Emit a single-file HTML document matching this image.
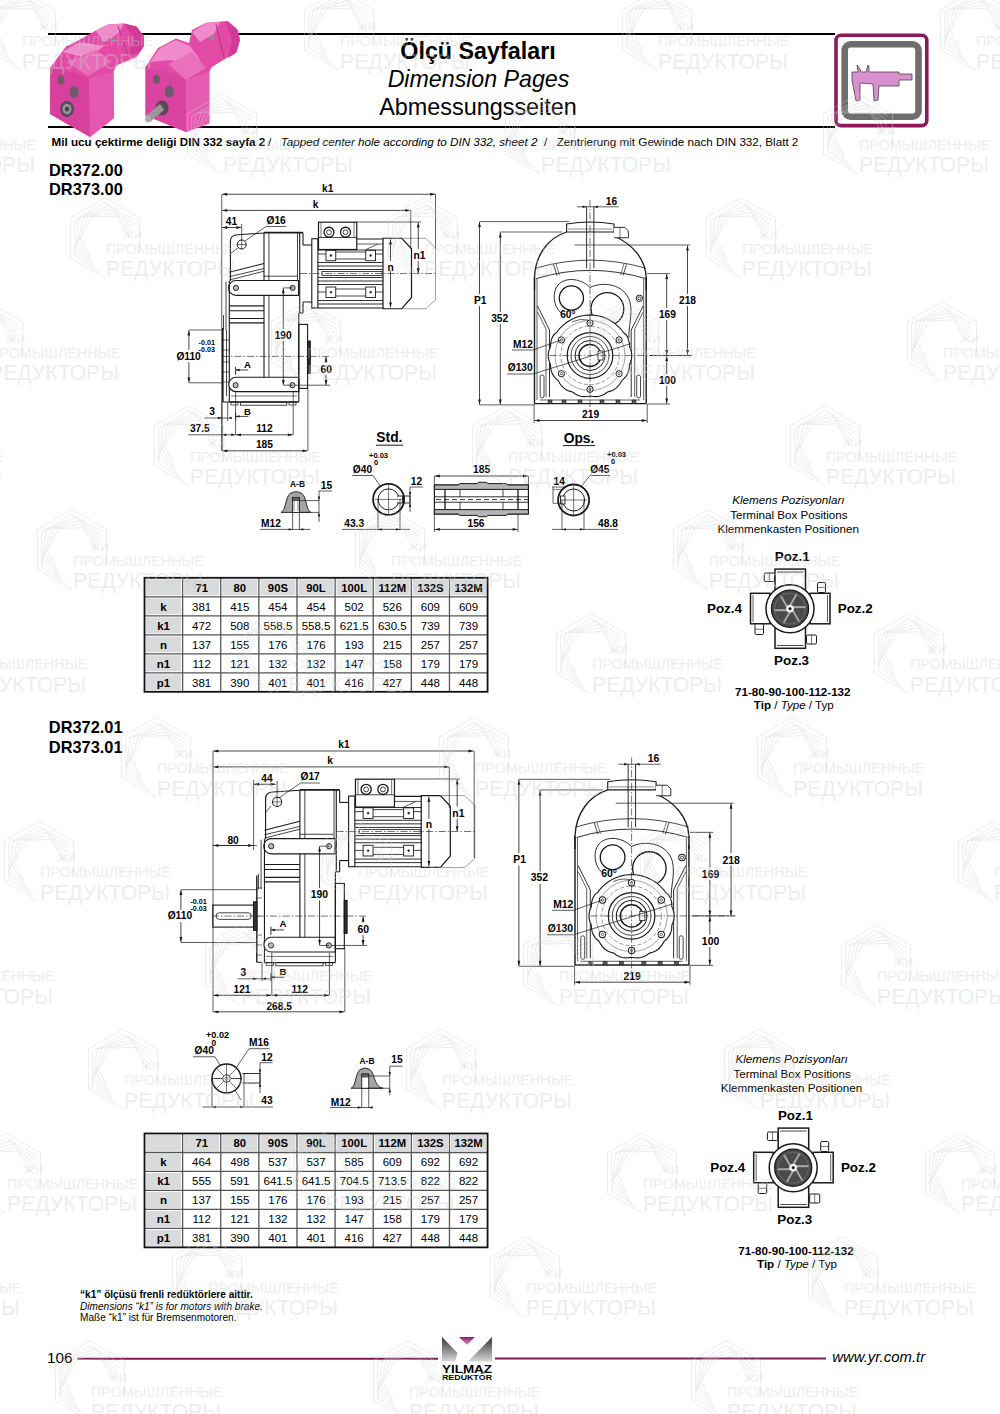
<!DOCTYPE html><html><head><meta charset="utf-8"><style>html,body{margin:0;padding:0;background:#fff;width:1000px;height:1414px;overflow:hidden}svg{display:block}</style></head><body>
<svg width="1000" height="1414" viewBox="0 0 1000 1414" font-family='"Liberation Sans", sans-serif'>
<line x1="48" y1="34" x2="835" y2="34" stroke="#000" stroke-width="2"/>
<line x1="48" y1="127" x2="835" y2="127" stroke="#000" stroke-width="2"/>
<text x="478" y="59" font-size="23.3" font-weight="bold" text-anchor="middle">Ölçü Sayfaları</text>
<text x="478.5" y="86.5" font-size="23.2" font-style="italic" text-anchor="middle">Dimension Pages</text>
<text x="478" y="115" font-size="23.4" text-anchor="middle">Abmessungsseiten</text>
<rect x="836" y="35.2" width="90.8" height="90.4" rx="5" fill="#fff" stroke="#8a1a5c" stroke-width="3.6"/>
<rect x="844.7" y="44.3" width="73.8" height="72.4" rx="6" fill="#fff" stroke="#6e6e6e" stroke-width="6.6"/>
<path d="M852,72 L858,72 L857,65 L860,69 L861,72 L866,72 L868,65 L869,67 L869,72 L899,72 L899,74 L912,74 L912,80 L899,80 L899,86 L879,86 L878,100 L874,101 L873,84 L860,83 L860,100 L856,101 L852,80 Z" fill="#d890cf" stroke="#444" stroke-width="0.8"/>
<text x="51.5" y="146.3" font-size="11.67"><tspan font-weight="bold">Mil ucu çektirme deliği DIN 332 sayfa 2</tspan><tspan x="268">/</tspan><tspan x="280.7" font-style="italic">Tapped center hole according to DIN 332, sheet 2</tspan><tspan x="544">/</tspan><tspan x="556.7">Zentrierung mit Gewinde nach DIN 332, Blatt 2</tspan></text>
<text x="49" y="175.7" font-size="16.4" font-weight="bold">DR372.00</text>
<text x="49" y="195.2" font-size="16.4" font-weight="bold">DR373.00</text>
<text x="48.8" y="732.8" font-size="16.4" font-weight="bold">DR372.01</text>
<text x="48.8" y="752.8" font-size="16.4" font-weight="bold">DR373.01</text>
<rect x="144.5" y="577.8" width="343.08" height="114.0" fill="#fff"/>
<rect x="146.00" y="579.30" width="35.12" height="16.00" fill="#d9dadc"/>
<rect x="184.12" y="579.30" width="35.12" height="16.00" fill="#d9dadc"/>
<rect x="222.24" y="579.30" width="35.12" height="16.00" fill="#d9dadc"/>
<rect x="260.36" y="579.30" width="35.12" height="16.00" fill="#d9dadc"/>
<rect x="298.48" y="579.30" width="35.12" height="16.00" fill="#d9dadc"/>
<rect x="336.60" y="579.30" width="35.12" height="16.00" fill="#d9dadc"/>
<rect x="374.72" y="579.30" width="35.12" height="16.00" fill="#d9dadc"/>
<rect x="412.84" y="579.30" width="35.12" height="16.00" fill="#d9dadc"/>
<rect x="450.96" y="579.30" width="35.12" height="16.00" fill="#d9dadc"/>
<rect x="146.00" y="598.30" width="35.12" height="16.00" fill="#d9dadc"/>
<rect x="146.00" y="617.30" width="35.12" height="16.00" fill="#d9dadc"/>
<rect x="146.00" y="636.30" width="35.12" height="16.00" fill="#d9dadc"/>
<rect x="146.00" y="655.30" width="35.12" height="16.00" fill="#d9dadc"/>
<rect x="146.00" y="674.30" width="35.12" height="16.00" fill="#d9dadc"/>
<line x1="182.62" y1="577.8" x2="182.62" y2="691.8" stroke="#555" stroke-width="1.3"/>
<line x1="220.74" y1="577.8" x2="220.74" y2="691.8" stroke="#555" stroke-width="1.3"/>
<line x1="258.86" y1="577.8" x2="258.86" y2="691.8" stroke="#555" stroke-width="1.3"/>
<line x1="296.98" y1="577.8" x2="296.98" y2="691.8" stroke="#555" stroke-width="1.3"/>
<line x1="335.10" y1="577.8" x2="335.10" y2="691.8" stroke="#555" stroke-width="1.3"/>
<line x1="373.22" y1="577.8" x2="373.22" y2="691.8" stroke="#555" stroke-width="1.3"/>
<line x1="411.34" y1="577.8" x2="411.34" y2="691.8" stroke="#555" stroke-width="1.3"/>
<line x1="449.46" y1="577.8" x2="449.46" y2="691.8" stroke="#555" stroke-width="1.3"/>
<line x1="144.5" y1="596.80" x2="487.58" y2="596.80" stroke="#555" stroke-width="1.3"/>
<line x1="144.5" y1="615.80" x2="487.58" y2="615.80" stroke="#555" stroke-width="1.3"/>
<line x1="144.5" y1="634.80" x2="487.58" y2="634.80" stroke="#555" stroke-width="1.3"/>
<line x1="144.5" y1="653.80" x2="487.58" y2="653.80" stroke="#555" stroke-width="1.3"/>
<line x1="144.5" y1="672.80" x2="487.58" y2="672.80" stroke="#555" stroke-width="1.3"/>
<rect x="144.5" y="577.8" width="343.08" height="114.0" fill="none" stroke="#111" stroke-width="1.8"/>
<text x="201.68" y="591.50" font-size="11.3" font-weight="bold" text-anchor="middle">71</text>
<text x="239.80" y="591.50" font-size="11.3" font-weight="bold" text-anchor="middle">80</text>
<text x="277.92" y="591.50" font-size="11.3" font-weight="bold" text-anchor="middle">90S</text>
<text x="316.04" y="591.50" font-size="11.3" font-weight="bold" text-anchor="middle">90L</text>
<text x="354.16" y="591.50" font-size="11.3" font-weight="bold" text-anchor="middle">100L</text>
<text x="392.28" y="591.50" font-size="11.3" font-weight="bold" text-anchor="middle">112M</text>
<text x="430.40" y="591.50" font-size="11.3" font-weight="bold" text-anchor="middle">132S</text>
<text x="468.52" y="591.50" font-size="11.3" font-weight="bold" text-anchor="middle">132M</text>
<text x="163.56" y="610.50" font-size="11.5" font-weight="bold" text-anchor="middle">k</text>
<text x="201.68" y="610.50" font-size="11.5" text-anchor="middle">381</text>
<text x="239.80" y="610.50" font-size="11.5" text-anchor="middle">415</text>
<text x="277.92" y="610.50" font-size="11.5" text-anchor="middle">454</text>
<text x="316.04" y="610.50" font-size="11.5" text-anchor="middle">454</text>
<text x="354.16" y="610.50" font-size="11.5" text-anchor="middle">502</text>
<text x="392.28" y="610.50" font-size="11.5" text-anchor="middle">526</text>
<text x="430.40" y="610.50" font-size="11.5" text-anchor="middle">609</text>
<text x="468.52" y="610.50" font-size="11.5" text-anchor="middle">609</text>
<text x="163.56" y="629.50" font-size="11.5" font-weight="bold" text-anchor="middle">k1</text>
<text x="201.68" y="629.50" font-size="11.5" text-anchor="middle">472</text>
<text x="239.80" y="629.50" font-size="11.5" text-anchor="middle">508</text>
<text x="277.92" y="629.50" font-size="11.5" text-anchor="middle">558.5</text>
<text x="316.04" y="629.50" font-size="11.5" text-anchor="middle">558.5</text>
<text x="354.16" y="629.50" font-size="11.5" text-anchor="middle">621.5</text>
<text x="392.28" y="629.50" font-size="11.5" text-anchor="middle">630.5</text>
<text x="430.40" y="629.50" font-size="11.5" text-anchor="middle">739</text>
<text x="468.52" y="629.50" font-size="11.5" text-anchor="middle">739</text>
<text x="163.56" y="648.50" font-size="11.5" font-weight="bold" text-anchor="middle">n</text>
<text x="201.68" y="648.50" font-size="11.5" text-anchor="middle">137</text>
<text x="239.80" y="648.50" font-size="11.5" text-anchor="middle">155</text>
<text x="277.92" y="648.50" font-size="11.5" text-anchor="middle">176</text>
<text x="316.04" y="648.50" font-size="11.5" text-anchor="middle">176</text>
<text x="354.16" y="648.50" font-size="11.5" text-anchor="middle">193</text>
<text x="392.28" y="648.50" font-size="11.5" text-anchor="middle">215</text>
<text x="430.40" y="648.50" font-size="11.5" text-anchor="middle">257</text>
<text x="468.52" y="648.50" font-size="11.5" text-anchor="middle">257</text>
<text x="163.56" y="667.50" font-size="11.5" font-weight="bold" text-anchor="middle">n1</text>
<text x="201.68" y="667.50" font-size="11.5" text-anchor="middle">112</text>
<text x="239.80" y="667.50" font-size="11.5" text-anchor="middle">121</text>
<text x="277.92" y="667.50" font-size="11.5" text-anchor="middle">132</text>
<text x="316.04" y="667.50" font-size="11.5" text-anchor="middle">132</text>
<text x="354.16" y="667.50" font-size="11.5" text-anchor="middle">147</text>
<text x="392.28" y="667.50" font-size="11.5" text-anchor="middle">158</text>
<text x="430.40" y="667.50" font-size="11.5" text-anchor="middle">179</text>
<text x="468.52" y="667.50" font-size="11.5" text-anchor="middle">179</text>
<text x="163.56" y="686.50" font-size="11.5" font-weight="bold" text-anchor="middle">p1</text>
<text x="201.68" y="686.50" font-size="11.5" text-anchor="middle">381</text>
<text x="239.80" y="686.50" font-size="11.5" text-anchor="middle">390</text>
<text x="277.92" y="686.50" font-size="11.5" text-anchor="middle">401</text>
<text x="316.04" y="686.50" font-size="11.5" text-anchor="middle">401</text>
<text x="354.16" y="686.50" font-size="11.5" text-anchor="middle">416</text>
<text x="392.28" y="686.50" font-size="11.5" text-anchor="middle">427</text>
<text x="430.40" y="686.50" font-size="11.5" text-anchor="middle">448</text>
<text x="468.52" y="686.50" font-size="11.5" text-anchor="middle">448</text>
<rect x="144.5" y="1133.5" width="343.08" height="113.88" fill="#fff"/>
<rect x="146.00" y="1135.00" width="35.12" height="15.98" fill="#d9dadc"/>
<rect x="184.12" y="1135.00" width="35.12" height="15.98" fill="#d9dadc"/>
<rect x="222.24" y="1135.00" width="35.12" height="15.98" fill="#d9dadc"/>
<rect x="260.36" y="1135.00" width="35.12" height="15.98" fill="#d9dadc"/>
<rect x="298.48" y="1135.00" width="35.12" height="15.98" fill="#d9dadc"/>
<rect x="336.60" y="1135.00" width="35.12" height="15.98" fill="#d9dadc"/>
<rect x="374.72" y="1135.00" width="35.12" height="15.98" fill="#d9dadc"/>
<rect x="412.84" y="1135.00" width="35.12" height="15.98" fill="#d9dadc"/>
<rect x="450.96" y="1135.00" width="35.12" height="15.98" fill="#d9dadc"/>
<rect x="146.00" y="1153.98" width="35.12" height="15.98" fill="#d9dadc"/>
<rect x="146.00" y="1172.96" width="35.12" height="15.98" fill="#d9dadc"/>
<rect x="146.00" y="1191.94" width="35.12" height="15.98" fill="#d9dadc"/>
<rect x="146.00" y="1210.92" width="35.12" height="15.98" fill="#d9dadc"/>
<rect x="146.00" y="1229.90" width="35.12" height="15.98" fill="#d9dadc"/>
<line x1="182.62" y1="1133.5" x2="182.62" y2="1247.38" stroke="#555" stroke-width="1.3"/>
<line x1="220.74" y1="1133.5" x2="220.74" y2="1247.38" stroke="#555" stroke-width="1.3"/>
<line x1="258.86" y1="1133.5" x2="258.86" y2="1247.38" stroke="#555" stroke-width="1.3"/>
<line x1="296.98" y1="1133.5" x2="296.98" y2="1247.38" stroke="#555" stroke-width="1.3"/>
<line x1="335.10" y1="1133.5" x2="335.10" y2="1247.38" stroke="#555" stroke-width="1.3"/>
<line x1="373.22" y1="1133.5" x2="373.22" y2="1247.38" stroke="#555" stroke-width="1.3"/>
<line x1="411.34" y1="1133.5" x2="411.34" y2="1247.38" stroke="#555" stroke-width="1.3"/>
<line x1="449.46" y1="1133.5" x2="449.46" y2="1247.38" stroke="#555" stroke-width="1.3"/>
<line x1="144.5" y1="1152.48" x2="487.58" y2="1152.48" stroke="#555" stroke-width="1.3"/>
<line x1="144.5" y1="1171.46" x2="487.58" y2="1171.46" stroke="#555" stroke-width="1.3"/>
<line x1="144.5" y1="1190.44" x2="487.58" y2="1190.44" stroke="#555" stroke-width="1.3"/>
<line x1="144.5" y1="1209.42" x2="487.58" y2="1209.42" stroke="#555" stroke-width="1.3"/>
<line x1="144.5" y1="1228.40" x2="487.58" y2="1228.40" stroke="#555" stroke-width="1.3"/>
<rect x="144.5" y="1133.5" width="343.08" height="113.88" fill="none" stroke="#111" stroke-width="1.8"/>
<text x="201.68" y="1147.19" font-size="11.3" font-weight="bold" text-anchor="middle">71</text>
<text x="239.80" y="1147.19" font-size="11.3" font-weight="bold" text-anchor="middle">80</text>
<text x="277.92" y="1147.19" font-size="11.3" font-weight="bold" text-anchor="middle">90S</text>
<text x="316.04" y="1147.19" font-size="11.3" font-weight="bold" text-anchor="middle">90L</text>
<text x="354.16" y="1147.19" font-size="11.3" font-weight="bold" text-anchor="middle">100L</text>
<text x="392.28" y="1147.19" font-size="11.3" font-weight="bold" text-anchor="middle">112M</text>
<text x="430.40" y="1147.19" font-size="11.3" font-weight="bold" text-anchor="middle">132S</text>
<text x="468.52" y="1147.19" font-size="11.3" font-weight="bold" text-anchor="middle">132M</text>
<text x="163.56" y="1166.17" font-size="11.5" font-weight="bold" text-anchor="middle">k</text>
<text x="201.68" y="1166.17" font-size="11.5" text-anchor="middle">464</text>
<text x="239.80" y="1166.17" font-size="11.5" text-anchor="middle">498</text>
<text x="277.92" y="1166.17" font-size="11.5" text-anchor="middle">537</text>
<text x="316.04" y="1166.17" font-size="11.5" text-anchor="middle">537</text>
<text x="354.16" y="1166.17" font-size="11.5" text-anchor="middle">585</text>
<text x="392.28" y="1166.17" font-size="11.5" text-anchor="middle">609</text>
<text x="430.40" y="1166.17" font-size="11.5" text-anchor="middle">692</text>
<text x="468.52" y="1166.17" font-size="11.5" text-anchor="middle">692</text>
<text x="163.56" y="1185.15" font-size="11.5" font-weight="bold" text-anchor="middle">k1</text>
<text x="201.68" y="1185.15" font-size="11.5" text-anchor="middle">555</text>
<text x="239.80" y="1185.15" font-size="11.5" text-anchor="middle">591</text>
<text x="277.92" y="1185.15" font-size="11.5" text-anchor="middle">641.5</text>
<text x="316.04" y="1185.15" font-size="11.5" text-anchor="middle">641.5</text>
<text x="354.16" y="1185.15" font-size="11.5" text-anchor="middle">704.5</text>
<text x="392.28" y="1185.15" font-size="11.5" text-anchor="middle">713.5</text>
<text x="430.40" y="1185.15" font-size="11.5" text-anchor="middle">822</text>
<text x="468.52" y="1185.15" font-size="11.5" text-anchor="middle">822</text>
<text x="163.56" y="1204.13" font-size="11.5" font-weight="bold" text-anchor="middle">n</text>
<text x="201.68" y="1204.13" font-size="11.5" text-anchor="middle">137</text>
<text x="239.80" y="1204.13" font-size="11.5" text-anchor="middle">155</text>
<text x="277.92" y="1204.13" font-size="11.5" text-anchor="middle">176</text>
<text x="316.04" y="1204.13" font-size="11.5" text-anchor="middle">176</text>
<text x="354.16" y="1204.13" font-size="11.5" text-anchor="middle">193</text>
<text x="392.28" y="1204.13" font-size="11.5" text-anchor="middle">215</text>
<text x="430.40" y="1204.13" font-size="11.5" text-anchor="middle">257</text>
<text x="468.52" y="1204.13" font-size="11.5" text-anchor="middle">257</text>
<text x="163.56" y="1223.11" font-size="11.5" font-weight="bold" text-anchor="middle">n1</text>
<text x="201.68" y="1223.11" font-size="11.5" text-anchor="middle">112</text>
<text x="239.80" y="1223.11" font-size="11.5" text-anchor="middle">121</text>
<text x="277.92" y="1223.11" font-size="11.5" text-anchor="middle">132</text>
<text x="316.04" y="1223.11" font-size="11.5" text-anchor="middle">132</text>
<text x="354.16" y="1223.11" font-size="11.5" text-anchor="middle">147</text>
<text x="392.28" y="1223.11" font-size="11.5" text-anchor="middle">158</text>
<text x="430.40" y="1223.11" font-size="11.5" text-anchor="middle">179</text>
<text x="468.52" y="1223.11" font-size="11.5" text-anchor="middle">179</text>
<text x="163.56" y="1242.09" font-size="11.5" font-weight="bold" text-anchor="middle">p1</text>
<text x="201.68" y="1242.09" font-size="11.5" text-anchor="middle">381</text>
<text x="239.80" y="1242.09" font-size="11.5" text-anchor="middle">390</text>
<text x="277.92" y="1242.09" font-size="11.5" text-anchor="middle">401</text>
<text x="316.04" y="1242.09" font-size="11.5" text-anchor="middle">401</text>
<text x="354.16" y="1242.09" font-size="11.5" text-anchor="middle">416</text>
<text x="392.28" y="1242.09" font-size="11.5" text-anchor="middle">427</text>
<text x="430.40" y="1242.09" font-size="11.5" text-anchor="middle">448</text>
<text x="468.52" y="1242.09" font-size="11.5" text-anchor="middle">448</text>
<text x="80" y="1297.5" font-size="10.1" font-weight="bold">“k1” ölçüsü frenli redüktörlere aittir.</text>
<text x="80" y="1309.5" font-size="10.1" font-style="italic">Dimensions “k1” is for motors with brake.</text>
<text x="80" y="1321" font-size="10.1">Maße “k1” ist für Bremsenmotoren.</text>
<text x="47" y="1363" font-size="15.3">106</text>
<line x1="77.5" y1="1358.7" x2="438" y2="1358.7" stroke="#7d1a5c" stroke-width="2"/>
<line x1="495" y1="1358.5" x2="826" y2="1358.5" stroke="#7d1a5c" stroke-width="2"/>
<text x="832.2" y="1362" font-size="14.9" font-style="italic">www.yr.com.tr</text>
<defs><linearGradient id="lg" x1="0" y1="0" x2="0" y2="1"><stop offset="0" stop-color="#333"/><stop offset="1" stop-color="#d8d8d8"/></linearGradient><linearGradient id="lp" x1="0" y1="0" x2="0" y2="1"><stop offset="0" stop-color="#8a1a6a"/><stop offset="1" stop-color="#c9a0c0"/></linearGradient></defs>
<path d="M442,1337 L457.5,1353 L455,1361.5 L442,1361.5 Z" fill="url(#lg)"/>
<path d="M492,1337 L492,1361.5 L468,1361.5 Z" fill="url(#lg)"/>
<path d="M459,1337 L475,1337 L467,1345 Z" fill="url(#lp)"/>
<text x="467" y="1372.8" font-size="11.2" font-weight="bold" text-anchor="middle" textLength="50" lengthAdjust="spacingAndGlyphs">YILMAZ</text>
<text x="467" y="1380.2" font-size="6.8" font-weight="bold" text-anchor="middle" textLength="50" lengthAdjust="spacingAndGlyphs">REDÜKTÖR</text>
<path d="M230.4,281 L230.4,241 Q230.6,235.2 237.5,234.8 L264,233" fill="none" stroke="#1a1a1a" stroke-width="1.1"/>
<line x1="264.00" y1="232.70" x2="303.00" y2="232.70" stroke="#1a1a1a" stroke-width="1.8"/>
<line x1="264.00" y1="232.70" x2="264.00" y2="378.00" stroke="#1a1a1a" stroke-width="1.1"/>
<line x1="268.90" y1="232.70" x2="268.90" y2="378.00" stroke="#1a1a1a" stroke-width="0.8"/>
<line x1="297.50" y1="232.70" x2="297.50" y2="281.00" stroke="#1a1a1a" stroke-width="0.8"/>
<line x1="299.70" y1="232.70" x2="299.70" y2="313.00" stroke="#1a1a1a" stroke-width="1.1"/>
<line x1="303.00" y1="232.70" x2="303.00" y2="245.00" stroke="#1a1a1a" stroke-width="1.1"/>
<line x1="303.00" y1="245.00" x2="311.80" y2="245.00" stroke="#1a1a1a" stroke-width="1.1"/>
<line x1="303.00" y1="302.00" x2="311.80" y2="302.00" stroke="#1a1a1a" stroke-width="1.1"/>
<line x1="303.00" y1="302.00" x2="303.00" y2="313.00" stroke="#1a1a1a" stroke-width="1.1"/>
<line x1="299.70" y1="313.00" x2="303.00" y2="313.00" stroke="#1a1a1a" stroke-width="1.1"/>
<line x1="229.30" y1="272.30" x2="264.00" y2="263.50" stroke="#1a1a1a" stroke-width="1.1"/>
<line x1="229.30" y1="276.70" x2="264.00" y2="268.50" stroke="#1a1a1a" stroke-width="0.8"/>
<line x1="229.30" y1="280.00" x2="264.00" y2="271.20" stroke="#1a1a1a" stroke-width="0.8"/>
<line x1="264.00" y1="276.20" x2="297.50" y2="276.20" stroke="#1a1a1a" stroke-width="0.8"/>
<path d="M236,280.5 L298.5,280.5 L298.5,295.4 L236,295.4 A7.45,7.45 0 0 1 236,280.5 Z" fill="#fff" stroke="#1a1a1a" stroke-width="1.1"/>
<circle cx="235.90" cy="287.90" r="2.60" fill="#bbb" stroke="#1a1a1a" stroke-width="0.9"/>
<circle cx="292.60" cy="287.90" r="2.60" fill="#bbb" stroke="#1a1a1a" stroke-width="0.9"/>
<line x1="229.30" y1="281.00" x2="229.30" y2="402.00" stroke="#1a1a1a" stroke-width="1.1"/>
<line x1="226.00" y1="281.60" x2="226.00" y2="330.00" stroke="#1a1a1a" stroke-width="0.8"/>
<line x1="223.50" y1="315.00" x2="223.50" y2="330.00" stroke="#1a1a1a" stroke-width="0.8"/>
<line x1="229.30" y1="305.90" x2="264.00" y2="305.90" stroke="#1a1a1a" stroke-width="1.1"/>
<line x1="229.30" y1="310.80" x2="264.00" y2="310.80" stroke="#1a1a1a" stroke-width="1.1"/>
<line x1="229.30" y1="318.50" x2="264.00" y2="318.50" stroke="#1a1a1a" stroke-width="1.1"/>
<line x1="229.30" y1="322.90" x2="264.00" y2="322.90" stroke="#1a1a1a" stroke-width="1.1"/>
<path d="M236,377.2 L298.8,377.2 L298.8,391.6 L236,391.6 A7.2,7.2 0 0 1 236,377.2 Z" fill="#fff" stroke="#1a1a1a" stroke-width="1.1"/>
<circle cx="235.60" cy="385.20" r="2.60" fill="#bbb" stroke="#1a1a1a" stroke-width="0.9"/>
<circle cx="292.40" cy="385.20" r="2.60" fill="#bbb" stroke="#1a1a1a" stroke-width="0.9"/>
<line x1="298.80" y1="313.00" x2="298.80" y2="402.00" stroke="#1a1a1a" stroke-width="1.1"/>
<line x1="229.30" y1="402.00" x2="298.80" y2="402.00" stroke="#1a1a1a" stroke-width="1.3"/>
<line x1="231.00" y1="396.00" x2="297.00" y2="396.00" stroke="#1a1a1a" stroke-width="0.6"/>
<rect x="240.40" y="402.00" width="46.40" height="3.20" fill="none" stroke="#1a1a1a" stroke-width="0.8"/>
<rect x="231.00" y="402.00" width="7.00" height="3.00" fill="none" stroke="#1a1a1a" stroke-width="0.7"/>
<rect x="289.00" y="402.00" width="7.00" height="3.00" fill="none" stroke="#1a1a1a" stroke-width="0.7"/>
<rect x="298.80" y="324.40" width="8.80" height="64.00" fill="none" stroke="#1a1a1a" stroke-width="1.1"/>
<rect x="307.60" y="341.20" width="2.60" height="32.00" fill="#333" stroke="#1a1a1a" stroke-width="1.3"/>
<rect x="311.80" y="238.75" width="6.10" height="69.25" fill="none" stroke="#1a1a1a" stroke-width="1.1"/>
<line x1="317.90" y1="239.00" x2="383.00" y2="239.00" stroke="#1a1a1a" stroke-width="1.1"/>
<line x1="317.90" y1="308.00" x2="383.00" y2="308.00" stroke="#1a1a1a" stroke-width="1.1"/>
<rect x="318.50" y="222.20" width="38.25" height="27.30" fill="#fff" stroke="#1a1a1a" stroke-width="1.2"/>
<line x1="318.50" y1="237.50" x2="356.75" y2="237.50" stroke="#1a1a1a" stroke-width="0.8"/>
<line x1="321.00" y1="222.20" x2="321.00" y2="237.50" stroke="#1a1a1a" stroke-width="0.6"/>
<line x1="354.00" y1="222.20" x2="354.00" y2="237.50" stroke="#1a1a1a" stroke-width="0.6"/>
<circle cx="329.00" cy="232.25" r="5.00" fill="#fff" stroke="#1a1a1a" stroke-width="1.3"/>
<circle cx="329.00" cy="232.25" r="2.40" fill="none" stroke="#1a1a1a" stroke-width="0.8"/>
<circle cx="345.50" cy="232.25" r="5.00" fill="#fff" stroke="#1a1a1a" stroke-width="1.3"/>
<circle cx="345.50" cy="232.25" r="2.40" fill="none" stroke="#1a1a1a" stroke-width="0.8"/>
<rect x="326.00" y="250.25" width="9.75" height="10.50" fill="#fff" stroke="#1a1a1a" stroke-width="0.9"/>
<circle cx="330.90" cy="255.50" r="0.90" fill="#1a1a1a" stroke="#1a1a1a" stroke-width="0.6"/>
<rect x="326.00" y="287.00" width="9.75" height="10.50" fill="#fff" stroke="#1a1a1a" stroke-width="0.9"/>
<circle cx="330.90" cy="292.20" r="0.90" fill="#1a1a1a" stroke="#1a1a1a" stroke-width="0.6"/>
<rect x="365.75" y="250.25" width="9.75" height="10.50" fill="#fff" stroke="#1a1a1a" stroke-width="0.9"/>
<circle cx="370.65" cy="255.50" r="0.90" fill="#1a1a1a" stroke="#1a1a1a" stroke-width="0.6"/>
<rect x="365.75" y="287.00" width="9.75" height="10.50" fill="#fff" stroke="#1a1a1a" stroke-width="0.9"/>
<circle cx="370.65" cy="292.20" r="0.90" fill="#1a1a1a" stroke="#1a1a1a" stroke-width="0.6"/>
<line x1="335.75" y1="252.00" x2="365.75" y2="252.00" stroke="#1a1a1a" stroke-width="0.8"/>
<line x1="335.75" y1="259.00" x2="365.75" y2="259.00" stroke="#1a1a1a" stroke-width="0.8"/>
<line x1="335.75" y1="289.00" x2="365.75" y2="289.00" stroke="#1a1a1a" stroke-width="0.8"/>
<line x1="335.75" y1="296.00" x2="365.75" y2="296.00" stroke="#1a1a1a" stroke-width="0.8"/>
<line x1="318.00" y1="250.00" x2="383.00" y2="250.00" stroke="#1a1a1a" stroke-width="0.9"/>
<line x1="318.00" y1="262.50" x2="383.00" y2="262.50" stroke="#1a1a1a" stroke-width="0.9"/>
<line x1="318.00" y1="266.00" x2="383.00" y2="266.00" stroke="#1a1a1a" stroke-width="0.9"/>
<line x1="318.00" y1="269.50" x2="383.00" y2="269.50" stroke="#1a1a1a" stroke-width="0.9"/>
<line x1="318.00" y1="277.50" x2="383.00" y2="277.50" stroke="#1a1a1a" stroke-width="0.9"/>
<line x1="318.00" y1="281.00" x2="383.00" y2="281.00" stroke="#1a1a1a" stroke-width="0.9"/>
<line x1="318.00" y1="284.50" x2="383.00" y2="284.50" stroke="#1a1a1a" stroke-width="0.9"/>
<line x1="318.00" y1="300.50" x2="383.00" y2="300.50" stroke="#1a1a1a" stroke-width="0.9"/>
<line x1="318.00" y1="304.00" x2="383.00" y2="304.00" stroke="#1a1a1a" stroke-width="0.9"/>
<line x1="318.00" y1="254.00" x2="326.00" y2="254.00" stroke="#1a1a1a" stroke-width="0.8"/>
<line x1="375.50" y1="254.00" x2="383.00" y2="254.00" stroke="#1a1a1a" stroke-width="0.8"/>
<line x1="318.00" y1="292.00" x2="326.00" y2="292.00" stroke="#1a1a1a" stroke-width="0.8"/>
<line x1="375.50" y1="292.00" x2="383.00" y2="292.00" stroke="#1a1a1a" stroke-width="0.8"/>
<rect x="322.00" y="271.50" width="60.00" height="4.00" fill="#fff" stroke="#1a1a1a" stroke-width="0.8"/>
<line x1="357.00" y1="244.00" x2="383.00" y2="244.00" stroke="#1a1a1a" stroke-width="0.7"/>
<line x1="366.00" y1="249.50" x2="378.00" y2="244.00" stroke="#1a1a1a" stroke-width="0.7"/>
<path d="M383.00,238.25 L401.75,238.25 L411.50,248.75 L411.50,297.50 L401.75,308.75 L383.00,308.75 Z" fill="none" stroke="#1a1a1a" stroke-width="1.2"/>
<path d="M401.75,238.25 L425.75,238.25 L435.50,248.00 L435.50,299.75 L425.75,308.75 L401.75,308.75" fill="none" stroke="#777" stroke-width="0.7"/>
<line x1="390.50" y1="239.50" x2="390.50" y2="307.50" stroke="#1a1a1a" stroke-width="0.8"/>
<path d="M390.50,239.50 L391.90,244.50 L389.10,244.50 Z" fill="#1a1a1a"/>
<path d="M390.50,307.50 L389.10,302.50 L391.90,302.50 Z" fill="#1a1a1a"/>
<rect x="386.00" y="261.00" width="9.00" height="10.00" fill="#fff"/>
<text x="390.50" y="270.50" font-size="10.2" font-weight="bold" text-anchor="middle">n</text>
<line x1="356.75" y1="222.00" x2="421.00" y2="222.00" stroke="#1a1a1a" stroke-width="0.7"/>
<line x1="418.25" y1="222.50" x2="418.25" y2="273.30" stroke="#1a1a1a" stroke-width="0.8"/>
<path d="M418.25,222.50 L419.65,227.50 L416.85,227.50 Z" fill="#1a1a1a"/>
<path d="M418.25,273.30 L416.85,268.30 L419.65,268.30 Z" fill="#1a1a1a"/>
<rect x="413.00" y="249.00" width="13.00" height="12.00" fill="#fff"/>
<text x="419.40" y="258.80" font-size="10.2" font-weight="bold" text-anchor="middle">n1</text>
<line x1="300.00" y1="273.50" x2="437.00" y2="273.50" stroke="#1a1a1a" stroke-width="0.6" stroke-dasharray="7 2 1.5 2"/>
<line x1="283.30" y1="287.90" x2="292.60" y2="287.90" stroke="#1a1a1a" stroke-width="0.7"/>
<line x1="283.30" y1="385.20" x2="292.60" y2="385.20" stroke="#1a1a1a" stroke-width="0.7"/>
<line x1="283.30" y1="288.20" x2="283.30" y2="384.90" stroke="#1a1a1a" stroke-width="0.8"/>
<path d="M283.30,288.20 L284.70,293.20 L281.90,293.20 Z" fill="#1a1a1a"/>
<path d="M283.30,384.90 L281.90,379.90 L284.70,379.90 Z" fill="#1a1a1a"/>
<rect x="274.00" y="329.00" width="19.00" height="12.00" fill="#fff"/>
<text x="283.20" y="338.80" font-size="10.2" font-weight="bold" text-anchor="middle">190</text>
<line x1="222.00" y1="356.40" x2="330.00" y2="356.40" stroke="#1a1a1a" stroke-width="0.6" stroke-dasharray="7 2 1.5 2"/>
<line x1="295.00" y1="385.20" x2="330.00" y2="385.20" stroke="#1a1a1a" stroke-width="0.7"/>
<line x1="326.00" y1="356.70" x2="326.00" y2="384.90" stroke="#1a1a1a" stroke-width="0.8"/>
<path d="M326.00,356.70 L327.40,361.70 L324.60,361.70 Z" fill="#1a1a1a"/>
<path d="M326.00,384.90 L324.60,379.90 L327.40,379.90 Z" fill="#1a1a1a"/>
<rect x="319.00" y="363.00" width="14.00" height="12.00" fill="#fff"/>
<text x="326.20" y="373.20" font-size="10.2" font-weight="bold" text-anchor="middle">60</text>
<line x1="235.60" y1="366.80" x2="235.60" y2="374.80" stroke="#1a1a1a" stroke-width="0.9"/>
<line x1="235.60" y1="370.00" x2="248.40" y2="370.00" stroke="#1a1a1a" stroke-width="0.8"/>
<path d="M235.60,370.00 L239.60,368.80 L239.60,371.20 Z" fill="#1a1a1a"/>
<text x="247.40" y="367.60" font-size="9.5" font-weight="bold" text-anchor="middle">A</text>
<line x1="235.60" y1="412.50" x2="235.60" y2="420.00" stroke="#1a1a1a" stroke-width="0.9"/>
<line x1="235.60" y1="416.40" x2="248.40" y2="416.40" stroke="#1a1a1a" stroke-width="0.8"/>
<path d="M235.60,416.40 L239.60,415.20 L239.60,417.60 Z" fill="#1a1a1a"/>
<text x="247.40" y="414.50" font-size="9.5" font-weight="bold" text-anchor="middle">B</text>
<line x1="222.80" y1="328.00" x2="222.80" y2="402.00" stroke="#1a1a1a" stroke-width="1.6"/>
<line x1="226.50" y1="330.00" x2="226.50" y2="396.00" stroke="#1a1a1a" stroke-width="0.8"/>
<line x1="222.80" y1="340.00" x2="229.30" y2="340.00" stroke="#1a1a1a" stroke-width="0.6"/>
<line x1="222.80" y1="350.00" x2="229.30" y2="350.00" stroke="#1a1a1a" stroke-width="0.6"/>
<line x1="222.80" y1="362.00" x2="229.30" y2="362.00" stroke="#1a1a1a" stroke-width="0.6"/>
<line x1="222.80" y1="372.00" x2="229.30" y2="372.00" stroke="#1a1a1a" stroke-width="0.6"/>
<line x1="222.80" y1="382.00" x2="229.30" y2="382.00" stroke="#1a1a1a" stroke-width="0.6"/>
<line x1="222.80" y1="402.00" x2="229.30" y2="402.00" stroke="#1a1a1a" stroke-width="1"/>
<line x1="221.75" y1="194.25" x2="221.75" y2="450.80" stroke="#1a1a1a" stroke-width="0.7"/>
<line x1="222.20" y1="194.25" x2="435.10" y2="194.25" stroke="#1a1a1a" stroke-width="0.8"/>
<path d="M222.20,194.25 L227.20,192.85 L227.20,195.65 Z" fill="#1a1a1a"/>
<path d="M435.10,194.25 L430.10,195.65 L430.10,192.85 Z" fill="#1a1a1a"/>
<text x="327.70" y="191.60" font-size="10.2" font-weight="bold" text-anchor="middle">k1</text>
<line x1="435.50" y1="194.00" x2="435.50" y2="249.00" stroke="#1a1a1a" stroke-width="0.7"/>
<line x1="222.20" y1="210.40" x2="410.30" y2="210.40" stroke="#1a1a1a" stroke-width="0.8"/>
<path d="M222.20,210.40 L227.20,209.00 L227.20,211.80 Z" fill="#1a1a1a"/>
<path d="M410.30,210.40 L405.30,211.80 L405.30,209.00 Z" fill="#1a1a1a"/>
<text x="315.70" y="207.50" font-size="10.2" font-weight="bold" text-anchor="middle">k</text>
<line x1="410.75" y1="210.00" x2="410.75" y2="249.00" stroke="#1a1a1a" stroke-width="0.7"/>
<line x1="241.70" y1="224.00" x2="241.70" y2="244.50" stroke="#1a1a1a" stroke-width="0.7"/>
<line x1="222.20" y1="227.50" x2="241.30" y2="227.50" stroke="#1a1a1a" stroke-width="0.8"/>
<path d="M222.20,227.50 L227.20,226.10 L227.20,228.90 Z" fill="#1a1a1a"/>
<path d="M241.30,227.50 L236.30,228.90 L236.30,226.10 Z" fill="#1a1a1a"/>
<text x="231.50" y="225.00" font-size="10.2" font-weight="bold" text-anchor="middle">41</text>
<circle cx="241.70" cy="244.50" r="4.50" fill="#fff" stroke="#1a1a1a" stroke-width="1.0"/>
<line x1="237.00" y1="244.50" x2="246.40" y2="244.50" stroke="#1a1a1a" stroke-width="0.6"/>
<line x1="241.70" y1="239.80" x2="241.70" y2="249.20" stroke="#1a1a1a" stroke-width="0.6"/>
<text x="276.10" y="223.50" font-size="10.2" font-weight="bold" text-anchor="middle">Ø16</text>
<line x1="266.00" y1="226.50" x2="286.20" y2="226.50" stroke="#1a1a1a" stroke-width="0.7"/>
<line x1="266.00" y1="226.50" x2="245.00" y2="241.00" stroke="#1a1a1a" stroke-width="0.7"/>
<line x1="238.00" y1="248.00" x2="230.00" y2="254.00" stroke="#1a1a1a" stroke-width="0.7"/>
<line x1="188.90" y1="330.00" x2="222.80" y2="330.00" stroke="#1a1a1a" stroke-width="0.7"/>
<line x1="188.90" y1="382.80" x2="222.80" y2="382.80" stroke="#1a1a1a" stroke-width="0.7"/>
<line x1="188.90" y1="330.40" x2="188.90" y2="382.40" stroke="#1a1a1a" stroke-width="0.8"/>
<path d="M188.90,330.40 L190.30,335.40 L187.50,335.40 Z" fill="#1a1a1a"/>
<path d="M188.90,382.40 L187.50,377.40 L190.30,377.40 Z" fill="#1a1a1a"/>
<rect x="175.00" y="350.00" width="27.00" height="12.00" fill="#fff"/>
<text x="176.40" y="359.60" font-size="10.2" font-weight="bold">Ø110</text>
<text x="198.50" y="345.20" font-size="7.2" font-weight="bold">-0.01</text>
<text x="198.50" y="351.60" font-size="7.2" font-weight="bold">-0.03</text>
<line x1="222.00" y1="402.00" x2="222.00" y2="450.80" stroke="#1a1a1a" stroke-width="0.7"/>
<line x1="235.60" y1="391.00" x2="235.60" y2="434.80" stroke="#1a1a1a" stroke-width="0.7"/>
<line x1="293.20" y1="391.00" x2="293.20" y2="434.80" stroke="#1a1a1a" stroke-width="0.7"/>
<line x1="307.90" y1="388.40" x2="307.90" y2="450.80" stroke="#1a1a1a" stroke-width="0.7"/>
<line x1="227.70" y1="402.00" x2="227.70" y2="421.00" stroke="#1a1a1a" stroke-width="0.7"/>
<line x1="204.40" y1="418.00" x2="227.70" y2="418.00" stroke="#1a1a1a" stroke-width="0.7"/>
<path d="M222.00,418.00 L218.00,419.20 L218.00,416.80 Z" fill="#1a1a1a"/>
<path d="M227.70,418.00 L231.70,416.80 L231.70,419.20 Z" fill="#1a1a1a"/>
<text x="212.00" y="414.80" font-size="10.2" font-weight="bold" text-anchor="middle">3</text>
<line x1="188.40" y1="434.80" x2="235.60" y2="434.80" stroke="#1a1a1a" stroke-width="0.7"/>
<path d="M222.20,434.80 L226.20,433.60 L226.20,436.00 Z" fill="#1a1a1a"/>
<path d="M235.20,434.80 L231.20,436.00 L231.20,433.60 Z" fill="#1a1a1a"/>
<text x="199.80" y="432.00" font-size="10.2" font-weight="bold" text-anchor="middle">37.5</text>
<line x1="236.00" y1="434.80" x2="292.80" y2="434.80" stroke="#1a1a1a" stroke-width="0.8"/>
<path d="M236.00,434.80 L241.00,433.40 L241.00,436.20 Z" fill="#1a1a1a"/>
<path d="M292.80,434.80 L287.80,436.20 L287.80,433.40 Z" fill="#1a1a1a"/>
<text x="264.40" y="432.00" font-size="10.2" font-weight="bold" text-anchor="middle">112</text>
<line x1="222.40" y1="450.80" x2="307.50" y2="450.80" stroke="#1a1a1a" stroke-width="0.8"/>
<path d="M222.40,450.80 L227.40,449.40 L227.40,452.20 Z" fill="#1a1a1a"/>
<path d="M307.50,450.80 L302.50,452.20 L302.50,449.40 Z" fill="#1a1a1a"/>
<text x="264.40" y="448.40" font-size="10.2" font-weight="bold" text-anchor="middle">185</text>
<path d="M534.5,290 L534.5,277 C535.5,255 548,238 566.6,232 M614,236 C632,244 645,258 646.2,277 L646.2,290" fill="none" stroke="#1a1a1a" stroke-width="1.3"/>
<path d="M566.6,232 L566.6,224 Q590,220 614,224 L614,232" fill="#fff" stroke="#1a1a1a" stroke-width="1.1"/>
<line x1="566.60" y1="232.00" x2="614.00" y2="232.00" stroke="#1a1a1a" stroke-width="1.1"/>
<line x1="568.00" y1="229.00" x2="612.00" y2="229.00" stroke="#1a1a1a" stroke-width="0.5"/>
<path d="M614,227.4 L625,227.4 L628.4,231 L628.4,237.75 L614,237.75" fill="#fff" stroke="#1a1a1a" stroke-width="0.9"/>
<line x1="620.00" y1="227.40" x2="620.00" y2="237.75" stroke="#1a1a1a" stroke-width="0.6"/>
<path d="M535.5,268.3 Q590,252 646,268.3" fill="none" stroke="#1a1a1a" stroke-width="0.8"/>
<path d="M536,278.7 Q590,262 646,278.7" fill="none" stroke="#1a1a1a" stroke-width="0.9"/>
<line x1="553.50" y1="264.50" x2="557.00" y2="275.50" stroke="#1a1a1a" stroke-width="0.8"/>
<line x1="556.00" y1="264.00" x2="559.50" y2="275.00" stroke="#1a1a1a" stroke-width="0.6"/>
<line x1="626.50" y1="264.50" x2="623.00" y2="275.50" stroke="#1a1a1a" stroke-width="0.8"/>
<line x1="624.00" y1="264.00" x2="620.50" y2="275.00" stroke="#1a1a1a" stroke-width="0.6"/>
<line x1="534.50" y1="277.50" x2="534.50" y2="403.60" stroke="#1a1a1a" stroke-width="1.4"/>
<line x1="646.20" y1="277.50" x2="646.20" y2="403.60" stroke="#1a1a1a" stroke-width="1.4"/>
<line x1="537.00" y1="279.00" x2="537.00" y2="400.00" stroke="#1a1a1a" stroke-width="0.7"/>
<line x1="643.70" y1="279.00" x2="643.70" y2="400.00" stroke="#1a1a1a" stroke-width="0.7"/>
<line x1="534.50" y1="403.60" x2="646.20" y2="403.60" stroke="#1a1a1a" stroke-width="1.3"/>
<line x1="540.00" y1="400.00" x2="640.00" y2="400.00" stroke="#1a1a1a" stroke-width="0.7"/>
<rect x="548.00" y="400.00" width="4.00" height="3.60" fill="#555" stroke="#1a1a1a" stroke-width="0.5"/>
<rect x="562.00" y="400.00" width="4.00" height="3.60" fill="#555" stroke="#1a1a1a" stroke-width="0.5"/>
<rect x="578.00" y="400.00" width="4.00" height="3.60" fill="#555" stroke="#1a1a1a" stroke-width="0.5"/>
<rect x="600.00" y="400.00" width="4.00" height="3.60" fill="#555" stroke="#1a1a1a" stroke-width="0.5"/>
<rect x="616.00" y="400.00" width="4.00" height="3.60" fill="#555" stroke="#1a1a1a" stroke-width="0.5"/>
<rect x="632.00" y="400.00" width="4.00" height="3.60" fill="#555" stroke="#1a1a1a" stroke-width="0.5"/>
<path d="M537.50,306.00 L549.50,330.00 L549.50,397.00" fill="none" stroke="#1a1a1a" stroke-width="0.9"/>
<path d="M537.50,312.00 L546.00,329.00 L546.00,397.00" fill="none" stroke="#1a1a1a" stroke-width="0.7"/>
<path d="M643.20,306.00 L631.20,330.00 L631.20,397.00" fill="none" stroke="#1a1a1a" stroke-width="0.9"/>
<path d="M643.20,312.00 L634.70,329.00 L634.70,397.00" fill="none" stroke="#1a1a1a" stroke-width="0.7"/>
<rect x="540.20" y="375.00" width="3.80" height="23.00" fill="none" stroke="#1a1a1a" stroke-width="0.8" rx="1.9"/>
<rect x="636.70" y="375.00" width="3.80" height="23.00" fill="none" stroke="#1a1a1a" stroke-width="0.8" rx="1.9"/>
<path d="M561,313 C553,306 552,292 558,285 C566,276 582,279 590,287.5 C600,282 624,282 630,302 C633,315 628,328 629,338" fill="none" stroke="#1a1a1a" stroke-width="0.9"/>
<circle cx="571.40" cy="298.00" r="12.10" fill="#fff" stroke="#1a1a1a" stroke-width="1.3"/>
<circle cx="607.40" cy="309.00" r="16.40" fill="#fff" stroke="#1a1a1a" stroke-width="1.3"/>
<circle cx="639.40" cy="298.30" r="3.20" fill="none" stroke="#1a1a1a" stroke-width="1.0"/>
<circle cx="639.40" cy="298.30" r="1.50" fill="none" stroke="#1a1a1a" stroke-width="0.8"/>
<path d="M631.80,355.50 L631.51,358.61 L630.69,361.63 L629.48,364.51 L629.32,367.63 L628.75,370.71 L627.66,373.64 L626.05,376.31 L624.00,378.68 L621.66,380.75 L620.17,383.49 L618.31,386.01 L616.06,388.18 L613.45,389.89 L610.58,391.14 L607.57,391.99 L605.03,393.81 L602.27,395.28 L599.30,396.25 L596.20,396.66 L593.08,396.53 L590.00,396.00 L586.92,396.53 L583.80,396.66 L580.70,396.25 L577.73,395.28 L574.97,393.81 L572.43,391.99 L569.42,391.14 L566.55,389.89 L563.94,388.18 L561.69,386.01 L559.83,383.49 L558.34,380.75 L556.00,378.68 L553.95,376.31 L552.34,373.64 L551.25,370.71 L550.68,367.63 L550.52,364.51 L549.31,361.63 L548.49,358.61 L548.20,355.50 L548.49,352.39 L549.31,349.37 L550.52,346.49 L550.68,343.37 L551.25,340.29 L552.34,337.36 L553.95,334.69 L556.54,332.69 L558.34,330.25 L560.31,327.95 L562.45,325.81 L564.75,323.84 L567.19,322.04 L569.75,320.43 L572.43,319.01 L575.20,317.80 L578.06,316.80 L580.99,316.02 L583.96,315.45 L586.97,315.11 L590.00,315.00 L593.03,315.11 L596.04,315.45 L599.01,316.02 L601.94,316.80 L604.80,317.80 L607.57,319.01 L610.25,320.43 L612.81,322.04 L615.25,323.84 L617.55,325.81 L619.69,327.95 L621.66,330.25 L623.46,332.69 L626.05,334.69 L627.66,337.36 L628.75,340.29 L629.32,343.37 L629.48,346.49 L630.69,349.37 L631.51,352.39 L631.80,355.50 Z" fill="#fff" stroke="#1a1a1a" stroke-width="1.1"/>
<circle cx="590.00" cy="355.50" r="35.00" fill="none" stroke="#666" stroke-width="0.6"/>
<circle cx="590.00" cy="355.50" r="29.20" fill="none" stroke="#555" stroke-width="0.6" stroke-dasharray="4 2"/>
<circle cx="590.00" cy="355.50" r="22.80" fill="none" stroke="#1a1a1a" stroke-width="1.2"/>
<circle cx="590.00" cy="355.50" r="19.00" fill="none" stroke="#1a1a1a" stroke-width="0.8"/>
<circle cx="590.00" cy="355.50" r="15.00" fill="none" stroke="#1a1a1a" stroke-width="1.0"/>
<circle cx="590.00" cy="355.50" r="11.00" fill="none" stroke="#1a1a1a" stroke-width="1.4"/>
<rect x="598.00" y="351.00" width="5.00" height="9.00" fill="#fff" stroke="#1a1a1a" stroke-width="0.8"/>
<circle cx="590.00" cy="323.00" r="3.10" fill="#fff" stroke="#1a1a1a" stroke-width="1.0"/>
<circle cx="590.00" cy="323.00" r="1.20" fill="none" stroke="#1a1a1a" stroke-width="0.6"/>
<circle cx="590.00" cy="389.30" r="3.10" fill="#fff" stroke="#1a1a1a" stroke-width="1.0"/>
<circle cx="590.00" cy="389.30" r="1.20" fill="none" stroke="#1a1a1a" stroke-width="0.6"/>
<circle cx="561.40" cy="339.90" r="3.10" fill="#fff" stroke="#1a1a1a" stroke-width="1.0"/>
<circle cx="561.40" cy="339.90" r="1.20" fill="none" stroke="#1a1a1a" stroke-width="0.6"/>
<circle cx="619.10" cy="339.90" r="3.10" fill="#fff" stroke="#1a1a1a" stroke-width="1.0"/>
<circle cx="619.10" cy="339.90" r="1.20" fill="none" stroke="#1a1a1a" stroke-width="0.6"/>
<circle cx="561.40" cy="373.70" r="3.10" fill="#fff" stroke="#1a1a1a" stroke-width="1.0"/>
<circle cx="561.40" cy="373.70" r="1.20" fill="none" stroke="#1a1a1a" stroke-width="0.6"/>
<circle cx="619.10" cy="373.70" r="3.10" fill="#fff" stroke="#1a1a1a" stroke-width="1.0"/>
<circle cx="619.10" cy="373.70" r="1.20" fill="none" stroke="#1a1a1a" stroke-width="0.6"/>
<line x1="590.00" y1="200.00" x2="590.00" y2="412.00" stroke="#1a1a1a" stroke-width="0.6" stroke-dasharray="7 2 1.5 2"/>
<line x1="549.70" y1="355.50" x2="690.00" y2="355.50" stroke="#1a1a1a" stroke-width="0.6" stroke-dasharray="7 2 1.5 2"/>
<line x1="586.60" y1="206.80" x2="586.60" y2="268.40" stroke="#1a1a1a" stroke-width="0.9"/>
<line x1="593.90" y1="206.80" x2="593.90" y2="268.40" stroke="#1a1a1a" stroke-width="0.9"/>
<line x1="577.00" y1="206.80" x2="618.60" y2="206.80" stroke="#1a1a1a" stroke-width="0.7"/>
<path d="M586.60,206.80 L582.60,208.00 L582.60,205.60 Z" fill="#1a1a1a"/>
<path d="M593.90,206.80 L597.90,205.60 L597.90,208.00 Z" fill="#1a1a1a"/>
<text x="611.40" y="204.70" font-size="10.2" font-weight="bold" text-anchor="middle">16</text>
<line x1="479.50" y1="221.60" x2="569.20" y2="221.60" stroke="#1a1a1a" stroke-width="0.7"/>
<line x1="479.50" y1="404.90" x2="534.00" y2="404.90" stroke="#1a1a1a" stroke-width="0.7"/>
<line x1="479.50" y1="222.00" x2="479.50" y2="404.50" stroke="#1a1a1a" stroke-width="0.8"/>
<path d="M479.50,222.00 L480.90,227.00 L478.10,227.00 Z" fill="#1a1a1a"/>
<path d="M479.50,404.50 L478.10,399.50 L480.90,399.50 Z" fill="#1a1a1a"/>
<rect x="472.00" y="294.00" width="16.00" height="12.00" fill="#fff"/>
<text x="480.20" y="303.50" font-size="10.2" font-weight="bold" text-anchor="middle">P1</text>
<line x1="500.30" y1="232.00" x2="562.00" y2="232.00" stroke="#1a1a1a" stroke-width="0.7"/>
<line x1="500.30" y1="232.40" x2="500.30" y2="404.50" stroke="#1a1a1a" stroke-width="0.8"/>
<path d="M500.30,232.40 L501.70,237.40 L498.90,237.40 Z" fill="#1a1a1a"/>
<path d="M500.30,404.50 L498.90,399.50 L501.70,399.50 Z" fill="#1a1a1a"/>
<rect x="490.00" y="312.00" width="20.00" height="12.00" fill="#fff"/>
<text x="499.70" y="321.70" font-size="10.2" font-weight="bold" text-anchor="middle">352</text>
<line x1="574.40" y1="245.00" x2="690.00" y2="245.00" stroke="#1a1a1a" stroke-width="0.7"/>
<line x1="647.20" y1="273.60" x2="670.00" y2="273.60" stroke="#1a1a1a" stroke-width="0.7"/>
<line x1="647.20" y1="404.00" x2="670.00" y2="404.00" stroke="#1a1a1a" stroke-width="0.7"/>
<line x1="649.00" y1="355.50" x2="692.00" y2="355.50" stroke="#1a1a1a" stroke-width="0.7"/>
<line x1="687.50" y1="245.40" x2="687.50" y2="355.10" stroke="#1a1a1a" stroke-width="0.8"/>
<path d="M687.50,245.40 L688.90,250.40 L686.10,250.40 Z" fill="#1a1a1a"/>
<path d="M687.50,355.10 L686.10,350.10 L688.90,350.10 Z" fill="#1a1a1a"/>
<rect x="677.00" y="294.00" width="21.00" height="12.00" fill="#fff"/>
<text x="687.50" y="304.30" font-size="10.2" font-weight="bold" text-anchor="middle">218</text>
<line x1="666.70" y1="274.00" x2="666.70" y2="355.10" stroke="#1a1a1a" stroke-width="0.8"/>
<path d="M666.70,274.00 L668.10,279.00 L665.30,279.00 Z" fill="#1a1a1a"/>
<path d="M666.70,355.10 L665.30,350.10 L668.10,350.10 Z" fill="#1a1a1a"/>
<line x1="666.70" y1="355.90" x2="666.70" y2="403.60" stroke="#1a1a1a" stroke-width="0.8"/>
<path d="M666.70,355.90 L668.10,360.90 L665.30,360.90 Z" fill="#1a1a1a"/>
<path d="M666.70,403.60 L665.30,398.60 L668.10,398.60 Z" fill="#1a1a1a"/>
<rect x="657.00" y="308.00" width="21.00" height="12.00" fill="#fff"/>
<text x="667.40" y="318.30" font-size="10.2" font-weight="bold" text-anchor="middle">169</text>
<rect x="657.00" y="374.00" width="21.00" height="12.00" fill="#fff"/>
<text x="667.40" y="384.10" font-size="10.2" font-weight="bold" text-anchor="middle">100</text>
<line x1="534.10" y1="404.00" x2="534.10" y2="423.00" stroke="#1a1a1a" stroke-width="0.7"/>
<line x1="647.20" y1="404.00" x2="647.20" y2="423.00" stroke="#1a1a1a" stroke-width="0.7"/>
<line x1="534.50" y1="420.50" x2="646.80" y2="420.50" stroke="#1a1a1a" stroke-width="0.8"/>
<path d="M534.50,420.50 L539.50,419.10 L539.50,421.90 Z" fill="#1a1a1a"/>
<path d="M646.80,420.50 L641.80,421.90 L641.80,419.10 Z" fill="#1a1a1a"/>
<text x="590.60" y="417.90" font-size="10.2" font-weight="bold" text-anchor="middle">219</text>
<text x="567.90" y="317.80" font-size="10.2" font-weight="bold" text-anchor="middle">60°</text>
<path d="M572,322 Q580,318 588,320" fill="none" stroke="#1a1a1a" stroke-width="0.7"/>
<text x="523.00" y="347.70" font-size="10.2" font-weight="bold" text-anchor="middle">M12</text>
<line x1="512.00" y1="350.00" x2="533.00" y2="350.00" stroke="#1a1a1a" stroke-width="0.7"/>
<line x1="533.00" y1="350.00" x2="561.40" y2="339.90" stroke="#1a1a1a" stroke-width="0.7"/>
<text x="520.20" y="371.10" font-size="10.2" font-weight="bold" text-anchor="middle">Ø130</text>
<line x1="507.00" y1="374.00" x2="533.00" y2="374.00" stroke="#1a1a1a" stroke-width="0.7"/>
<line x1="533.00" y1="374.00" x2="630.30" y2="343.80" stroke="#1a1a1a" stroke-width="0.7"/>
<text x="389.40" y="442.00" font-size="13.8" font-weight="bold" text-anchor="middle">Std.</text>
<line x1="376.00" y1="445.20" x2="403.00" y2="445.20" stroke="#1a1a1a" stroke-width="1.0"/>
<text x="369.00" y="458.00" font-size="7.5" font-weight="bold">+0.03</text>
<text x="374.00" y="465.00" font-size="7.5" font-weight="bold">0</text>
<text x="362.50" y="473.00" font-size="10.2" font-weight="bold" text-anchor="middle">Ø40</text>
<line x1="352.00" y1="475.50" x2="373.00" y2="475.50" stroke="#1a1a1a" stroke-width="0.7"/>
<line x1="373.00" y1="475.50" x2="381.00" y2="487.00" stroke="#1a1a1a" stroke-width="0.7"/>
<circle cx="388.60" cy="499.40" r="15.50" fill="#fff" stroke="#1a1a1a" stroke-width="1.8"/>
<circle cx="388.60" cy="499.40" r="10.50" fill="none" stroke="#1a1a1a" stroke-width="1.0"/>
<rect x="397.50" y="496.00" width="5.00" height="7.00" fill="#fff" stroke="#1a1a1a" stroke-width="0.9"/>
<rect x="396.00" y="496.60" width="1.90" height="5.80" fill="#fff" stroke="none" stroke-width="0"/>
<line x1="388.60" y1="485.00" x2="388.60" y2="514.00" stroke="#1a1a1a" stroke-width="0.6"/>
<line x1="375.00" y1="499.40" x2="402.00" y2="499.40" stroke="#1a1a1a" stroke-width="0.6"/>
<rect x="404.00" y="496.00" width="6.00" height="7.00" fill="none" stroke="#1a1a1a" stroke-width="0.9"/>
<line x1="410.00" y1="487.00" x2="423.00" y2="487.00" stroke="#1a1a1a" stroke-width="0.7"/>
<line x1="410.00" y1="487.00" x2="410.00" y2="512.00" stroke="#1a1a1a" stroke-width="0.7"/>
<path d="M410.00,496.00 L408.80,492.00 L411.20,492.00 Z" fill="#1a1a1a"/>
<path d="M410.00,503.00 L411.20,507.00 L408.80,507.00 Z" fill="#1a1a1a"/>
<text x="416.50" y="484.60" font-size="10.2" font-weight="bold" text-anchor="middle">12</text>
<line x1="378.00" y1="499.40" x2="378.00" y2="529.40" stroke="#1a1a1a" stroke-width="0.7"/>
<line x1="400.00" y1="499.40" x2="400.00" y2="529.40" stroke="#1a1a1a" stroke-width="0.7"/>
<line x1="342.00" y1="529.40" x2="410.00" y2="529.40" stroke="#1a1a1a" stroke-width="0.7"/>
<path d="M378.00,529.40 L382.00,528.20 L382.00,530.60 Z" fill="#1a1a1a"/>
<path d="M400.00,529.40 L396.00,530.60 L396.00,528.20 Z" fill="#1a1a1a"/>
<text x="354.20" y="527.00" font-size="10.2" font-weight="bold" text-anchor="middle">43.3</text>
<text x="297.50" y="487.40" font-size="8.4" font-weight="bold" text-anchor="middle">A-B</text>
<path d="M281,512.4 C286,511 285,498 290,493.5 Q296,490 302,493.5 C307,498 306,511 311,512.4 Z" fill="#a6a6a6" stroke="#1a1a1a" stroke-width="0.9"/>
<rect x="292.60" y="497.40" width="6.80" height="15.00" fill="#fff" stroke="#1a1a1a" stroke-width="0.9"/>
<rect x="292.60" y="497.40" width="6.80" height="3.00" fill="#666" stroke="#1a1a1a" stroke-width="0.6"/>
<line x1="294.00" y1="499.00" x2="294.00" y2="511.00" stroke="#1a1a1a" stroke-width="0.5"/>
<line x1="298.00" y1="499.00" x2="298.00" y2="511.00" stroke="#1a1a1a" stroke-width="0.5"/>
<line x1="299.40" y1="500.60" x2="319.00" y2="500.60" stroke="#1a1a1a" stroke-width="0.7"/>
<line x1="299.40" y1="512.40" x2="319.00" y2="512.40" stroke="#1a1a1a" stroke-width="0.7"/>
<line x1="319.00" y1="491.00" x2="332.00" y2="491.00" stroke="#1a1a1a" stroke-width="0.7"/>
<line x1="319.00" y1="491.00" x2="319.00" y2="522.00" stroke="#1a1a1a" stroke-width="0.7"/>
<path d="M319.00,500.60 L317.80,496.60 L320.20,496.60 Z" fill="#1a1a1a"/>
<path d="M319.00,512.40 L320.20,516.40 L317.80,516.40 Z" fill="#1a1a1a"/>
<text x="326.50" y="488.60" font-size="10.2" font-weight="bold" text-anchor="middle">15</text>
<line x1="292.60" y1="512.40" x2="292.60" y2="529.40" stroke="#1a1a1a" stroke-width="0.7"/>
<line x1="299.40" y1="512.40" x2="299.40" y2="529.40" stroke="#1a1a1a" stroke-width="0.7"/>
<line x1="260.00" y1="529.40" x2="310.00" y2="529.40" stroke="#1a1a1a" stroke-width="0.7"/>
<path d="M292.60,529.40 L288.60,530.60 L288.60,528.20 Z" fill="#1a1a1a"/>
<path d="M299.40,529.40 L303.40,528.20 L303.40,530.60 Z" fill="#1a1a1a"/>
<text x="271.00" y="527.00" font-size="10.2" font-weight="bold" text-anchor="middle">M12</text>
<rect x="434.40" y="485.00" width="94.00" height="29.00" fill="#fff" stroke="#1a1a1a" stroke-width="1.2"/>
<path d="M434.4,485 L458,485 L460,483.6 L477,483.6 L478.5,482.3 L486.5,482.3 L488,483.6 L506,483.6 L508,485 L528.4,485 L528.4,489.4 L434.4,489.4 Z" fill="#b4b4b4" stroke="#1a1a1a" stroke-width="1.0"/>
<path d="M434.4,514 L458,514 L460,515.4 L477,515.4 L478.5,516.7 L486.5,516.7 L488,515.4 L506,515.4 L508,514 L528.4,514 L528.4,509.6 L434.4,509.6 Z" fill="#b4b4b4" stroke="#1a1a1a" stroke-width="1.0"/>
<line x1="434.40" y1="496.80" x2="528.40" y2="496.80" stroke="#1a1a1a" stroke-width="0.9"/>
<line x1="434.40" y1="502.20" x2="528.40" y2="502.20" stroke="#1a1a1a" stroke-width="0.9"/>
<line x1="436.00" y1="499.50" x2="528.40" y2="499.50" stroke="#1a1a1a" stroke-width="0.8" stroke-dasharray="5 3"/>
<line x1="445.00" y1="489.40" x2="445.00" y2="509.60" stroke="#1a1a1a" stroke-width="1.3"/>
<line x1="518.00" y1="489.40" x2="518.00" y2="509.60" stroke="#1a1a1a" stroke-width="1.3"/>
<line x1="460.00" y1="489.40" x2="460.00" y2="497.00" stroke="#1a1a1a" stroke-width="0.8"/>
<line x1="460.00" y1="502.00" x2="460.00" y2="509.60" stroke="#1a1a1a" stroke-width="0.8"/>
<line x1="503.00" y1="489.40" x2="503.00" y2="497.00" stroke="#1a1a1a" stroke-width="0.8"/>
<line x1="503.00" y1="502.00" x2="503.00" y2="509.60" stroke="#1a1a1a" stroke-width="0.8"/>
<line x1="434.40" y1="476.00" x2="434.40" y2="485.00" stroke="#1a1a1a" stroke-width="0.7"/>
<line x1="528.40" y1="476.00" x2="528.40" y2="485.00" stroke="#1a1a1a" stroke-width="0.7"/>
<line x1="434.80" y1="476.00" x2="528.00" y2="476.00" stroke="#1a1a1a" stroke-width="0.8"/>
<path d="M434.80,476.00 L439.80,474.60 L439.80,477.40 Z" fill="#1a1a1a"/>
<path d="M528.00,476.00 L523.00,477.40 L523.00,474.60 Z" fill="#1a1a1a"/>
<text x="481.60" y="473.00" font-size="10.2" font-weight="bold" text-anchor="middle">185</text>
<line x1="434.40" y1="514.00" x2="434.40" y2="532.00" stroke="#1a1a1a" stroke-width="0.7"/>
<line x1="518.00" y1="514.00" x2="518.00" y2="532.00" stroke="#1a1a1a" stroke-width="0.7"/>
<line x1="434.80" y1="529.40" x2="517.60" y2="529.40" stroke="#1a1a1a" stroke-width="0.8"/>
<path d="M434.80,529.40 L439.80,528.00 L439.80,530.80 Z" fill="#1a1a1a"/>
<path d="M517.60,529.40 L512.60,530.80 L512.60,528.00 Z" fill="#1a1a1a"/>
<text x="476.00" y="527.00" font-size="10.2" font-weight="bold" text-anchor="middle">156</text>
<text x="579.00" y="443.00" font-size="13.8" font-weight="bold" text-anchor="middle">Ops.</text>
<line x1="563.00" y1="445.60" x2="595.00" y2="445.60" stroke="#1a1a1a" stroke-width="1.0"/>
<text x="607.00" y="457.40" font-size="7.5" font-weight="bold">+0.03</text>
<text x="611.00" y="464.00" font-size="7.5" font-weight="bold">0</text>
<text x="599.80" y="473.00" font-size="10.2" font-weight="bold" text-anchor="middle">Ø45</text>
<line x1="590.00" y1="475.50" x2="610.00" y2="475.50" stroke="#1a1a1a" stroke-width="0.7"/>
<line x1="590.00" y1="475.50" x2="580.00" y2="488.00" stroke="#1a1a1a" stroke-width="0.7"/>
<circle cx="573.60" cy="500.00" r="15.50" fill="#fff" stroke="#1a1a1a" stroke-width="1.8"/>
<circle cx="573.60" cy="500.00" r="11.00" fill="none" stroke="#1a1a1a" stroke-width="1.0"/>
<rect x="560.50" y="496.00" width="4.50" height="8.00" fill="#fff" stroke="#1a1a1a" stroke-width="0.9"/>
<line x1="573.60" y1="486.00" x2="573.60" y2="514.00" stroke="#1a1a1a" stroke-width="0.6"/>
<line x1="560.00" y1="500.00" x2="587.00" y2="500.00" stroke="#1a1a1a" stroke-width="0.6"/>
<line x1="552.00" y1="487.00" x2="564.40" y2="487.00" stroke="#1a1a1a" stroke-width="0.7"/>
<line x1="553.00" y1="487.00" x2="553.00" y2="503.40" stroke="#1a1a1a" stroke-width="0.7"/>
<line x1="553.00" y1="489.40" x2="562.00" y2="489.40" stroke="#1a1a1a" stroke-width="0.6"/>
<line x1="553.00" y1="503.40" x2="562.00" y2="503.40" stroke="#1a1a1a" stroke-width="0.6"/>
<text x="559.20" y="484.60" font-size="10.2" font-weight="bold" text-anchor="middle">14</text>
<line x1="562.00" y1="500.00" x2="562.00" y2="529.40" stroke="#1a1a1a" stroke-width="0.7"/>
<line x1="584.00" y1="500.00" x2="584.00" y2="529.40" stroke="#1a1a1a" stroke-width="0.7"/>
<line x1="552.00" y1="529.40" x2="618.00" y2="529.40" stroke="#1a1a1a" stroke-width="0.7"/>
<path d="M562.00,529.40 L566.00,528.20 L566.00,530.60 Z" fill="#1a1a1a"/>
<path d="M584.00,529.40 L580.00,530.60 L580.00,528.20 Z" fill="#1a1a1a"/>
<text x="608.00" y="527.00" font-size="10.2" font-weight="bold" text-anchor="middle">48.8</text>
<text x="788.40" y="504.20" font-size="11.7" font-style="italic" text-anchor="middle">Klemens Pozisyonları</text>
<text x="788.90" y="518.50" font-size="11.6" text-anchor="middle">Terminal Box Positions</text>
<text x="788.30" y="532.80" font-size="11.7" text-anchor="middle">Klemmenkasten Positionen</text>
<text x="792.20" y="561.40" font-size="13.4" font-weight="bold" text-anchor="middle">Poz.1</text>
<text x="724.50" y="613.10" font-size="13.4" font-weight="bold" text-anchor="middle">Poz.4</text>
<text x="855.20" y="613.10" font-size="13.4" font-weight="bold" text-anchor="middle">Poz.2</text>
<text x="791.60" y="664.80" font-size="13.4" font-weight="bold" text-anchor="middle">Poz.3</text>
<rect x="775.00" y="569.10" width="30.50" height="22.90" fill="#fff" stroke="#1a1a1a" stroke-width="1.5"/>
<line x1="777.00" y1="572.00" x2="803.50" y2="572.00" stroke="#1a1a1a" stroke-width="0.8"/>
<rect x="775.00" y="626.00" width="30.50" height="22.30" fill="#fff" stroke="#1a1a1a" stroke-width="1.5"/>
<line x1="777.00" y1="645.50" x2="803.50" y2="645.50" stroke="#1a1a1a" stroke-width="0.8"/>
<rect x="750.50" y="593.30" width="19.50" height="30.50" fill="#fff" stroke="#1a1a1a" stroke-width="1.5"/>
<line x1="753.00" y1="595.00" x2="753.00" y2="622.00" stroke="#1a1a1a" stroke-width="0.7"/>
<rect x="810.00" y="593.30" width="20.00" height="30.50" fill="#fff" stroke="#1a1a1a" stroke-width="1.5"/>
<line x1="827.50" y1="595.00" x2="827.50" y2="622.00" stroke="#1a1a1a" stroke-width="0.7"/>
<rect x="764.20" y="573.00" width="10.30" height="8.50" fill="#fff" stroke="#1a1a1a" stroke-width="1.0" rx="1.2"/>
<line x1="769.35" y1="573.00" x2="769.35" y2="581.50" stroke="#1a1a1a" stroke-width="0.6"/>
<rect x="817.50" y="582.50" width="8.00" height="10.00" fill="#fff" stroke="#1a1a1a" stroke-width="1.0" rx="1.2"/>
<line x1="817.50" y1="587.50" x2="825.50" y2="587.50" stroke="#1a1a1a" stroke-width="0.6"/>
<rect x="755.00" y="624.00" width="8.50" height="10.50" fill="#fff" stroke="#1a1a1a" stroke-width="1.0" rx="1.2"/>
<line x1="755.00" y1="629.25" x2="763.50" y2="629.25" stroke="#1a1a1a" stroke-width="0.6"/>
<rect x="806.50" y="635.00" width="10.00" height="9.00" fill="#fff" stroke="#1a1a1a" stroke-width="1.0" rx="1.2"/>
<line x1="811.50" y1="635.00" x2="811.50" y2="644.00" stroke="#1a1a1a" stroke-width="0.6"/>
<circle cx="790.00" cy="608.70" r="24.00" fill="#fff" stroke="#1a1a1a" stroke-width="1.5"/>
<circle cx="790.00" cy="608.70" r="18.60" fill="#4a4a4a" stroke="#1a1a1a" stroke-width="1.2"/>
<line x1="792.89" y1="610.68" x2="799.31" y2="621.71" stroke="#8a8a8a" stroke-width="2.2"/>
<line x1="792.89" y1="610.68" x2="799.31" y2="621.71" stroke="#d0d0d0" stroke-width="0.7"/>
<line x1="789.73" y1="612.19" x2="783.38" y2="623.27" stroke="#8a8a8a" stroke-width="2.2"/>
<line x1="789.73" y1="612.19" x2="783.38" y2="623.27" stroke="#d0d0d0" stroke-width="0.7"/>
<line x1="786.84" y1="610.21" x2="774.08" y2="610.25" stroke="#8a8a8a" stroke-width="2.2"/>
<line x1="786.84" y1="610.21" x2="774.08" y2="610.25" stroke="#d0d0d0" stroke-width="0.7"/>
<line x1="787.11" y1="606.72" x2="780.69" y2="595.69" stroke="#8a8a8a" stroke-width="2.2"/>
<line x1="787.11" y1="606.72" x2="780.69" y2="595.69" stroke="#d0d0d0" stroke-width="0.7"/>
<line x1="790.27" y1="605.21" x2="796.62" y2="594.13" stroke="#8a8a8a" stroke-width="2.2"/>
<line x1="790.27" y1="605.21" x2="796.62" y2="594.13" stroke="#d0d0d0" stroke-width="0.7"/>
<line x1="793.16" y1="607.19" x2="805.92" y2="607.15" stroke="#8a8a8a" stroke-width="2.2"/>
<line x1="793.16" y1="607.19" x2="805.92" y2="607.15" stroke="#d0d0d0" stroke-width="0.7"/>
<circle cx="790.00" cy="608.70" r="15.50" fill="none" stroke="#777" stroke-width="0.7"/>
<circle cx="790.00" cy="608.70" r="3.60" fill="#fff" stroke="#ddd" stroke-width="1.0"/>
<circle cx="790.00" cy="608.70" r="1.30" fill="#1a1a1a" stroke="#1a1a1a" stroke-width="0.6"/>
<text x="792.80" y="695.60" font-size="11.6" font-weight="bold" text-anchor="middle">71-80-90-100-112-132</text>
<text x="793.80" y="708.80" font-size="11.6" text-anchor="middle"><tspan font-weight="bold">Tip</tspan> / <tspan font-style="italic">Type</tspan> / Typ</text>
<text x="791.60" y="1063.20" font-size="11.7" font-style="italic" text-anchor="middle">Klemens Pozisyonları</text>
<text x="792.10" y="1077.50" font-size="11.6" text-anchor="middle">Terminal Box Positions</text>
<text x="791.50" y="1091.80" font-size="11.7" text-anchor="middle">Klemmenkasten Positionen</text>
<text x="795.40" y="1120.40" font-size="13.4" font-weight="bold" text-anchor="middle">Poz.1</text>
<text x="727.70" y="1172.10" font-size="13.4" font-weight="bold" text-anchor="middle">Poz.4</text>
<text x="858.40" y="1172.10" font-size="13.4" font-weight="bold" text-anchor="middle">Poz.2</text>
<text x="794.80" y="1223.80" font-size="13.4" font-weight="bold" text-anchor="middle">Poz.3</text>
<rect x="778.20" y="1128.10" width="30.50" height="22.90" fill="#fff" stroke="#1a1a1a" stroke-width="1.5"/>
<line x1="780.20" y1="1131.00" x2="806.70" y2="1131.00" stroke="#1a1a1a" stroke-width="0.8"/>
<rect x="778.20" y="1185.00" width="30.50" height="22.30" fill="#fff" stroke="#1a1a1a" stroke-width="1.5"/>
<line x1="780.20" y1="1204.50" x2="806.70" y2="1204.50" stroke="#1a1a1a" stroke-width="0.8"/>
<rect x="753.70" y="1152.30" width="19.50" height="30.50" fill="#fff" stroke="#1a1a1a" stroke-width="1.5"/>
<line x1="756.20" y1="1154.00" x2="756.20" y2="1181.00" stroke="#1a1a1a" stroke-width="0.7"/>
<rect x="813.20" y="1152.30" width="20.00" height="30.50" fill="#fff" stroke="#1a1a1a" stroke-width="1.5"/>
<line x1="830.70" y1="1154.00" x2="830.70" y2="1181.00" stroke="#1a1a1a" stroke-width="0.7"/>
<rect x="767.40" y="1132.00" width="10.30" height="8.50" fill="#fff" stroke="#1a1a1a" stroke-width="1.0" rx="1.2"/>
<line x1="772.55" y1="1132.00" x2="772.55" y2="1140.50" stroke="#1a1a1a" stroke-width="0.6"/>
<rect x="820.70" y="1141.50" width="8.00" height="10.00" fill="#fff" stroke="#1a1a1a" stroke-width="1.0" rx="1.2"/>
<line x1="820.70" y1="1146.50" x2="828.70" y2="1146.50" stroke="#1a1a1a" stroke-width="0.6"/>
<rect x="758.20" y="1183.00" width="8.50" height="10.50" fill="#fff" stroke="#1a1a1a" stroke-width="1.0" rx="1.2"/>
<line x1="758.20" y1="1188.25" x2="766.70" y2="1188.25" stroke="#1a1a1a" stroke-width="0.6"/>
<rect x="809.70" y="1194.00" width="10.00" height="9.00" fill="#fff" stroke="#1a1a1a" stroke-width="1.0" rx="1.2"/>
<line x1="814.70" y1="1194.00" x2="814.70" y2="1203.00" stroke="#1a1a1a" stroke-width="0.6"/>
<circle cx="793.20" cy="1167.70" r="24.00" fill="#fff" stroke="#1a1a1a" stroke-width="1.5"/>
<circle cx="793.20" cy="1167.70" r="18.60" fill="#4a4a4a" stroke="#1a1a1a" stroke-width="1.2"/>
<line x1="796.09" y1="1169.68" x2="802.51" y2="1180.71" stroke="#8a8a8a" stroke-width="2.2"/>
<line x1="796.09" y1="1169.68" x2="802.51" y2="1180.71" stroke="#d0d0d0" stroke-width="0.7"/>
<line x1="792.93" y1="1171.19" x2="786.58" y2="1182.27" stroke="#8a8a8a" stroke-width="2.2"/>
<line x1="792.93" y1="1171.19" x2="786.58" y2="1182.27" stroke="#d0d0d0" stroke-width="0.7"/>
<line x1="790.04" y1="1169.21" x2="777.28" y2="1169.25" stroke="#8a8a8a" stroke-width="2.2"/>
<line x1="790.04" y1="1169.21" x2="777.28" y2="1169.25" stroke="#d0d0d0" stroke-width="0.7"/>
<line x1="790.31" y1="1165.72" x2="783.89" y2="1154.69" stroke="#8a8a8a" stroke-width="2.2"/>
<line x1="790.31" y1="1165.72" x2="783.89" y2="1154.69" stroke="#d0d0d0" stroke-width="0.7"/>
<line x1="793.47" y1="1164.21" x2="799.82" y2="1153.13" stroke="#8a8a8a" stroke-width="2.2"/>
<line x1="793.47" y1="1164.21" x2="799.82" y2="1153.13" stroke="#d0d0d0" stroke-width="0.7"/>
<line x1="796.36" y1="1166.19" x2="809.12" y2="1166.15" stroke="#8a8a8a" stroke-width="2.2"/>
<line x1="796.36" y1="1166.19" x2="809.12" y2="1166.15" stroke="#d0d0d0" stroke-width="0.7"/>
<circle cx="793.20" cy="1167.70" r="15.50" fill="none" stroke="#777" stroke-width="0.7"/>
<circle cx="793.20" cy="1167.70" r="3.60" fill="#fff" stroke="#ddd" stroke-width="1.0"/>
<circle cx="793.20" cy="1167.70" r="1.30" fill="#1a1a1a" stroke="#1a1a1a" stroke-width="0.6"/>
<text x="796.00" y="1254.60" font-size="11.6" font-weight="bold" text-anchor="middle">71-80-90-100-112-132</text>
<text x="797.00" y="1267.80" font-size="11.6" text-anchor="middle"><tspan font-weight="bold">Tip</tspan> / <tspan font-style="italic">Type</tspan> / Typ</text>
<g transform="translate(271.2,846.2) scale(1.02) translate(-235.9,-287.9)">
<path d="M230.4,281 L230.4,241 Q230.6,235.2 237.5,234.8 L264,233" fill="none" stroke="#1a1a1a" stroke-width="1.1"/>
<line x1="264.00" y1="232.70" x2="303.00" y2="232.70" stroke="#1a1a1a" stroke-width="1.8"/>
<line x1="264.00" y1="232.70" x2="264.00" y2="378.00" stroke="#1a1a1a" stroke-width="1.1"/>
<line x1="268.90" y1="232.70" x2="268.90" y2="378.00" stroke="#1a1a1a" stroke-width="0.8"/>
<line x1="297.50" y1="232.70" x2="297.50" y2="281.00" stroke="#1a1a1a" stroke-width="0.8"/>
<line x1="299.70" y1="232.70" x2="299.70" y2="313.00" stroke="#1a1a1a" stroke-width="1.1"/>
<line x1="303.00" y1="232.70" x2="303.00" y2="245.00" stroke="#1a1a1a" stroke-width="1.1"/>
<line x1="303.00" y1="245.00" x2="311.80" y2="245.00" stroke="#1a1a1a" stroke-width="1.1"/>
<line x1="303.00" y1="302.00" x2="311.80" y2="302.00" stroke="#1a1a1a" stroke-width="1.1"/>
<line x1="303.00" y1="302.00" x2="303.00" y2="313.00" stroke="#1a1a1a" stroke-width="1.1"/>
<line x1="299.70" y1="313.00" x2="303.00" y2="313.00" stroke="#1a1a1a" stroke-width="1.1"/>
<line x1="229.30" y1="272.30" x2="264.00" y2="263.50" stroke="#1a1a1a" stroke-width="1.1"/>
<line x1="229.30" y1="276.70" x2="264.00" y2="268.50" stroke="#1a1a1a" stroke-width="0.8"/>
<line x1="229.30" y1="280.00" x2="264.00" y2="271.20" stroke="#1a1a1a" stroke-width="0.8"/>
<line x1="264.00" y1="276.20" x2="297.50" y2="276.20" stroke="#1a1a1a" stroke-width="0.8"/>
<path d="M236,280.5 L298.5,280.5 L298.5,295.4 L236,295.4 A7.45,7.45 0 0 1 236,280.5 Z" fill="#fff" stroke="#1a1a1a" stroke-width="1.1"/>
<circle cx="235.90" cy="287.90" r="2.60" fill="#bbb" stroke="#1a1a1a" stroke-width="0.9"/>
<circle cx="292.60" cy="287.90" r="2.60" fill="#bbb" stroke="#1a1a1a" stroke-width="0.9"/>
<line x1="229.30" y1="281.00" x2="229.30" y2="402.00" stroke="#1a1a1a" stroke-width="1.1"/>
<line x1="226.00" y1="281.60" x2="226.00" y2="330.00" stroke="#1a1a1a" stroke-width="0.8"/>
<line x1="223.50" y1="315.00" x2="223.50" y2="330.00" stroke="#1a1a1a" stroke-width="0.8"/>
<line x1="229.30" y1="305.90" x2="264.00" y2="305.90" stroke="#1a1a1a" stroke-width="1.1"/>
<line x1="229.30" y1="310.80" x2="264.00" y2="310.80" stroke="#1a1a1a" stroke-width="1.1"/>
<line x1="229.30" y1="318.50" x2="264.00" y2="318.50" stroke="#1a1a1a" stroke-width="1.1"/>
<line x1="229.30" y1="322.90" x2="264.00" y2="322.90" stroke="#1a1a1a" stroke-width="1.1"/>
<path d="M236,377.2 L298.8,377.2 L298.8,391.6 L236,391.6 A7.2,7.2 0 0 1 236,377.2 Z" fill="#fff" stroke="#1a1a1a" stroke-width="1.1"/>
<circle cx="235.60" cy="385.20" r="2.60" fill="#bbb" stroke="#1a1a1a" stroke-width="0.9"/>
<circle cx="292.40" cy="385.20" r="2.60" fill="#bbb" stroke="#1a1a1a" stroke-width="0.9"/>
<line x1="298.80" y1="313.00" x2="298.80" y2="402.00" stroke="#1a1a1a" stroke-width="1.1"/>
<line x1="229.30" y1="402.00" x2="298.80" y2="402.00" stroke="#1a1a1a" stroke-width="1.3"/>
<line x1="231.00" y1="396.00" x2="297.00" y2="396.00" stroke="#1a1a1a" stroke-width="0.6"/>
<rect x="240.40" y="402.00" width="46.40" height="3.20" fill="none" stroke="#1a1a1a" stroke-width="0.8"/>
<rect x="231.00" y="402.00" width="7.00" height="3.00" fill="none" stroke="#1a1a1a" stroke-width="0.7"/>
<rect x="289.00" y="402.00" width="7.00" height="3.00" fill="none" stroke="#1a1a1a" stroke-width="0.7"/>
<rect x="298.80" y="324.40" width="8.80" height="64.00" fill="none" stroke="#1a1a1a" stroke-width="1.1"/>
<rect x="307.60" y="341.20" width="2.60" height="32.00" fill="#333" stroke="#1a1a1a" stroke-width="1.3"/>
<rect x="311.80" y="238.75" width="6.10" height="69.25" fill="none" stroke="#1a1a1a" stroke-width="1.1"/>
<line x1="317.90" y1="239.00" x2="383.00" y2="239.00" stroke="#1a1a1a" stroke-width="1.1"/>
<line x1="317.90" y1="308.00" x2="383.00" y2="308.00" stroke="#1a1a1a" stroke-width="1.1"/>
<rect x="318.50" y="222.20" width="38.25" height="27.30" fill="#fff" stroke="#1a1a1a" stroke-width="1.2"/>
<line x1="318.50" y1="237.50" x2="356.75" y2="237.50" stroke="#1a1a1a" stroke-width="0.8"/>
<line x1="321.00" y1="222.20" x2="321.00" y2="237.50" stroke="#1a1a1a" stroke-width="0.6"/>
<line x1="354.00" y1="222.20" x2="354.00" y2="237.50" stroke="#1a1a1a" stroke-width="0.6"/>
<circle cx="329.00" cy="232.25" r="5.00" fill="#fff" stroke="#1a1a1a" stroke-width="1.3"/>
<circle cx="329.00" cy="232.25" r="2.40" fill="none" stroke="#1a1a1a" stroke-width="0.8"/>
<circle cx="345.50" cy="232.25" r="5.00" fill="#fff" stroke="#1a1a1a" stroke-width="1.3"/>
<circle cx="345.50" cy="232.25" r="2.40" fill="none" stroke="#1a1a1a" stroke-width="0.8"/>
<rect x="326.00" y="250.25" width="9.75" height="10.50" fill="#fff" stroke="#1a1a1a" stroke-width="0.9"/>
<circle cx="330.90" cy="255.50" r="0.90" fill="#1a1a1a" stroke="#1a1a1a" stroke-width="0.6"/>
<rect x="326.00" y="287.00" width="9.75" height="10.50" fill="#fff" stroke="#1a1a1a" stroke-width="0.9"/>
<circle cx="330.90" cy="292.20" r="0.90" fill="#1a1a1a" stroke="#1a1a1a" stroke-width="0.6"/>
<rect x="365.75" y="250.25" width="9.75" height="10.50" fill="#fff" stroke="#1a1a1a" stroke-width="0.9"/>
<circle cx="370.65" cy="255.50" r="0.90" fill="#1a1a1a" stroke="#1a1a1a" stroke-width="0.6"/>
<rect x="365.75" y="287.00" width="9.75" height="10.50" fill="#fff" stroke="#1a1a1a" stroke-width="0.9"/>
<circle cx="370.65" cy="292.20" r="0.90" fill="#1a1a1a" stroke="#1a1a1a" stroke-width="0.6"/>
<line x1="335.75" y1="252.00" x2="365.75" y2="252.00" stroke="#1a1a1a" stroke-width="0.8"/>
<line x1="335.75" y1="259.00" x2="365.75" y2="259.00" stroke="#1a1a1a" stroke-width="0.8"/>
<line x1="335.75" y1="289.00" x2="365.75" y2="289.00" stroke="#1a1a1a" stroke-width="0.8"/>
<line x1="335.75" y1="296.00" x2="365.75" y2="296.00" stroke="#1a1a1a" stroke-width="0.8"/>
<line x1="318.00" y1="250.00" x2="383.00" y2="250.00" stroke="#1a1a1a" stroke-width="0.9"/>
<line x1="318.00" y1="262.50" x2="383.00" y2="262.50" stroke="#1a1a1a" stroke-width="0.9"/>
<line x1="318.00" y1="266.00" x2="383.00" y2="266.00" stroke="#1a1a1a" stroke-width="0.9"/>
<line x1="318.00" y1="269.50" x2="383.00" y2="269.50" stroke="#1a1a1a" stroke-width="0.9"/>
<line x1="318.00" y1="277.50" x2="383.00" y2="277.50" stroke="#1a1a1a" stroke-width="0.9"/>
<line x1="318.00" y1="281.00" x2="383.00" y2="281.00" stroke="#1a1a1a" stroke-width="0.9"/>
<line x1="318.00" y1="284.50" x2="383.00" y2="284.50" stroke="#1a1a1a" stroke-width="0.9"/>
<line x1="318.00" y1="300.50" x2="383.00" y2="300.50" stroke="#1a1a1a" stroke-width="0.9"/>
<line x1="318.00" y1="304.00" x2="383.00" y2="304.00" stroke="#1a1a1a" stroke-width="0.9"/>
<line x1="318.00" y1="254.00" x2="326.00" y2="254.00" stroke="#1a1a1a" stroke-width="0.8"/>
<line x1="375.50" y1="254.00" x2="383.00" y2="254.00" stroke="#1a1a1a" stroke-width="0.8"/>
<line x1="318.00" y1="292.00" x2="326.00" y2="292.00" stroke="#1a1a1a" stroke-width="0.8"/>
<line x1="375.50" y1="292.00" x2="383.00" y2="292.00" stroke="#1a1a1a" stroke-width="0.8"/>
<rect x="322.00" y="271.50" width="60.00" height="4.00" fill="#fff" stroke="#1a1a1a" stroke-width="0.8"/>
<line x1="357.00" y1="244.00" x2="383.00" y2="244.00" stroke="#1a1a1a" stroke-width="0.7"/>
<line x1="366.00" y1="249.50" x2="378.00" y2="244.00" stroke="#1a1a1a" stroke-width="0.7"/>
<path d="M383.00,238.25 L401.75,238.25 L411.50,248.75 L411.50,297.50 L401.75,308.75 L383.00,308.75 Z" fill="none" stroke="#1a1a1a" stroke-width="1.2"/>
<path d="M401.75,238.25 L425.75,238.25 L435.50,248.00 L435.50,299.75 L425.75,308.75 L401.75,308.75" fill="none" stroke="#777" stroke-width="0.7"/>
<line x1="390.50" y1="239.50" x2="390.50" y2="307.50" stroke="#1a1a1a" stroke-width="0.8"/>
<path d="M390.50,239.50 L391.90,244.50 L389.10,244.50 Z" fill="#1a1a1a"/>
<path d="M390.50,307.50 L389.10,302.50 L391.90,302.50 Z" fill="#1a1a1a"/>
<rect x="386.00" y="261.00" width="9.00" height="10.00" fill="#fff"/>
<text x="390.50" y="270.50" font-size="10.2" font-weight="bold" text-anchor="middle">n</text>
<line x1="356.75" y1="222.00" x2="421.00" y2="222.00" stroke="#1a1a1a" stroke-width="0.7"/>
<line x1="418.25" y1="222.50" x2="418.25" y2="273.30" stroke="#1a1a1a" stroke-width="0.8"/>
<path d="M418.25,222.50 L419.65,227.50 L416.85,227.50 Z" fill="#1a1a1a"/>
<path d="M418.25,273.30 L416.85,268.30 L419.65,268.30 Z" fill="#1a1a1a"/>
<rect x="413.00" y="249.00" width="13.00" height="12.00" fill="#fff"/>
<text x="419.40" y="258.80" font-size="10.2" font-weight="bold" text-anchor="middle">n1</text>
<line x1="300.00" y1="273.50" x2="437.00" y2="273.50" stroke="#1a1a1a" stroke-width="0.6" stroke-dasharray="7 2 1.5 2"/>
<line x1="283.30" y1="287.90" x2="292.60" y2="287.90" stroke="#1a1a1a" stroke-width="0.7"/>
<line x1="283.30" y1="385.20" x2="292.60" y2="385.20" stroke="#1a1a1a" stroke-width="0.7"/>
<line x1="283.30" y1="288.20" x2="283.30" y2="384.90" stroke="#1a1a1a" stroke-width="0.8"/>
<path d="M283.30,288.20 L284.70,293.20 L281.90,293.20 Z" fill="#1a1a1a"/>
<path d="M283.30,384.90 L281.90,379.90 L284.70,379.90 Z" fill="#1a1a1a"/>
<rect x="274.00" y="329.00" width="19.00" height="12.00" fill="#fff"/>
<text x="283.20" y="338.80" font-size="10.2" font-weight="bold" text-anchor="middle">190</text>
<line x1="222.00" y1="356.40" x2="330.00" y2="356.40" stroke="#1a1a1a" stroke-width="0.6" stroke-dasharray="7 2 1.5 2"/>
<line x1="295.00" y1="385.20" x2="330.00" y2="385.20" stroke="#1a1a1a" stroke-width="0.7"/>
<line x1="326.00" y1="356.70" x2="326.00" y2="384.90" stroke="#1a1a1a" stroke-width="0.8"/>
<path d="M326.00,356.70 L327.40,361.70 L324.60,361.70 Z" fill="#1a1a1a"/>
<path d="M326.00,384.90 L324.60,379.90 L327.40,379.90 Z" fill="#1a1a1a"/>
<rect x="319.00" y="363.00" width="14.00" height="12.00" fill="#fff"/>
<text x="326.20" y="373.20" font-size="10.2" font-weight="bold" text-anchor="middle">60</text>
<line x1="235.60" y1="366.80" x2="235.60" y2="374.80" stroke="#1a1a1a" stroke-width="0.9"/>
<line x1="235.60" y1="370.00" x2="248.40" y2="370.00" stroke="#1a1a1a" stroke-width="0.8"/>
<path d="M235.60,370.00 L239.60,368.80 L239.60,371.20 Z" fill="#1a1a1a"/>
<text x="247.40" y="367.60" font-size="9.5" font-weight="bold" text-anchor="middle">A</text>
<line x1="235.60" y1="412.50" x2="235.60" y2="420.00" stroke="#1a1a1a" stroke-width="0.9"/>
<line x1="235.60" y1="416.40" x2="248.40" y2="416.40" stroke="#1a1a1a" stroke-width="0.8"/>
<path d="M235.60,416.40 L239.60,415.20 L239.60,417.60 Z" fill="#1a1a1a"/>
<text x="247.40" y="414.50" font-size="9.5" font-weight="bold" text-anchor="middle">B</text>
<line x1="241.70" y1="224.00" x2="241.70" y2="244.50" stroke="#1a1a1a" stroke-width="0.7"/>
<circle cx="241.70" cy="244.50" r="4.50" fill="#fff" stroke="#1a1a1a" stroke-width="1.0"/>
<line x1="237.00" y1="244.50" x2="246.40" y2="244.50" stroke="#1a1a1a" stroke-width="0.6"/>
<line x1="241.70" y1="239.80" x2="241.70" y2="249.20" stroke="#1a1a1a" stroke-width="0.6"/>
</g>
<line x1="256.80" y1="875.40" x2="256.80" y2="962.30" stroke="#1a1a1a" stroke-width="1.4"/>
<line x1="256.80" y1="888.00" x2="262.00" y2="888.00" stroke="#1a1a1a" stroke-width="0.6"/>
<line x1="256.80" y1="898.00" x2="262.00" y2="898.00" stroke="#1a1a1a" stroke-width="0.6"/>
<line x1="256.80" y1="935.00" x2="262.00" y2="935.00" stroke="#1a1a1a" stroke-width="0.6"/>
<line x1="256.80" y1="945.00" x2="262.00" y2="945.00" stroke="#1a1a1a" stroke-width="0.6"/>
<line x1="256.80" y1="955.00" x2="262.00" y2="955.00" stroke="#1a1a1a" stroke-width="0.6"/>
<line x1="256.80" y1="962.30" x2="262.00" y2="962.30" stroke="#1a1a1a" stroke-width="1.0"/>
<rect x="212.80" y="905.10" width="40.70" height="22.00" fill="#fff" stroke="#1a1a1a" stroke-width="1.1"/>
<rect x="216.00" y="912.80" width="35.30" height="6.60" fill="none" stroke="#1a1a1a" stroke-width="0.8" rx="3.3"/>
<line x1="212.00" y1="916.00" x2="262.00" y2="916.00" stroke="#1a1a1a" stroke-width="0.6" stroke-dasharray="7 2 1.5 2"/>
<rect x="253.50" y="901.80" width="3.50" height="28.60" fill="#333" stroke="#1a1a1a" stroke-width="1.0"/>
<line x1="213.00" y1="751.00" x2="213.00" y2="1011.80" stroke="#1a1a1a" stroke-width="0.7"/>
<line x1="213.40" y1="751.00" x2="473.40" y2="751.00" stroke="#1a1a1a" stroke-width="0.8"/>
<path d="M213.40,751.00 L218.40,749.60 L218.40,752.40 Z" fill="#1a1a1a"/>
<path d="M473.40,751.00 L468.40,752.40 L468.40,749.60 Z" fill="#1a1a1a"/>
<text x="344.00" y="747.50" font-size="10.2" font-weight="bold" text-anchor="middle">k1</text>
<line x1="474.20" y1="751.00" x2="474.20" y2="858.00" stroke="#1a1a1a" stroke-width="0.7"/>
<line x1="213.40" y1="766.90" x2="448.90" y2="766.90" stroke="#1a1a1a" stroke-width="0.8"/>
<path d="M213.40,766.90 L218.40,765.50 L218.40,768.30 Z" fill="#1a1a1a"/>
<path d="M448.90,766.90 L443.90,768.30 L443.90,765.50 Z" fill="#1a1a1a"/>
<text x="330.00" y="764.30" font-size="10.2" font-weight="bold" text-anchor="middle">k</text>
<line x1="449.30" y1="767.00" x2="449.30" y2="808.00" stroke="#1a1a1a" stroke-width="0.7"/>
<line x1="253.60" y1="780.00" x2="253.60" y2="850.00" stroke="#1a1a1a" stroke-width="0.7"/>
<line x1="254.00" y1="784.25" x2="275.50" y2="784.25" stroke="#1a1a1a" stroke-width="0.8"/>
<path d="M254.00,784.25 L259.00,782.85 L259.00,785.65 Z" fill="#1a1a1a"/>
<path d="M275.50,784.25 L270.50,785.65 L270.50,782.85 Z" fill="#1a1a1a"/>
<text x="266.90" y="782.20" font-size="10.2" font-weight="bold" text-anchor="middle">44</text>
<text x="310.10" y="780.40" font-size="10.2" font-weight="bold" text-anchor="middle">Ø17</text>
<line x1="300.50" y1="783.00" x2="320.00" y2="783.00" stroke="#1a1a1a" stroke-width="0.7"/>
<line x1="300.50" y1="783.00" x2="279.00" y2="798.00" stroke="#1a1a1a" stroke-width="0.7"/>
<line x1="271.00" y1="806.00" x2="266.00" y2="812.00" stroke="#1a1a1a" stroke-width="0.7"/>
<line x1="256.80" y1="845.50" x2="213.00" y2="845.50" stroke="#1a1a1a" stroke-width="0.7"/>
<line x1="213.40" y1="845.50" x2="253.20" y2="845.50" stroke="#1a1a1a" stroke-width="0.8"/>
<path d="M213.40,845.50 L218.40,844.10 L218.40,846.90 Z" fill="#1a1a1a"/>
<path d="M253.20,845.50 L248.20,846.90 L248.20,844.10 Z" fill="#1a1a1a"/>
<text x="233.10" y="843.75" font-size="10.2" font-weight="bold" text-anchor="middle">80</text>
<line x1="180.90" y1="889.70" x2="257.90" y2="889.70" stroke="#1a1a1a" stroke-width="0.7"/>
<line x1="180.90" y1="942.50" x2="257.90" y2="942.50" stroke="#1a1a1a" stroke-width="0.7"/>
<line x1="180.90" y1="890.10" x2="180.90" y2="942.10" stroke="#1a1a1a" stroke-width="0.8"/>
<path d="M180.90,890.10 L182.30,895.10 L179.50,895.10 Z" fill="#1a1a1a"/>
<path d="M180.90,942.10 L179.50,937.10 L182.30,937.10 Z" fill="#1a1a1a"/>
<rect x="166.00" y="910.00" width="28.00" height="12.00" fill="#fff"/>
<text x="167.70" y="919.00" font-size="10.2" font-weight="bold">Ø110</text>
<text x="190.40" y="903.60" font-size="7.2" font-weight="bold">-0.01</text>
<text x="190.40" y="911.30" font-size="7.2" font-weight="bold">-0.03</text>
<line x1="271.80" y1="953.00" x2="271.80" y2="995.30" stroke="#1a1a1a" stroke-width="0.7"/>
<line x1="329.40" y1="953.00" x2="329.40" y2="995.30" stroke="#1a1a1a" stroke-width="0.7"/>
<line x1="344.80" y1="948.00" x2="344.80" y2="1011.80" stroke="#1a1a1a" stroke-width="0.7"/>
<line x1="262.00" y1="962.00" x2="262.00" y2="981.00" stroke="#1a1a1a" stroke-width="0.7"/>
<line x1="238.10" y1="978.80" x2="270.00" y2="978.80" stroke="#1a1a1a" stroke-width="0.7"/>
<path d="M256.80,978.80 L252.80,980.00 L252.80,977.60 Z" fill="#1a1a1a"/>
<path d="M262.00,978.80 L266.00,977.60 L266.00,980.00 Z" fill="#1a1a1a"/>
<text x="243.30" y="975.50" font-size="10.2" font-weight="bold" text-anchor="middle">3</text>
<line x1="213.40" y1="995.30" x2="271.40" y2="995.30" stroke="#1a1a1a" stroke-width="0.8"/>
<path d="M213.40,995.30 L218.40,993.90 L218.40,996.70 Z" fill="#1a1a1a"/>
<path d="M271.40,995.30 L266.40,996.70 L266.40,993.90 Z" fill="#1a1a1a"/>
<text x="242.00" y="993.00" font-size="10.2" font-weight="bold" text-anchor="middle">121</text>
<line x1="272.20" y1="995.30" x2="329.00" y2="995.30" stroke="#1a1a1a" stroke-width="0.8"/>
<path d="M272.20,995.30 L277.20,993.90 L277.20,996.70 Z" fill="#1a1a1a"/>
<path d="M329.00,995.30 L324.00,996.70 L324.00,993.90 Z" fill="#1a1a1a"/>
<text x="299.70" y="993.00" font-size="10.2" font-weight="bold" text-anchor="middle">112</text>
<line x1="213.40" y1="1011.80" x2="344.40" y2="1011.80" stroke="#1a1a1a" stroke-width="0.8"/>
<path d="M213.40,1011.80 L218.40,1010.40 L218.40,1013.20 Z" fill="#1a1a1a"/>
<path d="M344.40,1011.80 L339.40,1013.20 L339.40,1010.40 Z" fill="#1a1a1a"/>
<text x="279.20" y="1009.60" font-size="10.2" font-weight="bold" text-anchor="middle">268.5</text>
<g transform="translate(631.6,915.9) scale(1.02) translate(-590,-355.5)">
<path d="M534.5,290 L534.5,277 C535.5,255 548,238 566.6,232 M614,236 C632,244 645,258 646.2,277 L646.2,290" fill="none" stroke="#1a1a1a" stroke-width="1.3"/>
<path d="M566.6,232 L566.6,224 Q590,220 614,224 L614,232" fill="#fff" stroke="#1a1a1a" stroke-width="1.1"/>
<line x1="566.60" y1="232.00" x2="614.00" y2="232.00" stroke="#1a1a1a" stroke-width="1.1"/>
<line x1="568.00" y1="229.00" x2="612.00" y2="229.00" stroke="#1a1a1a" stroke-width="0.5"/>
<path d="M614,227.4 L625,227.4 L628.4,231 L628.4,237.75 L614,237.75" fill="#fff" stroke="#1a1a1a" stroke-width="0.9"/>
<line x1="620.00" y1="227.40" x2="620.00" y2="237.75" stroke="#1a1a1a" stroke-width="0.6"/>
<path d="M535.5,268.3 Q590,252 646,268.3" fill="none" stroke="#1a1a1a" stroke-width="0.8"/>
<path d="M536,278.7 Q590,262 646,278.7" fill="none" stroke="#1a1a1a" stroke-width="0.9"/>
<line x1="553.50" y1="264.50" x2="557.00" y2="275.50" stroke="#1a1a1a" stroke-width="0.8"/>
<line x1="556.00" y1="264.00" x2="559.50" y2="275.00" stroke="#1a1a1a" stroke-width="0.6"/>
<line x1="626.50" y1="264.50" x2="623.00" y2="275.50" stroke="#1a1a1a" stroke-width="0.8"/>
<line x1="624.00" y1="264.00" x2="620.50" y2="275.00" stroke="#1a1a1a" stroke-width="0.6"/>
<line x1="534.50" y1="277.50" x2="534.50" y2="403.60" stroke="#1a1a1a" stroke-width="1.4"/>
<line x1="646.20" y1="277.50" x2="646.20" y2="403.60" stroke="#1a1a1a" stroke-width="1.4"/>
<line x1="537.00" y1="279.00" x2="537.00" y2="400.00" stroke="#1a1a1a" stroke-width="0.7"/>
<line x1="643.70" y1="279.00" x2="643.70" y2="400.00" stroke="#1a1a1a" stroke-width="0.7"/>
<line x1="534.50" y1="403.60" x2="646.20" y2="403.60" stroke="#1a1a1a" stroke-width="1.3"/>
<line x1="540.00" y1="400.00" x2="640.00" y2="400.00" stroke="#1a1a1a" stroke-width="0.7"/>
<rect x="548.00" y="400.00" width="4.00" height="3.60" fill="#555" stroke="#1a1a1a" stroke-width="0.5"/>
<rect x="562.00" y="400.00" width="4.00" height="3.60" fill="#555" stroke="#1a1a1a" stroke-width="0.5"/>
<rect x="578.00" y="400.00" width="4.00" height="3.60" fill="#555" stroke="#1a1a1a" stroke-width="0.5"/>
<rect x="600.00" y="400.00" width="4.00" height="3.60" fill="#555" stroke="#1a1a1a" stroke-width="0.5"/>
<rect x="616.00" y="400.00" width="4.00" height="3.60" fill="#555" stroke="#1a1a1a" stroke-width="0.5"/>
<rect x="632.00" y="400.00" width="4.00" height="3.60" fill="#555" stroke="#1a1a1a" stroke-width="0.5"/>
<path d="M537.50,306.00 L549.50,330.00 L549.50,397.00" fill="none" stroke="#1a1a1a" stroke-width="0.9"/>
<path d="M537.50,312.00 L546.00,329.00 L546.00,397.00" fill="none" stroke="#1a1a1a" stroke-width="0.7"/>
<path d="M643.20,306.00 L631.20,330.00 L631.20,397.00" fill="none" stroke="#1a1a1a" stroke-width="0.9"/>
<path d="M643.20,312.00 L634.70,329.00 L634.70,397.00" fill="none" stroke="#1a1a1a" stroke-width="0.7"/>
<rect x="540.20" y="375.00" width="3.80" height="23.00" fill="none" stroke="#1a1a1a" stroke-width="0.8" rx="1.9"/>
<rect x="636.70" y="375.00" width="3.80" height="23.00" fill="none" stroke="#1a1a1a" stroke-width="0.8" rx="1.9"/>
<path d="M561,313 C553,306 552,292 558,285 C566,276 582,279 590,287.5 C600,282 624,282 630,302 C633,315 628,328 629,338" fill="none" stroke="#1a1a1a" stroke-width="0.9"/>
<circle cx="571.40" cy="298.00" r="12.10" fill="#fff" stroke="#1a1a1a" stroke-width="1.3"/>
<circle cx="607.40" cy="309.00" r="16.40" fill="#fff" stroke="#1a1a1a" stroke-width="1.3"/>
<circle cx="639.40" cy="298.30" r="3.20" fill="none" stroke="#1a1a1a" stroke-width="1.0"/>
<circle cx="639.40" cy="298.30" r="1.50" fill="none" stroke="#1a1a1a" stroke-width="0.8"/>
<path d="M631.80,355.50 L631.51,358.61 L630.69,361.63 L629.48,364.51 L629.32,367.63 L628.75,370.71 L627.66,373.64 L626.05,376.31 L624.00,378.68 L621.66,380.75 L620.17,383.49 L618.31,386.01 L616.06,388.18 L613.45,389.89 L610.58,391.14 L607.57,391.99 L605.03,393.81 L602.27,395.28 L599.30,396.25 L596.20,396.66 L593.08,396.53 L590.00,396.00 L586.92,396.53 L583.80,396.66 L580.70,396.25 L577.73,395.28 L574.97,393.81 L572.43,391.99 L569.42,391.14 L566.55,389.89 L563.94,388.18 L561.69,386.01 L559.83,383.49 L558.34,380.75 L556.00,378.68 L553.95,376.31 L552.34,373.64 L551.25,370.71 L550.68,367.63 L550.52,364.51 L549.31,361.63 L548.49,358.61 L548.20,355.50 L548.49,352.39 L549.31,349.37 L550.52,346.49 L550.68,343.37 L551.25,340.29 L552.34,337.36 L553.95,334.69 L556.54,332.69 L558.34,330.25 L560.31,327.95 L562.45,325.81 L564.75,323.84 L567.19,322.04 L569.75,320.43 L572.43,319.01 L575.20,317.80 L578.06,316.80 L580.99,316.02 L583.96,315.45 L586.97,315.11 L590.00,315.00 L593.03,315.11 L596.04,315.45 L599.01,316.02 L601.94,316.80 L604.80,317.80 L607.57,319.01 L610.25,320.43 L612.81,322.04 L615.25,323.84 L617.55,325.81 L619.69,327.95 L621.66,330.25 L623.46,332.69 L626.05,334.69 L627.66,337.36 L628.75,340.29 L629.32,343.37 L629.48,346.49 L630.69,349.37 L631.51,352.39 L631.80,355.50 Z" fill="#fff" stroke="#1a1a1a" stroke-width="1.1"/>
<circle cx="590.00" cy="355.50" r="35.00" fill="none" stroke="#666" stroke-width="0.6"/>
<circle cx="590.00" cy="355.50" r="29.20" fill="none" stroke="#555" stroke-width="0.6" stroke-dasharray="4 2"/>
<circle cx="590.00" cy="355.50" r="22.80" fill="none" stroke="#1a1a1a" stroke-width="1.2"/>
<circle cx="590.00" cy="355.50" r="19.00" fill="none" stroke="#1a1a1a" stroke-width="0.8"/>
<circle cx="590.00" cy="355.50" r="15.00" fill="none" stroke="#1a1a1a" stroke-width="1.0"/>
<circle cx="590.00" cy="355.50" r="11.00" fill="none" stroke="#1a1a1a" stroke-width="1.4"/>
<rect x="598.00" y="351.00" width="5.00" height="9.00" fill="#fff" stroke="#1a1a1a" stroke-width="0.8"/>
<circle cx="590.00" cy="323.00" r="3.10" fill="#fff" stroke="#1a1a1a" stroke-width="1.0"/>
<circle cx="590.00" cy="323.00" r="1.20" fill="none" stroke="#1a1a1a" stroke-width="0.6"/>
<circle cx="590.00" cy="389.30" r="3.10" fill="#fff" stroke="#1a1a1a" stroke-width="1.0"/>
<circle cx="590.00" cy="389.30" r="1.20" fill="none" stroke="#1a1a1a" stroke-width="0.6"/>
<circle cx="561.40" cy="339.90" r="3.10" fill="#fff" stroke="#1a1a1a" stroke-width="1.0"/>
<circle cx="561.40" cy="339.90" r="1.20" fill="none" stroke="#1a1a1a" stroke-width="0.6"/>
<circle cx="619.10" cy="339.90" r="3.10" fill="#fff" stroke="#1a1a1a" stroke-width="1.0"/>
<circle cx="619.10" cy="339.90" r="1.20" fill="none" stroke="#1a1a1a" stroke-width="0.6"/>
<circle cx="561.40" cy="373.70" r="3.10" fill="#fff" stroke="#1a1a1a" stroke-width="1.0"/>
<circle cx="561.40" cy="373.70" r="1.20" fill="none" stroke="#1a1a1a" stroke-width="0.6"/>
<circle cx="619.10" cy="373.70" r="3.10" fill="#fff" stroke="#1a1a1a" stroke-width="1.0"/>
<circle cx="619.10" cy="373.70" r="1.20" fill="none" stroke="#1a1a1a" stroke-width="0.6"/>
<line x1="590.00" y1="200.00" x2="590.00" y2="412.00" stroke="#1a1a1a" stroke-width="0.6" stroke-dasharray="7 2 1.5 2"/>
<line x1="549.70" y1="355.50" x2="690.00" y2="355.50" stroke="#1a1a1a" stroke-width="0.6" stroke-dasharray="7 2 1.5 2"/>
<line x1="586.60" y1="206.80" x2="586.60" y2="268.40" stroke="#1a1a1a" stroke-width="0.9"/>
<line x1="593.90" y1="206.80" x2="593.90" y2="268.40" stroke="#1a1a1a" stroke-width="0.9"/>
<line x1="577.00" y1="206.80" x2="618.60" y2="206.80" stroke="#1a1a1a" stroke-width="0.7"/>
<path d="M586.60,206.80 L582.60,208.00 L582.60,205.60 Z" fill="#1a1a1a"/>
<path d="M593.90,206.80 L597.90,205.60 L597.90,208.00 Z" fill="#1a1a1a"/>
<text x="611.40" y="204.70" font-size="10.2" font-weight="bold" text-anchor="middle">16</text>
<line x1="479.50" y1="221.60" x2="569.20" y2="221.60" stroke="#1a1a1a" stroke-width="0.7"/>
<line x1="479.50" y1="404.90" x2="534.00" y2="404.90" stroke="#1a1a1a" stroke-width="0.7"/>
<line x1="479.50" y1="222.00" x2="479.50" y2="404.50" stroke="#1a1a1a" stroke-width="0.8"/>
<path d="M479.50,222.00 L480.90,227.00 L478.10,227.00 Z" fill="#1a1a1a"/>
<path d="M479.50,404.50 L478.10,399.50 L480.90,399.50 Z" fill="#1a1a1a"/>
<rect x="472.00" y="294.00" width="16.00" height="12.00" fill="#fff"/>
<text x="480.20" y="303.50" font-size="10.2" font-weight="bold" text-anchor="middle">P1</text>
<line x1="500.30" y1="232.00" x2="562.00" y2="232.00" stroke="#1a1a1a" stroke-width="0.7"/>
<line x1="500.30" y1="232.40" x2="500.30" y2="404.50" stroke="#1a1a1a" stroke-width="0.8"/>
<path d="M500.30,232.40 L501.70,237.40 L498.90,237.40 Z" fill="#1a1a1a"/>
<path d="M500.30,404.50 L498.90,399.50 L501.70,399.50 Z" fill="#1a1a1a"/>
<rect x="490.00" y="312.00" width="20.00" height="12.00" fill="#fff"/>
<text x="499.70" y="321.70" font-size="10.2" font-weight="bold" text-anchor="middle">352</text>
<line x1="574.40" y1="245.00" x2="690.00" y2="245.00" stroke="#1a1a1a" stroke-width="0.7"/>
<line x1="647.20" y1="273.60" x2="670.00" y2="273.60" stroke="#1a1a1a" stroke-width="0.7"/>
<line x1="647.20" y1="404.00" x2="670.00" y2="404.00" stroke="#1a1a1a" stroke-width="0.7"/>
<line x1="649.00" y1="355.50" x2="692.00" y2="355.50" stroke="#1a1a1a" stroke-width="0.7"/>
<line x1="687.50" y1="245.40" x2="687.50" y2="355.10" stroke="#1a1a1a" stroke-width="0.8"/>
<path d="M687.50,245.40 L688.90,250.40 L686.10,250.40 Z" fill="#1a1a1a"/>
<path d="M687.50,355.10 L686.10,350.10 L688.90,350.10 Z" fill="#1a1a1a"/>
<rect x="677.00" y="294.00" width="21.00" height="12.00" fill="#fff"/>
<text x="687.50" y="304.30" font-size="10.2" font-weight="bold" text-anchor="middle">218</text>
<line x1="666.70" y1="274.00" x2="666.70" y2="355.10" stroke="#1a1a1a" stroke-width="0.8"/>
<path d="M666.70,274.00 L668.10,279.00 L665.30,279.00 Z" fill="#1a1a1a"/>
<path d="M666.70,355.10 L665.30,350.10 L668.10,350.10 Z" fill="#1a1a1a"/>
<line x1="666.70" y1="355.90" x2="666.70" y2="403.60" stroke="#1a1a1a" stroke-width="0.8"/>
<path d="M666.70,355.90 L668.10,360.90 L665.30,360.90 Z" fill="#1a1a1a"/>
<path d="M666.70,403.60 L665.30,398.60 L668.10,398.60 Z" fill="#1a1a1a"/>
<rect x="657.00" y="308.00" width="21.00" height="12.00" fill="#fff"/>
<text x="667.40" y="318.30" font-size="10.2" font-weight="bold" text-anchor="middle">169</text>
<rect x="657.00" y="374.00" width="21.00" height="12.00" fill="#fff"/>
<text x="667.40" y="384.10" font-size="10.2" font-weight="bold" text-anchor="middle">100</text>
<line x1="534.10" y1="404.00" x2="534.10" y2="423.00" stroke="#1a1a1a" stroke-width="0.7"/>
<line x1="647.20" y1="404.00" x2="647.20" y2="423.00" stroke="#1a1a1a" stroke-width="0.7"/>
<line x1="534.50" y1="420.50" x2="646.80" y2="420.50" stroke="#1a1a1a" stroke-width="0.8"/>
<path d="M534.50,420.50 L539.50,419.10 L539.50,421.90 Z" fill="#1a1a1a"/>
<path d="M646.80,420.50 L641.80,421.90 L641.80,419.10 Z" fill="#1a1a1a"/>
<text x="590.60" y="417.90" font-size="10.2" font-weight="bold" text-anchor="middle">219</text>
<text x="567.90" y="317.80" font-size="10.2" font-weight="bold" text-anchor="middle">60°</text>
<path d="M572,322 Q580,318 588,320" fill="none" stroke="#1a1a1a" stroke-width="0.7"/>
<text x="523.00" y="347.70" font-size="10.2" font-weight="bold" text-anchor="middle">M12</text>
<line x1="512.00" y1="350.00" x2="533.00" y2="350.00" stroke="#1a1a1a" stroke-width="0.7"/>
<line x1="533.00" y1="350.00" x2="561.40" y2="339.90" stroke="#1a1a1a" stroke-width="0.7"/>
<text x="520.20" y="371.10" font-size="10.2" font-weight="bold" text-anchor="middle">Ø130</text>
<line x1="507.00" y1="374.00" x2="533.00" y2="374.00" stroke="#1a1a1a" stroke-width="0.7"/>
<line x1="533.00" y1="374.00" x2="630.30" y2="343.80" stroke="#1a1a1a" stroke-width="0.7"/>
</g>
<text x="206" y="1037.5" font-size="8.4" font-weight="bold" textLength="23" lengthAdjust="spacingAndGlyphs">+0.02</text>
<text x="211.50" y="1045.60" font-size="8.4" font-weight="bold">0</text>
<text x="204.20" y="1054.30" font-size="10.2" font-weight="bold" text-anchor="middle">Ø40</text>
<line x1="193.00" y1="1056.75" x2="215.00" y2="1056.75" stroke="#1a1a1a" stroke-width="0.7"/>
<line x1="215.00" y1="1056.75" x2="241.00" y2="1100.00" stroke="#1a1a1a" stroke-width="0.7"/>
<text x="259.00" y="1046.25" font-size="10.2" font-weight="bold" text-anchor="middle">M16</text>
<line x1="249.00" y1="1048.70" x2="269.50" y2="1048.70" stroke="#1a1a1a" stroke-width="0.7"/>
<line x1="249.00" y1="1048.70" x2="228.00" y2="1080.00" stroke="#1a1a1a" stroke-width="0.7"/>
<circle cx="226.50" cy="1078.50" r="14.50" fill="#fff" stroke="#1a1a1a" stroke-width="1.5"/>
<line x1="230.50" y1="1078.50" x2="240.50" y2="1078.50" stroke="#1a1a1a" stroke-width="0.6"/>
<line x1="229.33" y1="1081.33" x2="236.40" y2="1088.40" stroke="#1a1a1a" stroke-width="0.6"/>
<line x1="226.50" y1="1082.50" x2="226.50" y2="1092.50" stroke="#1a1a1a" stroke-width="0.6"/>
<line x1="223.67" y1="1081.33" x2="216.60" y2="1088.40" stroke="#1a1a1a" stroke-width="0.6"/>
<line x1="222.50" y1="1078.50" x2="212.50" y2="1078.50" stroke="#1a1a1a" stroke-width="0.6"/>
<line x1="223.67" y1="1075.67" x2="216.60" y2="1068.60" stroke="#1a1a1a" stroke-width="0.6"/>
<line x1="226.50" y1="1074.50" x2="226.50" y2="1064.50" stroke="#1a1a1a" stroke-width="0.6"/>
<line x1="229.33" y1="1075.67" x2="236.40" y2="1068.60" stroke="#1a1a1a" stroke-width="0.6"/>
<line x1="211.00" y1="1078.50" x2="242.00" y2="1078.50" stroke="#1a1a1a" stroke-width="0.6"/>
<circle cx="226.50" cy="1078.50" r="3.80" fill="#fff" stroke="#1a1a1a" stroke-width="0.9"/>
<circle cx="226.50" cy="1078.50" r="1.60" fill="none" stroke="#1a1a1a" stroke-width="0.6"/>
<line x1="226.50" y1="1074.00" x2="226.50" y2="1083.00" stroke="#1a1a1a" stroke-width="0.5"/>
<rect x="244.00" y="1073.50" width="16.00" height="9.50" fill="#fff" stroke="#1a1a1a" stroke-width="0.9"/>
<line x1="242.00" y1="1073.50" x2="244.00" y2="1073.50" stroke="#1a1a1a" stroke-width="0.6"/>
<line x1="242.00" y1="1083.00" x2="244.00" y2="1083.00" stroke="#1a1a1a" stroke-width="0.6"/>
<line x1="260.00" y1="1062.70" x2="272.50" y2="1062.70" stroke="#1a1a1a" stroke-width="0.7"/>
<line x1="260.00" y1="1062.70" x2="260.00" y2="1093.00" stroke="#1a1a1a" stroke-width="0.7"/>
<path d="M260.00,1073.50 L258.80,1069.50 L261.20,1069.50 Z" fill="#1a1a1a"/>
<path d="M260.00,1083.00 L261.20,1087.00 L258.80,1087.00 Z" fill="#1a1a1a"/>
<text x="266.90" y="1061.30" font-size="10.2" font-weight="bold" text-anchor="middle">12</text>
<line x1="212.00" y1="1078.50" x2="212.00" y2="1107.00" stroke="#1a1a1a" stroke-width="0.7"/>
<line x1="244.00" y1="1083.00" x2="244.00" y2="1107.00" stroke="#1a1a1a" stroke-width="0.7"/>
<line x1="202.50" y1="1107.00" x2="273.00" y2="1107.00" stroke="#1a1a1a" stroke-width="0.7"/>
<path d="M212.00,1107.00 L216.00,1105.80 L216.00,1108.20 Z" fill="#1a1a1a"/>
<path d="M244.00,1107.00 L240.00,1108.20 L240.00,1105.80 Z" fill="#1a1a1a"/>
<text x="266.90" y="1104.00" font-size="10.2" font-weight="bold" text-anchor="middle">43</text>
<text x="367.00" y="1063.75" font-size="8.4" font-weight="bold" text-anchor="middle">A-B</text>
<path d="M351,1088.25 C356,1087 355,1074 360,1069.5 Q365,1066.5 370,1069.5 C375,1074 374,1087 383,1088.25 Z" fill="#a6a6a6" stroke="#1a1a1a" stroke-width="0.9"/>
<rect x="361.75" y="1074.00" width="7.00" height="14.25" fill="#fff" stroke="#1a1a1a" stroke-width="0.9"/>
<rect x="361.75" y="1074.00" width="7.00" height="3.00" fill="#666" stroke="#1a1a1a" stroke-width="0.6"/>
<line x1="368.75" y1="1076.00" x2="389.75" y2="1076.00" stroke="#1a1a1a" stroke-width="0.7"/>
<line x1="368.75" y1="1088.25" x2="389.75" y2="1088.25" stroke="#1a1a1a" stroke-width="0.7"/>
<line x1="389.75" y1="1066.20" x2="402.75" y2="1066.20" stroke="#1a1a1a" stroke-width="0.7"/>
<line x1="389.75" y1="1066.20" x2="389.75" y2="1095.25" stroke="#1a1a1a" stroke-width="0.7"/>
<path d="M389.75,1076.00 L388.55,1072.00 L390.95,1072.00 Z" fill="#1a1a1a"/>
<path d="M389.75,1088.25 L390.95,1092.25 L388.55,1092.25 Z" fill="#1a1a1a"/>
<text x="397.00" y="1062.70" font-size="10.2" font-weight="bold" text-anchor="middle">15</text>
<line x1="361.75" y1="1088.25" x2="361.75" y2="1107.50" stroke="#1a1a1a" stroke-width="0.7"/>
<line x1="368.75" y1="1088.25" x2="368.75" y2="1107.50" stroke="#1a1a1a" stroke-width="0.7"/>
<line x1="330.00" y1="1107.50" x2="370.50" y2="1107.50" stroke="#1a1a1a" stroke-width="0.7"/>
<path d="M361.75,1107.50 L357.75,1108.70 L357.75,1106.30 Z" fill="#1a1a1a"/>
<path d="M368.75,1107.50 L372.75,1106.30 L372.75,1108.70 Z" fill="#1a1a1a"/>
<text x="340.70" y="1105.75" font-size="10.2" font-weight="bold" text-anchor="middle">M12</text>
<g>
<path d="M50.3,67.5 L66,46.5 L78.6,40.2 L95.4,30.8 L108,24.5 L123.8,23.4 L136.4,26.6 L143.7,36 L143.7,46.5 L136.4,57 L116.4,65.4 L113.5,72 L114,118 L90,137 L50,114 Z" fill="#e24aa6" stroke="none" stroke-width="0"/>
<path d="M95.4,30.8 L108,24.5 L123.8,23.4 L118,34 L104,42 Z" fill="#ee8ccb" stroke="none" stroke-width="0"/>
<path d="M123.8,23.4 L136.4,26.6 L143.7,36 L143.7,46.5 L136.4,57 L130,52 L134,38 Z" fill="#d23a98" stroke="none" stroke-width="0"/>
<line x1="118.00" y1="26.00" x2="128.00" y2="56.00" stroke="#c23a8a" stroke-width="1.2"/>
<circle cx="113.00" cy="40.00" r="2.20" fill="#8a8090" stroke="none" stroke-width="0"/>
<path d="M62,52 L80,42 L104,46 L88,58 Z" fill="#ef90cc" stroke="none" stroke-width="0"/>
<path d="M66,62 L96,50 L112,62 L88,76 Z" fill="#e86ab8" stroke="none" stroke-width="0"/>
<path d="M50.3,67.5 L70,72 L89,78 L90,137 L50,114 Z" fill="#d8409e" stroke="none" stroke-width="0"/>
<path d="M89,78 L113.5,72 L114,118 L90,137 Z" fill="#e658b0" stroke="none" stroke-width="0"/>
<ellipse cx="61" cy="80" rx="3.6" ry="4.6" fill="#6e5a6a"/>
<ellipse cx="74" cy="92" rx="4.6" ry="6" fill="#6e5a6a"/>
<ellipse cx="67" cy="109" rx="7" ry="8" fill="#5a4a58"/>
<ellipse cx="67" cy="109" rx="4.5" ry="5.3" fill="#9a9098"/>
<ellipse cx="67" cy="109" rx="2.2" ry="2.6" fill="#4a4048"/>
</g>
<g>
<path d="M145.5,67 L158,48 L176,38.5 L189,43 L192,30 L206,22.7 L228,21 L238,30 L240,40 L236.8,51.8 L211.5,67.2 L209.3,72 L209.3,123.3 L186,132 L145.5,115.6 Z" fill="#e24aa6" stroke="none" stroke-width="0"/>
<path d="M192,32 L206,23 L220,22 L214,34 L200,42 Z" fill="#ee8ccb" stroke="none" stroke-width="0"/>
<path d="M226,22 L236,28 L240,40 L236,53 L228,58 L232,40 Z" fill="#d23a98" stroke="none" stroke-width="0"/>
<line x1="216.00" y1="24.00" x2="224.00" y2="58.00" stroke="#c23a8a" stroke-width="1.2"/>
<circle cx="212.00" cy="38.00" r="2.40" fill="#8a8a90" stroke="none" stroke-width="0"/>
<path d="M150,62 L160,48 L176,40 L190,46 L200,60 L186,70 L172,60 Z" fill="#f08acb" stroke="none" stroke-width="0"/>
<path d="M168,64 L192,52 L206,68 L186,80 Z" fill="#ea70bb" stroke="none" stroke-width="0"/>
<path d="M145.5,67 L168,72 L186,80 L186,132 L145.5,115.6 Z" fill="#d8449f" stroke="none" stroke-width="0"/>
<path d="M186,80 L209.3,71.6 L209.3,123.3 L186,132 Z" fill="#e65cb2" stroke="none" stroke-width="0"/>
<ellipse cx="156.5" cy="79.3" rx="3.5" ry="4.5" fill="#6e5a6a"/>
<ellipse cx="169.2" cy="91.4" rx="4.5" ry="6" fill="#6e5a6a"/>
<ellipse cx="162" cy="107.9" rx="6.5" ry="7.5" fill="#5a4a58"/>
<path d="M146,116 L160,104 L164,110 L150,122 Z" fill="#9a9698" stroke="none" stroke-width="0"/>
<ellipse cx="148" cy="119" rx="3" ry="3.6" fill="#b0acae"/>
</g>
<g font-family='"Liberation Sans", sans-serif'>
<path d="M172.4,-57.8 L172.6,-93.9 L138.0,-113.9 L103.4,-93.9 L103.4,-53.9 L138.0,-33.9 M168.3,-91.4 L138.0,-108.9 L107.7,-91.4 L107.7,-56.4 L131.9,-39.4 M167.8,-86.6 L141.9,-106.1 L112.1,-93.4 L108.2,-61.2 L128.5,-42.9 M166.6,-82.1 L145.2,-102.8 L116.6,-94.6 L109.4,-65.7 L125.9,-46.7 M164.9,-78.2 L147.7,-99.3 L120.9,-95.0 L111.1,-69.6 L124.0,-50.6 M162.6,-74.8 L149.5,-95.6 L125.0,-94.8 L113.4,-73.0 L122.9,-54.5 " fill="none" stroke="#cfcfcf" stroke-width="1.0" opacity="0.4" stroke-linejoin="round"/>
<text x="156.0" y="-72.9" font-size="11" textLength="19" lengthAdjust="spacingAndGlyphs" fill="#d0d0d0" opacity="0.36">ЖИ</text>
<text x="139.0" y="-57.9" font-size="15.2" textLength="131" lengthAdjust="spacingAndGlyphs" fill="#d0d0d0" opacity="0.36">ПРОМЫШЛЕННЫЕ</text>
<text x="139.0" y="-35.4" font-size="21.8" textLength="130" lengthAdjust="spacingAndGlyphs" fill="#d0d0d0" opacity="0.36">РЕДУКТОРЫ</text>
<path d="M490.4,-57.8 L490.6,-93.9 L456.0,-113.9 L421.4,-93.9 L421.4,-53.9 L456.0,-33.9 M486.3,-91.4 L456.0,-108.9 L425.7,-91.4 L425.7,-56.4 L449.9,-39.4 M485.8,-86.6 L459.9,-106.1 L430.1,-93.4 L426.2,-61.2 L446.5,-42.9 M484.6,-82.1 L463.2,-102.8 L434.6,-94.6 L427.4,-65.7 L443.9,-46.7 M482.9,-78.2 L465.7,-99.3 L438.9,-95.0 L429.1,-69.6 L442.0,-50.6 M480.6,-74.8 L467.5,-95.6 L443.0,-94.8 L431.4,-73.0 L440.9,-54.5 " fill="none" stroke="#cfcfcf" stroke-width="1.0" opacity="0.4" stroke-linejoin="round"/>
<text x="474.0" y="-72.9" font-size="11" textLength="19" lengthAdjust="spacingAndGlyphs" fill="#d0d0d0" opacity="0.36">ЖИ</text>
<text x="457.0" y="-57.9" font-size="15.2" textLength="131" lengthAdjust="spacingAndGlyphs" fill="#d0d0d0" opacity="0.36">ПРОМЫШЛЕННЫЕ</text>
<text x="457.0" y="-35.4" font-size="21.8" textLength="130" lengthAdjust="spacingAndGlyphs" fill="#d0d0d0" opacity="0.36">РЕДУКТОРЫ</text>
<path d="M808.4,-57.8 L808.6,-93.9 L774.0,-113.9 L739.4,-93.9 L739.4,-53.9 L774.0,-33.9 M804.3,-91.4 L774.0,-108.9 L743.7,-91.4 L743.7,-56.4 L767.9,-39.4 M803.8,-86.6 L777.9,-106.1 L748.1,-93.4 L744.2,-61.2 L764.5,-42.9 M802.6,-82.1 L781.2,-102.8 L752.6,-94.6 L745.4,-65.7 L761.9,-46.7 M800.9,-78.2 L783.7,-99.3 L756.9,-95.0 L747.1,-69.6 L760.0,-50.6 M798.6,-74.8 L785.5,-95.6 L761.0,-94.8 L749.4,-73.0 L758.9,-54.5 " fill="none" stroke="#cfcfcf" stroke-width="1.0" opacity="0.4" stroke-linejoin="round"/>
<text x="792.0" y="-72.9" font-size="11" textLength="19" lengthAdjust="spacingAndGlyphs" fill="#d0d0d0" opacity="0.36">ЖИ</text>
<text x="775.0" y="-57.9" font-size="15.2" textLength="131" lengthAdjust="spacingAndGlyphs" fill="#d0d0d0" opacity="0.36">ПРОМЫШЛЕННЫЕ</text>
<text x="775.0" y="-35.4" font-size="21.8" textLength="130" lengthAdjust="spacingAndGlyphs" fill="#d0d0d0" opacity="0.36">РЕДУКТОРЫ</text>
<path d="M55.4,46.1 L55.6,10.0 L21.0,-10.0 L-13.6,10.0 L-13.6,50.0 L21.0,70.0 M51.3,12.5 L21.0,-5.0 L-9.3,12.5 L-9.3,47.5 L14.9,64.5 M50.8,17.3 L24.9,-2.2 L-4.9,10.5 L-8.8,42.7 L11.5,61.0 M49.6,21.8 L28.2,1.1 L-0.4,9.3 L-7.6,38.2 L8.9,57.2 M47.9,25.7 L30.7,4.6 L3.9,8.9 L-5.9,34.3 L7.0,53.3 M45.6,29.1 L32.5,8.3 L8.0,9.1 L-3.6,30.9 L5.9,49.4 " fill="none" stroke="#cfcfcf" stroke-width="1.0" opacity="0.4" stroke-linejoin="round"/>
<text x="39.0" y="31.0" font-size="11" textLength="19" lengthAdjust="spacingAndGlyphs" fill="#d0d0d0" opacity="0.36">ЖИ</text>
<text x="22.0" y="46.0" font-size="15.2" textLength="131" lengthAdjust="spacingAndGlyphs" fill="#d0d0d0" opacity="0.36">ПРОМЫШЛЕННЫЕ</text>
<text x="22.0" y="68.5" font-size="21.8" textLength="130" lengthAdjust="spacingAndGlyphs" fill="#d0d0d0" opacity="0.36">РЕДУКТОРЫ</text>
<path d="M373.4,46.1 L373.6,10.0 L339.0,-10.0 L304.4,10.0 L304.4,50.0 L339.0,70.0 M369.3,12.5 L339.0,-5.0 L308.7,12.5 L308.7,47.5 L332.9,64.5 M368.8,17.3 L342.9,-2.2 L313.1,10.5 L309.2,42.7 L329.5,61.0 M367.6,21.8 L346.2,1.1 L317.6,9.3 L310.4,38.2 L326.9,57.2 M365.9,25.7 L348.7,4.6 L321.9,8.9 L312.1,34.3 L325.0,53.3 M363.6,29.1 L350.5,8.3 L326.0,9.1 L314.4,30.9 L323.9,49.4 " fill="none" stroke="#cfcfcf" stroke-width="1.0" opacity="0.4" stroke-linejoin="round"/>
<text x="357.0" y="31.0" font-size="11" textLength="19" lengthAdjust="spacingAndGlyphs" fill="#d0d0d0" opacity="0.36">ЖИ</text>
<text x="340.0" y="46.0" font-size="15.2" textLength="131" lengthAdjust="spacingAndGlyphs" fill="#d0d0d0" opacity="0.36">ПРОМЫШЛЕННЫЕ</text>
<text x="340.0" y="68.5" font-size="21.8" textLength="130" lengthAdjust="spacingAndGlyphs" fill="#d0d0d0" opacity="0.36">РЕДУКТОРЫ</text>
<path d="M691.4,46.1 L691.6,10.0 L657.0,-10.0 L622.4,10.0 L622.4,50.0 L657.0,70.0 M687.3,12.5 L657.0,-5.0 L626.7,12.5 L626.7,47.5 L650.9,64.5 M686.8,17.3 L660.9,-2.2 L631.1,10.5 L627.2,42.7 L647.5,61.0 M685.6,21.8 L664.2,1.1 L635.6,9.3 L628.4,38.2 L644.9,57.2 M683.9,25.7 L666.7,4.6 L639.9,8.9 L630.1,34.3 L643.0,53.3 M681.6,29.1 L668.5,8.3 L644.0,9.1 L632.4,30.9 L641.9,49.4 " fill="none" stroke="#cfcfcf" stroke-width="1.0" opacity="0.4" stroke-linejoin="round"/>
<text x="675.0" y="31.0" font-size="11" textLength="19" lengthAdjust="spacingAndGlyphs" fill="#d0d0d0" opacity="0.36">ЖИ</text>
<text x="658.0" y="46.0" font-size="15.2" textLength="131" lengthAdjust="spacingAndGlyphs" fill="#d0d0d0" opacity="0.36">ПРОМЫШЛЕННЫЕ</text>
<text x="658.0" y="68.5" font-size="21.8" textLength="130" lengthAdjust="spacingAndGlyphs" fill="#d0d0d0" opacity="0.36">РЕДУКТОРЫ</text>
<path d="M1009.4,46.1 L1009.6,10.0 L975.0,-10.0 L940.4,10.0 L940.4,50.0 L975.0,70.0 M1005.3,12.5 L975.0,-5.0 L944.7,12.5 L944.7,47.5 L968.9,64.5 M1004.8,17.3 L978.9,-2.2 L949.1,10.5 L945.2,42.7 L965.5,61.0 M1003.6,21.8 L982.2,1.1 L953.6,9.3 L946.4,38.2 L962.9,57.2 M1001.9,25.7 L984.7,4.6 L957.9,8.9 L948.1,34.3 L961.0,53.3 M999.6,29.1 L986.5,8.3 L962.0,9.1 L950.4,30.9 L959.9,49.4 " fill="none" stroke="#cfcfcf" stroke-width="1.0" opacity="0.4" stroke-linejoin="round"/>
<text x="993.0" y="31.0" font-size="11" textLength="19" lengthAdjust="spacingAndGlyphs" fill="#d0d0d0" opacity="0.36">ЖИ</text>
<text x="976.0" y="46.0" font-size="15.2" textLength="131" lengthAdjust="spacingAndGlyphs" fill="#d0d0d0" opacity="0.36">ПРОМЫШЛЕННЫЕ</text>
<text x="976.0" y="68.5" font-size="21.8" textLength="130" lengthAdjust="spacingAndGlyphs" fill="#d0d0d0" opacity="0.36">РЕДУКТОРЫ</text>
<path d="M-61.6,150.0 L-61.4,113.9 L-96.0,93.9 L-130.6,113.9 L-130.6,153.9 L-96.0,173.9 M-65.7,116.4 L-96.0,98.9 L-126.3,116.4 L-126.3,151.4 L-102.1,168.4 M-66.2,121.2 L-92.1,101.7 L-121.9,114.4 L-125.8,146.6 L-105.5,164.9 M-67.4,125.7 L-88.8,105.0 L-117.4,113.2 L-124.6,142.1 L-108.1,161.1 M-69.1,129.6 L-86.3,108.5 L-113.1,112.8 L-122.9,138.2 L-110.0,157.2 M-71.4,133.0 L-84.5,112.2 L-109.0,113.0 L-120.6,134.8 L-111.1,153.3 " fill="none" stroke="#cfcfcf" stroke-width="1.0" opacity="0.4" stroke-linejoin="round"/>
<text x="-78.0" y="134.9" font-size="11" textLength="19" lengthAdjust="spacingAndGlyphs" fill="#d0d0d0" opacity="0.36">ЖИ</text>
<text x="-95.0" y="149.9" font-size="15.2" textLength="131" lengthAdjust="spacingAndGlyphs" fill="#d0d0d0" opacity="0.36">ПРОМЫШЛЕННЫЕ</text>
<text x="-95.0" y="172.4" font-size="21.8" textLength="130" lengthAdjust="spacingAndGlyphs" fill="#d0d0d0" opacity="0.36">РЕДУКТОРЫ</text>
<path d="M256.4,150.0 L256.6,113.9 L222.0,93.9 L187.4,113.9 L187.4,153.9 L222.0,173.9 M252.3,116.4 L222.0,98.9 L191.7,116.4 L191.7,151.4 L215.9,168.4 M251.8,121.2 L225.9,101.7 L196.1,114.4 L192.2,146.6 L212.5,164.9 M250.6,125.7 L229.2,105.0 L200.6,113.2 L193.4,142.1 L209.9,161.1 M248.9,129.6 L231.7,108.5 L204.9,112.8 L195.1,138.2 L208.0,157.2 M246.6,133.0 L233.5,112.2 L209.0,113.0 L197.4,134.8 L206.9,153.3 " fill="none" stroke="#cfcfcf" stroke-width="1.0" opacity="0.4" stroke-linejoin="round"/>
<text x="240.0" y="134.9" font-size="11" textLength="19" lengthAdjust="spacingAndGlyphs" fill="#d0d0d0" opacity="0.36">ЖИ</text>
<text x="223.0" y="149.9" font-size="15.2" textLength="131" lengthAdjust="spacingAndGlyphs" fill="#d0d0d0" opacity="0.36">ПРОМЫШЛЕННЫЕ</text>
<text x="223.0" y="172.4" font-size="21.8" textLength="130" lengthAdjust="spacingAndGlyphs" fill="#d0d0d0" opacity="0.36">РЕДУКТОРЫ</text>
<path d="M574.4,150.0 L574.6,113.9 L540.0,93.9 L505.4,113.9 L505.4,153.9 L540.0,173.9 M570.3,116.4 L540.0,98.9 L509.7,116.4 L509.7,151.4 L533.9,168.4 M569.8,121.2 L543.9,101.7 L514.1,114.4 L510.2,146.6 L530.5,164.9 M568.6,125.7 L547.2,105.0 L518.6,113.2 L511.4,142.1 L527.9,161.1 M566.9,129.6 L549.7,108.5 L522.9,112.8 L513.1,138.2 L526.0,157.2 M564.6,133.0 L551.5,112.2 L527.0,113.0 L515.4,134.8 L524.9,153.3 " fill="none" stroke="#cfcfcf" stroke-width="1.0" opacity="0.4" stroke-linejoin="round"/>
<text x="558.0" y="134.9" font-size="11" textLength="19" lengthAdjust="spacingAndGlyphs" fill="#d0d0d0" opacity="0.36">ЖИ</text>
<text x="541.0" y="149.9" font-size="15.2" textLength="131" lengthAdjust="spacingAndGlyphs" fill="#d0d0d0" opacity="0.36">ПРОМЫШЛЕННЫЕ</text>
<text x="541.0" y="172.4" font-size="21.8" textLength="130" lengthAdjust="spacingAndGlyphs" fill="#d0d0d0" opacity="0.36">РЕДУКТОРЫ</text>
<path d="M892.4,150.0 L892.6,113.9 L858.0,93.9 L823.4,113.9 L823.4,153.9 L858.0,173.9 M888.3,116.4 L858.0,98.9 L827.7,116.4 L827.7,151.4 L851.9,168.4 M887.8,121.2 L861.9,101.7 L832.1,114.4 L828.2,146.6 L848.5,164.9 M886.6,125.7 L865.2,105.0 L836.6,113.2 L829.4,142.1 L845.9,161.1 M884.9,129.6 L867.7,108.5 L840.9,112.8 L831.1,138.2 L844.0,157.2 M882.6,133.0 L869.5,112.2 L845.0,113.0 L833.4,134.8 L842.9,153.3 " fill="none" stroke="#cfcfcf" stroke-width="1.0" opacity="0.4" stroke-linejoin="round"/>
<text x="876.0" y="134.9" font-size="11" textLength="19" lengthAdjust="spacingAndGlyphs" fill="#d0d0d0" opacity="0.36">ЖИ</text>
<text x="859.0" y="149.9" font-size="15.2" textLength="131" lengthAdjust="spacingAndGlyphs" fill="#d0d0d0" opacity="0.36">ПРОМЫШЛЕННЫЕ</text>
<text x="859.0" y="172.4" font-size="21.8" textLength="130" lengthAdjust="spacingAndGlyphs" fill="#d0d0d0" opacity="0.36">РЕДУКТОРЫ</text>
<path d="M139.4,253.9 L139.6,217.8 L105.0,197.8 L70.4,217.8 L70.4,257.8 L105.0,277.8 M135.3,220.3 L105.0,202.8 L74.7,220.3 L74.7,255.3 L98.9,272.3 M134.8,225.1 L108.9,205.6 L79.1,218.3 L75.2,250.5 L95.5,268.8 M133.6,229.6 L112.2,208.9 L83.6,217.1 L76.4,246.0 L92.9,265.0 M131.9,233.5 L114.7,212.4 L87.9,216.7 L78.1,242.1 L91.0,261.1 M129.6,236.9 L116.5,216.1 L92.0,216.9 L80.4,238.7 L89.9,257.2 " fill="none" stroke="#cfcfcf" stroke-width="1.0" opacity="0.4" stroke-linejoin="round"/>
<text x="123.0" y="238.8" font-size="11" textLength="19" lengthAdjust="spacingAndGlyphs" fill="#d0d0d0" opacity="0.36">ЖИ</text>
<text x="106.0" y="253.8" font-size="15.2" textLength="131" lengthAdjust="spacingAndGlyphs" fill="#d0d0d0" opacity="0.36">ПРОМЫШЛЕННЫЕ</text>
<text x="106.0" y="276.3" font-size="21.8" textLength="130" lengthAdjust="spacingAndGlyphs" fill="#d0d0d0" opacity="0.36">РЕДУКТОРЫ</text>
<path d="M457.4,253.9 L457.6,217.8 L423.0,197.8 L388.4,217.8 L388.4,257.8 L423.0,277.8 M453.3,220.3 L423.0,202.8 L392.7,220.3 L392.7,255.3 L416.9,272.3 M452.8,225.1 L426.9,205.6 L397.1,218.3 L393.2,250.5 L413.5,268.8 M451.6,229.6 L430.2,208.9 L401.6,217.1 L394.4,246.0 L410.9,265.0 M449.9,233.5 L432.7,212.4 L405.9,216.7 L396.1,242.1 L409.0,261.1 M447.6,236.9 L434.5,216.1 L410.0,216.9 L398.4,238.7 L407.9,257.2 " fill="none" stroke="#cfcfcf" stroke-width="1.0" opacity="0.4" stroke-linejoin="round"/>
<text x="441.0" y="238.8" font-size="11" textLength="19" lengthAdjust="spacingAndGlyphs" fill="#d0d0d0" opacity="0.36">ЖИ</text>
<text x="424.0" y="253.8" font-size="15.2" textLength="131" lengthAdjust="spacingAndGlyphs" fill="#d0d0d0" opacity="0.36">ПРОМЫШЛЕННЫЕ</text>
<text x="424.0" y="276.3" font-size="21.8" textLength="130" lengthAdjust="spacingAndGlyphs" fill="#d0d0d0" opacity="0.36">РЕДУКТОРЫ</text>
<path d="M775.4,253.9 L775.6,217.8 L741.0,197.8 L706.4,217.8 L706.4,257.8 L741.0,277.8 M771.3,220.3 L741.0,202.8 L710.7,220.3 L710.7,255.3 L734.9,272.3 M770.8,225.1 L744.9,205.6 L715.1,218.3 L711.2,250.5 L731.5,268.8 M769.6,229.6 L748.2,208.9 L719.6,217.1 L712.4,246.0 L728.9,265.0 M767.9,233.5 L750.7,212.4 L723.9,216.7 L714.1,242.1 L727.0,261.1 M765.6,236.9 L752.5,216.1 L728.0,216.9 L716.4,238.7 L725.9,257.2 " fill="none" stroke="#cfcfcf" stroke-width="1.0" opacity="0.4" stroke-linejoin="round"/>
<text x="759.0" y="238.8" font-size="11" textLength="19" lengthAdjust="spacingAndGlyphs" fill="#d0d0d0" opacity="0.36">ЖИ</text>
<text x="742.0" y="253.8" font-size="15.2" textLength="131" lengthAdjust="spacingAndGlyphs" fill="#d0d0d0" opacity="0.36">ПРОМЫШЛЕННЫЕ</text>
<text x="742.0" y="276.3" font-size="21.8" textLength="130" lengthAdjust="spacingAndGlyphs" fill="#d0d0d0" opacity="0.36">РЕДУКТОРЫ</text>
<path d="M22.4,357.8 L22.6,321.7 L-12.0,301.7 L-46.6,321.7 L-46.6,361.7 L-12.0,381.7 M18.3,324.2 L-12.0,306.7 L-42.3,324.2 L-42.3,359.2 L-18.1,376.2 M17.8,329.0 L-8.1,309.5 L-37.9,322.2 L-41.8,354.4 L-21.5,372.7 M16.6,333.5 L-4.8,312.8 L-33.4,321.0 L-40.6,349.9 L-24.1,368.9 M14.9,337.4 L-2.3,316.3 L-29.1,320.6 L-38.9,346.0 L-26.0,365.0 M12.6,340.8 L-0.5,320.0 L-25.0,320.8 L-36.6,342.6 L-27.1,361.1 " fill="none" stroke="#cfcfcf" stroke-width="1.0" opacity="0.4" stroke-linejoin="round"/>
<text x="6.0" y="342.7" font-size="11" textLength="19" lengthAdjust="spacingAndGlyphs" fill="#d0d0d0" opacity="0.36">ЖИ</text>
<text x="-11.0" y="357.7" font-size="15.2" textLength="131" lengthAdjust="spacingAndGlyphs" fill="#d0d0d0" opacity="0.36">ПРОМЫШЛЕННЫЕ</text>
<text x="-11.0" y="380.2" font-size="21.8" textLength="130" lengthAdjust="spacingAndGlyphs" fill="#d0d0d0" opacity="0.36">РЕДУКТОРЫ</text>
<path d="M340.4,357.8 L340.6,321.7 L306.0,301.7 L271.4,321.7 L271.4,361.7 L306.0,381.7 M336.3,324.2 L306.0,306.7 L275.7,324.2 L275.7,359.2 L299.9,376.2 M335.8,329.0 L309.9,309.5 L280.1,322.2 L276.2,354.4 L296.5,372.7 M334.6,333.5 L313.2,312.8 L284.6,321.0 L277.4,349.9 L293.9,368.9 M332.9,337.4 L315.7,316.3 L288.9,320.6 L279.1,346.0 L292.0,365.0 M330.6,340.8 L317.5,320.0 L293.0,320.8 L281.4,342.6 L290.9,361.1 " fill="none" stroke="#cfcfcf" stroke-width="1.0" opacity="0.4" stroke-linejoin="round"/>
<text x="324.0" y="342.7" font-size="11" textLength="19" lengthAdjust="spacingAndGlyphs" fill="#d0d0d0" opacity="0.36">ЖИ</text>
<text x="307.0" y="357.7" font-size="15.2" textLength="131" lengthAdjust="spacingAndGlyphs" fill="#d0d0d0" opacity="0.36">ПРОМЫШЛЕННЫЕ</text>
<text x="307.0" y="380.2" font-size="21.8" textLength="130" lengthAdjust="spacingAndGlyphs" fill="#d0d0d0" opacity="0.36">РЕДУКТОРЫ</text>
<path d="M658.4,357.8 L658.6,321.7 L624.0,301.7 L589.4,321.7 L589.4,361.7 L624.0,381.7 M654.3,324.2 L624.0,306.7 L593.7,324.2 L593.7,359.2 L617.9,376.2 M653.8,329.0 L627.9,309.5 L598.1,322.2 L594.2,354.4 L614.5,372.7 M652.6,333.5 L631.2,312.8 L602.6,321.0 L595.4,349.9 L611.9,368.9 M650.9,337.4 L633.7,316.3 L606.9,320.6 L597.1,346.0 L610.0,365.0 M648.6,340.8 L635.5,320.0 L611.0,320.8 L599.4,342.6 L608.9,361.1 " fill="none" stroke="#cfcfcf" stroke-width="1.0" opacity="0.4" stroke-linejoin="round"/>
<text x="642.0" y="342.7" font-size="11" textLength="19" lengthAdjust="spacingAndGlyphs" fill="#d0d0d0" opacity="0.36">ЖИ</text>
<text x="625.0" y="357.7" font-size="15.2" textLength="131" lengthAdjust="spacingAndGlyphs" fill="#d0d0d0" opacity="0.36">ПРОМЫШЛЕННЫЕ</text>
<text x="625.0" y="380.2" font-size="21.8" textLength="130" lengthAdjust="spacingAndGlyphs" fill="#d0d0d0" opacity="0.36">РЕДУКТОРЫ</text>
<path d="M976.4,357.8 L976.6,321.7 L942.0,301.7 L907.4,321.7 L907.4,361.7 L942.0,381.7 M972.3,324.2 L942.0,306.7 L911.7,324.2 L911.7,359.2 L935.9,376.2 M971.8,329.0 L945.9,309.5 L916.1,322.2 L912.2,354.4 L932.5,372.7 M970.6,333.5 L949.2,312.8 L920.6,321.0 L913.4,349.9 L929.9,368.9 M968.9,337.4 L951.7,316.3 L924.9,320.6 L915.1,346.0 L928.0,365.0 M966.6,340.8 L953.5,320.0 L929.0,320.8 L917.4,342.6 L926.9,361.1 " fill="none" stroke="#cfcfcf" stroke-width="1.0" opacity="0.4" stroke-linejoin="round"/>
<text x="960.0" y="342.7" font-size="11" textLength="19" lengthAdjust="spacingAndGlyphs" fill="#d0d0d0" opacity="0.36">ЖИ</text>
<text x="943.0" y="357.7" font-size="15.2" textLength="131" lengthAdjust="spacingAndGlyphs" fill="#d0d0d0" opacity="0.36">ПРОМЫШЛЕННЫЕ</text>
<text x="943.0" y="380.2" font-size="21.8" textLength="130" lengthAdjust="spacingAndGlyphs" fill="#d0d0d0" opacity="0.36">РЕДУКТОРЫ</text>
<path d="M-94.6,461.7 L-94.4,425.6 L-129.0,405.6 L-163.6,425.6 L-163.6,465.6 L-129.0,485.6 M-98.7,428.1 L-129.0,410.6 L-159.3,428.1 L-159.3,463.1 L-135.1,480.1 M-99.2,432.9 L-125.1,413.4 L-154.9,426.1 L-158.8,458.3 L-138.5,476.6 M-100.4,437.4 L-121.8,416.7 L-150.4,424.9 L-157.6,453.8 L-141.1,472.8 M-102.1,441.3 L-119.3,420.2 L-146.1,424.5 L-155.9,449.9 L-143.0,468.9 M-104.4,444.7 L-117.5,423.9 L-142.0,424.7 L-153.6,446.5 L-144.1,465.0 " fill="none" stroke="#cfcfcf" stroke-width="1.0" opacity="0.4" stroke-linejoin="round"/>
<text x="-111.0" y="446.6" font-size="11" textLength="19" lengthAdjust="spacingAndGlyphs" fill="#d0d0d0" opacity="0.36">ЖИ</text>
<text x="-128.0" y="461.6" font-size="15.2" textLength="131" lengthAdjust="spacingAndGlyphs" fill="#d0d0d0" opacity="0.36">ПРОМЫШЛЕННЫЕ</text>
<text x="-128.0" y="484.1" font-size="21.8" textLength="130" lengthAdjust="spacingAndGlyphs" fill="#d0d0d0" opacity="0.36">РЕДУКТОРЫ</text>
<path d="M223.4,461.7 L223.6,425.6 L189.0,405.6 L154.4,425.6 L154.4,465.6 L189.0,485.6 M219.3,428.1 L189.0,410.6 L158.7,428.1 L158.7,463.1 L182.9,480.1 M218.8,432.9 L192.9,413.4 L163.1,426.1 L159.2,458.3 L179.5,476.6 M217.6,437.4 L196.2,416.7 L167.6,424.9 L160.4,453.8 L176.9,472.8 M215.9,441.3 L198.7,420.2 L171.9,424.5 L162.1,449.9 L175.0,468.9 M213.6,444.7 L200.5,423.9 L176.0,424.7 L164.4,446.5 L173.9,465.0 " fill="none" stroke="#cfcfcf" stroke-width="1.0" opacity="0.4" stroke-linejoin="round"/>
<text x="207.0" y="446.6" font-size="11" textLength="19" lengthAdjust="spacingAndGlyphs" fill="#d0d0d0" opacity="0.36">ЖИ</text>
<text x="190.0" y="461.6" font-size="15.2" textLength="131" lengthAdjust="spacingAndGlyphs" fill="#d0d0d0" opacity="0.36">ПРОМЫШЛЕННЫЕ</text>
<text x="190.0" y="484.1" font-size="21.8" textLength="130" lengthAdjust="spacingAndGlyphs" fill="#d0d0d0" opacity="0.36">РЕДУКТОРЫ</text>
<path d="M541.4,461.7 L541.6,425.6 L507.0,405.6 L472.4,425.6 L472.4,465.6 L507.0,485.6 M537.3,428.1 L507.0,410.6 L476.7,428.1 L476.7,463.1 L500.9,480.1 M536.8,432.9 L510.9,413.4 L481.1,426.1 L477.2,458.3 L497.5,476.6 M535.6,437.4 L514.2,416.7 L485.6,424.9 L478.4,453.8 L494.9,472.8 M533.9,441.3 L516.7,420.2 L489.9,424.5 L480.1,449.9 L493.0,468.9 M531.6,444.7 L518.5,423.9 L494.0,424.7 L482.4,446.5 L491.9,465.0 " fill="none" stroke="#cfcfcf" stroke-width="1.0" opacity="0.4" stroke-linejoin="round"/>
<text x="525.0" y="446.6" font-size="11" textLength="19" lengthAdjust="spacingAndGlyphs" fill="#d0d0d0" opacity="0.36">ЖИ</text>
<text x="508.0" y="461.6" font-size="15.2" textLength="131" lengthAdjust="spacingAndGlyphs" fill="#d0d0d0" opacity="0.36">ПРОМЫШЛЕННЫЕ</text>
<text x="508.0" y="484.1" font-size="21.8" textLength="130" lengthAdjust="spacingAndGlyphs" fill="#d0d0d0" opacity="0.36">РЕДУКТОРЫ</text>
<path d="M859.4,461.7 L859.6,425.6 L825.0,405.6 L790.4,425.6 L790.4,465.6 L825.0,485.6 M855.3,428.1 L825.0,410.6 L794.7,428.1 L794.7,463.1 L818.9,480.1 M854.8,432.9 L828.9,413.4 L799.1,426.1 L795.2,458.3 L815.5,476.6 M853.6,437.4 L832.2,416.7 L803.6,424.9 L796.4,453.8 L812.9,472.8 M851.9,441.3 L834.7,420.2 L807.9,424.5 L798.1,449.9 L811.0,468.9 M849.6,444.7 L836.5,423.9 L812.0,424.7 L800.4,446.5 L809.9,465.0 " fill="none" stroke="#cfcfcf" stroke-width="1.0" opacity="0.4" stroke-linejoin="round"/>
<text x="843.0" y="446.6" font-size="11" textLength="19" lengthAdjust="spacingAndGlyphs" fill="#d0d0d0" opacity="0.36">ЖИ</text>
<text x="826.0" y="461.6" font-size="15.2" textLength="131" lengthAdjust="spacingAndGlyphs" fill="#d0d0d0" opacity="0.36">ПРОМЫШЛЕННЫЕ</text>
<text x="826.0" y="484.1" font-size="21.8" textLength="130" lengthAdjust="spacingAndGlyphs" fill="#d0d0d0" opacity="0.36">РЕДУКТОРЫ</text>
<path d="M106.4,565.6 L106.6,529.5 L72.0,509.5 L37.4,529.5 L37.4,569.5 L72.0,589.5 M102.3,532.0 L72.0,514.5 L41.7,532.0 L41.7,567.0 L65.9,584.0 M101.8,536.8 L75.9,517.3 L46.1,530.0 L42.2,562.2 L62.5,580.5 M100.6,541.3 L79.2,520.6 L50.6,528.8 L43.4,557.7 L59.9,576.7 M98.9,545.2 L81.7,524.1 L54.9,528.4 L45.1,553.8 L58.0,572.8 M96.6,548.6 L83.5,527.8 L59.0,528.6 L47.4,550.4 L56.9,568.9 " fill="none" stroke="#cfcfcf" stroke-width="1.0" opacity="0.4" stroke-linejoin="round"/>
<text x="90.0" y="550.5" font-size="11" textLength="19" lengthAdjust="spacingAndGlyphs" fill="#d0d0d0" opacity="0.36">ЖИ</text>
<text x="73.0" y="565.5" font-size="15.2" textLength="131" lengthAdjust="spacingAndGlyphs" fill="#d0d0d0" opacity="0.36">ПРОМЫШЛЕННЫЕ</text>
<text x="73.0" y="588.0" font-size="21.8" textLength="130" lengthAdjust="spacingAndGlyphs" fill="#d0d0d0" opacity="0.36">РЕДУКТОРЫ</text>
<path d="M424.4,565.6 L424.6,529.5 L390.0,509.5 L355.4,529.5 L355.4,569.5 L390.0,589.5 M420.3,532.0 L390.0,514.5 L359.7,532.0 L359.7,567.0 L383.9,584.0 M419.8,536.8 L393.9,517.3 L364.1,530.0 L360.2,562.2 L380.5,580.5 M418.6,541.3 L397.2,520.6 L368.6,528.8 L361.4,557.7 L377.9,576.7 M416.9,545.2 L399.7,524.1 L372.9,528.4 L363.1,553.8 L376.0,572.8 M414.6,548.6 L401.5,527.8 L377.0,528.6 L365.4,550.4 L374.9,568.9 " fill="none" stroke="#cfcfcf" stroke-width="1.0" opacity="0.4" stroke-linejoin="round"/>
<text x="408.0" y="550.5" font-size="11" textLength="19" lengthAdjust="spacingAndGlyphs" fill="#d0d0d0" opacity="0.36">ЖИ</text>
<text x="391.0" y="565.5" font-size="15.2" textLength="131" lengthAdjust="spacingAndGlyphs" fill="#d0d0d0" opacity="0.36">ПРОМЫШЛЕННЫЕ</text>
<text x="391.0" y="588.0" font-size="21.8" textLength="130" lengthAdjust="spacingAndGlyphs" fill="#d0d0d0" opacity="0.36">РЕДУКТОРЫ</text>
<path d="M742.4,565.6 L742.6,529.5 L708.0,509.5 L673.4,529.5 L673.4,569.5 L708.0,589.5 M738.3,532.0 L708.0,514.5 L677.7,532.0 L677.7,567.0 L701.9,584.0 M737.8,536.8 L711.9,517.3 L682.1,530.0 L678.2,562.2 L698.5,580.5 M736.6,541.3 L715.2,520.6 L686.6,528.8 L679.4,557.7 L695.9,576.7 M734.9,545.2 L717.7,524.1 L690.9,528.4 L681.1,553.8 L694.0,572.8 M732.6,548.6 L719.5,527.8 L695.0,528.6 L683.4,550.4 L692.9,568.9 " fill="none" stroke="#cfcfcf" stroke-width="1.0" opacity="0.4" stroke-linejoin="round"/>
<text x="726.0" y="550.5" font-size="11" textLength="19" lengthAdjust="spacingAndGlyphs" fill="#d0d0d0" opacity="0.36">ЖИ</text>
<text x="709.0" y="565.5" font-size="15.2" textLength="131" lengthAdjust="spacingAndGlyphs" fill="#d0d0d0" opacity="0.36">ПРОМЫШЛЕННЫЕ</text>
<text x="709.0" y="588.0" font-size="21.8" textLength="130" lengthAdjust="spacingAndGlyphs" fill="#d0d0d0" opacity="0.36">РЕДУКТОРЫ</text>
<path d="M-10.6,669.5 L-10.4,633.4 L-45.0,613.4 L-79.6,633.4 L-79.6,673.4 L-45.0,693.4 M-14.7,635.9 L-45.0,618.4 L-75.3,635.9 L-75.3,670.9 L-51.1,687.9 M-15.2,640.7 L-41.1,621.2 L-70.9,633.9 L-74.8,666.1 L-54.5,684.4 M-16.4,645.2 L-37.8,624.5 L-66.4,632.7 L-73.6,661.6 L-57.1,680.6 M-18.1,649.1 L-35.3,628.0 L-62.1,632.3 L-71.9,657.7 L-59.0,676.7 M-20.4,652.5 L-33.5,631.7 L-58.0,632.5 L-69.6,654.3 L-60.1,672.8 " fill="none" stroke="#cfcfcf" stroke-width="1.0" opacity="0.4" stroke-linejoin="round"/>
<text x="-27.0" y="654.4" font-size="11" textLength="19" lengthAdjust="spacingAndGlyphs" fill="#d0d0d0" opacity="0.36">ЖИ</text>
<text x="-44.0" y="669.4" font-size="15.2" textLength="131" lengthAdjust="spacingAndGlyphs" fill="#d0d0d0" opacity="0.36">ПРОМЫШЛЕННЫЕ</text>
<text x="-44.0" y="691.9" font-size="21.8" textLength="130" lengthAdjust="spacingAndGlyphs" fill="#d0d0d0" opacity="0.36">РЕДУКТОРЫ</text>
<path d="M307.4,669.5 L307.6,633.4 L273.0,613.4 L238.4,633.4 L238.4,673.4 L273.0,693.4 M303.3,635.9 L273.0,618.4 L242.7,635.9 L242.7,670.9 L266.9,687.9 M302.8,640.7 L276.9,621.2 L247.1,633.9 L243.2,666.1 L263.5,684.4 M301.6,645.2 L280.2,624.5 L251.6,632.7 L244.4,661.6 L260.9,680.6 M299.9,649.1 L282.7,628.0 L255.9,632.3 L246.1,657.7 L259.0,676.7 M297.6,652.5 L284.5,631.7 L260.0,632.5 L248.4,654.3 L257.9,672.8 " fill="none" stroke="#cfcfcf" stroke-width="1.0" opacity="0.4" stroke-linejoin="round"/>
<text x="291.0" y="654.4" font-size="11" textLength="19" lengthAdjust="spacingAndGlyphs" fill="#d0d0d0" opacity="0.36">ЖИ</text>
<text x="274.0" y="669.4" font-size="15.2" textLength="131" lengthAdjust="spacingAndGlyphs" fill="#d0d0d0" opacity="0.36">ПРОМЫШЛЕННЫЕ</text>
<text x="274.0" y="691.9" font-size="21.8" textLength="130" lengthAdjust="spacingAndGlyphs" fill="#d0d0d0" opacity="0.36">РЕДУКТОРЫ</text>
<path d="M625.4,669.5 L625.6,633.4 L591.0,613.4 L556.4,633.4 L556.4,673.4 L591.0,693.4 M621.3,635.9 L591.0,618.4 L560.7,635.9 L560.7,670.9 L584.9,687.9 M620.8,640.7 L594.9,621.2 L565.1,633.9 L561.2,666.1 L581.5,684.4 M619.6,645.2 L598.2,624.5 L569.6,632.7 L562.4,661.6 L578.9,680.6 M617.9,649.1 L600.7,628.0 L573.9,632.3 L564.1,657.7 L577.0,676.7 M615.6,652.5 L602.5,631.7 L578.0,632.5 L566.4,654.3 L575.9,672.8 " fill="none" stroke="#cfcfcf" stroke-width="1.0" opacity="0.4" stroke-linejoin="round"/>
<text x="609.0" y="654.4" font-size="11" textLength="19" lengthAdjust="spacingAndGlyphs" fill="#d0d0d0" opacity="0.36">ЖИ</text>
<text x="592.0" y="669.4" font-size="15.2" textLength="131" lengthAdjust="spacingAndGlyphs" fill="#d0d0d0" opacity="0.36">ПРОМЫШЛЕННЫЕ</text>
<text x="592.0" y="691.9" font-size="21.8" textLength="130" lengthAdjust="spacingAndGlyphs" fill="#d0d0d0" opacity="0.36">РЕДУКТОРЫ</text>
<path d="M943.4,669.5 L943.6,633.4 L909.0,613.4 L874.4,633.4 L874.4,673.4 L909.0,693.4 M939.3,635.9 L909.0,618.4 L878.7,635.9 L878.7,670.9 L902.9,687.9 M938.8,640.7 L912.9,621.2 L883.1,633.9 L879.2,666.1 L899.5,684.4 M937.6,645.2 L916.2,624.5 L887.6,632.7 L880.4,661.6 L896.9,680.6 M935.9,649.1 L918.7,628.0 L891.9,632.3 L882.1,657.7 L895.0,676.7 M933.6,652.5 L920.5,631.7 L896.0,632.5 L884.4,654.3 L893.9,672.8 " fill="none" stroke="#cfcfcf" stroke-width="1.0" opacity="0.4" stroke-linejoin="round"/>
<text x="927.0" y="654.4" font-size="11" textLength="19" lengthAdjust="spacingAndGlyphs" fill="#d0d0d0" opacity="0.36">ЖИ</text>
<text x="910.0" y="669.4" font-size="15.2" textLength="131" lengthAdjust="spacingAndGlyphs" fill="#d0d0d0" opacity="0.36">ПРОМЫШЛЕННЫЕ</text>
<text x="910.0" y="691.9" font-size="21.8" textLength="130" lengthAdjust="spacingAndGlyphs" fill="#d0d0d0" opacity="0.36">РЕДУКТОРЫ</text>
<path d="M190.4,773.4 L190.6,737.3 L156.0,717.3 L121.4,737.3 L121.4,777.3 L156.0,797.3 M186.3,739.8 L156.0,722.3 L125.7,739.8 L125.7,774.8 L149.9,791.8 M185.8,744.6 L159.9,725.1 L130.1,737.8 L126.2,770.0 L146.5,788.3 M184.6,749.1 L163.2,728.4 L134.6,736.6 L127.4,765.5 L143.9,784.5 M182.9,753.0 L165.7,731.9 L138.9,736.2 L129.1,761.6 L142.0,780.6 M180.6,756.4 L167.5,735.6 L143.0,736.4 L131.4,758.2 L140.9,776.7 " fill="none" stroke="#cfcfcf" stroke-width="1.0" opacity="0.4" stroke-linejoin="round"/>
<text x="174.0" y="758.3" font-size="11" textLength="19" lengthAdjust="spacingAndGlyphs" fill="#d0d0d0" opacity="0.36">ЖИ</text>
<text x="157.0" y="773.3" font-size="15.2" textLength="131" lengthAdjust="spacingAndGlyphs" fill="#d0d0d0" opacity="0.36">ПРОМЫШЛЕННЫЕ</text>
<text x="157.0" y="795.8" font-size="21.8" textLength="130" lengthAdjust="spacingAndGlyphs" fill="#d0d0d0" opacity="0.36">РЕДУКТОРЫ</text>
<path d="M508.4,773.4 L508.6,737.3 L474.0,717.3 L439.4,737.3 L439.4,777.3 L474.0,797.3 M504.3,739.8 L474.0,722.3 L443.7,739.8 L443.7,774.8 L467.9,791.8 M503.8,744.6 L477.9,725.1 L448.1,737.8 L444.2,770.0 L464.5,788.3 M502.6,749.1 L481.2,728.4 L452.6,736.6 L445.4,765.5 L461.9,784.5 M500.9,753.0 L483.7,731.9 L456.9,736.2 L447.1,761.6 L460.0,780.6 M498.6,756.4 L485.5,735.6 L461.0,736.4 L449.4,758.2 L458.9,776.7 " fill="none" stroke="#cfcfcf" stroke-width="1.0" opacity="0.4" stroke-linejoin="round"/>
<text x="492.0" y="758.3" font-size="11" textLength="19" lengthAdjust="spacingAndGlyphs" fill="#d0d0d0" opacity="0.36">ЖИ</text>
<text x="475.0" y="773.3" font-size="15.2" textLength="131" lengthAdjust="spacingAndGlyphs" fill="#d0d0d0" opacity="0.36">ПРОМЫШЛЕННЫЕ</text>
<text x="475.0" y="795.8" font-size="21.8" textLength="130" lengthAdjust="spacingAndGlyphs" fill="#d0d0d0" opacity="0.36">РЕДУКТОРЫ</text>
<path d="M826.4,773.4 L826.6,737.3 L792.0,717.3 L757.4,737.3 L757.4,777.3 L792.0,797.3 M822.3,739.8 L792.0,722.3 L761.7,739.8 L761.7,774.8 L785.9,791.8 M821.8,744.6 L795.9,725.1 L766.1,737.8 L762.2,770.0 L782.5,788.3 M820.6,749.1 L799.2,728.4 L770.6,736.6 L763.4,765.5 L779.9,784.5 M818.9,753.0 L801.7,731.9 L774.9,736.2 L765.1,761.6 L778.0,780.6 M816.6,756.4 L803.5,735.6 L779.0,736.4 L767.4,758.2 L776.9,776.7 " fill="none" stroke="#cfcfcf" stroke-width="1.0" opacity="0.4" stroke-linejoin="round"/>
<text x="810.0" y="758.3" font-size="11" textLength="19" lengthAdjust="spacingAndGlyphs" fill="#d0d0d0" opacity="0.36">ЖИ</text>
<text x="793.0" y="773.3" font-size="15.2" textLength="131" lengthAdjust="spacingAndGlyphs" fill="#d0d0d0" opacity="0.36">ПРОМЫШЛЕННЫЕ</text>
<text x="793.0" y="795.8" font-size="21.8" textLength="130" lengthAdjust="spacingAndGlyphs" fill="#d0d0d0" opacity="0.36">РЕДУКТОРЫ</text>
<path d="M73.4,877.3 L73.6,841.2 L39.0,821.2 L4.4,841.2 L4.4,881.2 L39.0,901.2 M69.3,843.7 L39.0,826.2 L8.7,843.7 L8.7,878.7 L32.9,895.7 M68.8,848.5 L42.9,829.0 L13.1,841.7 L9.2,873.9 L29.5,892.2 M67.6,853.0 L46.2,832.3 L17.6,840.5 L10.4,869.4 L26.9,888.4 M65.9,856.9 L48.7,835.8 L21.9,840.1 L12.1,865.5 L25.0,884.5 M63.6,860.3 L50.5,839.5 L26.0,840.3 L14.4,862.1 L23.9,880.6 " fill="none" stroke="#cfcfcf" stroke-width="1.0" opacity="0.4" stroke-linejoin="round"/>
<text x="57.0" y="862.2" font-size="11" textLength="19" lengthAdjust="spacingAndGlyphs" fill="#d0d0d0" opacity="0.36">ЖИ</text>
<text x="40.0" y="877.2" font-size="15.2" textLength="131" lengthAdjust="spacingAndGlyphs" fill="#d0d0d0" opacity="0.36">ПРОМЫШЛЕННЫЕ</text>
<text x="40.0" y="899.7" font-size="21.8" textLength="130" lengthAdjust="spacingAndGlyphs" fill="#d0d0d0" opacity="0.36">РЕДУКТОРЫ</text>
<path d="M391.4,877.3 L391.6,841.2 L357.0,821.2 L322.4,841.2 L322.4,881.2 L357.0,901.2 M387.3,843.7 L357.0,826.2 L326.7,843.7 L326.7,878.7 L350.9,895.7 M386.8,848.5 L360.9,829.0 L331.1,841.7 L327.2,873.9 L347.5,892.2 M385.6,853.0 L364.2,832.3 L335.6,840.5 L328.4,869.4 L344.9,888.4 M383.9,856.9 L366.7,835.8 L339.9,840.1 L330.1,865.5 L343.0,884.5 M381.6,860.3 L368.5,839.5 L344.0,840.3 L332.4,862.1 L341.9,880.6 " fill="none" stroke="#cfcfcf" stroke-width="1.0" opacity="0.4" stroke-linejoin="round"/>
<text x="375.0" y="862.2" font-size="11" textLength="19" lengthAdjust="spacingAndGlyphs" fill="#d0d0d0" opacity="0.36">ЖИ</text>
<text x="358.0" y="877.2" font-size="15.2" textLength="131" lengthAdjust="spacingAndGlyphs" fill="#d0d0d0" opacity="0.36">ПРОМЫШЛЕННЫЕ</text>
<text x="358.0" y="899.7" font-size="21.8" textLength="130" lengthAdjust="spacingAndGlyphs" fill="#d0d0d0" opacity="0.36">РЕДУКТОРЫ</text>
<path d="M709.4,877.3 L709.6,841.2 L675.0,821.2 L640.4,841.2 L640.4,881.2 L675.0,901.2 M705.3,843.7 L675.0,826.2 L644.7,843.7 L644.7,878.7 L668.9,895.7 M704.8,848.5 L678.9,829.0 L649.1,841.7 L645.2,873.9 L665.5,892.2 M703.6,853.0 L682.2,832.3 L653.6,840.5 L646.4,869.4 L662.9,888.4 M701.9,856.9 L684.7,835.8 L657.9,840.1 L648.1,865.5 L661.0,884.5 M699.6,860.3 L686.5,839.5 L662.0,840.3 L650.4,862.1 L659.9,880.6 " fill="none" stroke="#cfcfcf" stroke-width="1.0" opacity="0.4" stroke-linejoin="round"/>
<text x="693.0" y="862.2" font-size="11" textLength="19" lengthAdjust="spacingAndGlyphs" fill="#d0d0d0" opacity="0.36">ЖИ</text>
<text x="676.0" y="877.2" font-size="15.2" textLength="131" lengthAdjust="spacingAndGlyphs" fill="#d0d0d0" opacity="0.36">ПРОМЫШЛЕННЫЕ</text>
<text x="676.0" y="899.7" font-size="21.8" textLength="130" lengthAdjust="spacingAndGlyphs" fill="#d0d0d0" opacity="0.36">РЕДУКТОРЫ</text>
<path d="M1027.4,877.3 L1027.6,841.2 L993.0,821.2 L958.4,841.2 L958.4,881.2 L993.0,901.2 M1023.3,843.7 L993.0,826.2 L962.7,843.7 L962.7,878.7 L986.9,895.7 M1022.8,848.5 L996.9,829.0 L967.1,841.7 L963.2,873.9 L983.5,892.2 M1021.6,853.0 L1000.2,832.3 L971.6,840.5 L964.4,869.4 L980.9,888.4 M1019.9,856.9 L1002.7,835.8 L975.9,840.1 L966.1,865.5 L979.0,884.5 M1017.6,860.3 L1004.5,839.5 L980.0,840.3 L968.4,862.1 L977.9,880.6 " fill="none" stroke="#cfcfcf" stroke-width="1.0" opacity="0.4" stroke-linejoin="round"/>
<text x="1011.0" y="862.2" font-size="11" textLength="19" lengthAdjust="spacingAndGlyphs" fill="#d0d0d0" opacity="0.36">ЖИ</text>
<text x="994.0" y="877.2" font-size="15.2" textLength="131" lengthAdjust="spacingAndGlyphs" fill="#d0d0d0" opacity="0.36">ПРОМЫШЛЕННЫЕ</text>
<text x="994.0" y="899.7" font-size="21.8" textLength="130" lengthAdjust="spacingAndGlyphs" fill="#d0d0d0" opacity="0.36">РЕДУКТОРЫ</text>
<path d="M-43.6,981.2 L-43.4,945.1 L-78.0,925.1 L-112.6,945.1 L-112.6,985.1 L-78.0,1005.1 M-47.7,947.6 L-78.0,930.1 L-108.3,947.6 L-108.3,982.6 L-84.1,999.6 M-48.2,952.4 L-74.1,932.9 L-103.9,945.6 L-107.8,977.8 L-87.5,996.1 M-49.4,956.9 L-70.8,936.2 L-99.4,944.4 L-106.6,973.3 L-90.1,992.3 M-51.1,960.8 L-68.3,939.7 L-95.1,944.0 L-104.9,969.4 L-92.0,988.4 M-53.4,964.2 L-66.5,943.4 L-91.0,944.2 L-102.6,966.0 L-93.1,984.5 " fill="none" stroke="#cfcfcf" stroke-width="1.0" opacity="0.4" stroke-linejoin="round"/>
<text x="-60.0" y="966.1" font-size="11" textLength="19" lengthAdjust="spacingAndGlyphs" fill="#d0d0d0" opacity="0.36">ЖИ</text>
<text x="-77.0" y="981.1" font-size="15.2" textLength="131" lengthAdjust="spacingAndGlyphs" fill="#d0d0d0" opacity="0.36">ПРОМЫШЛЕННЫЕ</text>
<text x="-77.0" y="1003.6" font-size="21.8" textLength="130" lengthAdjust="spacingAndGlyphs" fill="#d0d0d0" opacity="0.36">РЕДУКТОРЫ</text>
<path d="M274.4,981.2 L274.6,945.1 L240.0,925.1 L205.4,945.1 L205.4,985.1 L240.0,1005.1 M270.3,947.6 L240.0,930.1 L209.7,947.6 L209.7,982.6 L233.9,999.6 M269.8,952.4 L243.9,932.9 L214.1,945.6 L210.2,977.8 L230.5,996.1 M268.6,956.9 L247.2,936.2 L218.6,944.4 L211.4,973.3 L227.9,992.3 M266.9,960.8 L249.7,939.7 L222.9,944.0 L213.1,969.4 L226.0,988.4 M264.6,964.2 L251.5,943.4 L227.0,944.2 L215.4,966.0 L224.9,984.5 " fill="none" stroke="#cfcfcf" stroke-width="1.0" opacity="0.4" stroke-linejoin="round"/>
<text x="258.0" y="966.1" font-size="11" textLength="19" lengthAdjust="spacingAndGlyphs" fill="#d0d0d0" opacity="0.36">ЖИ</text>
<text x="241.0" y="981.1" font-size="15.2" textLength="131" lengthAdjust="spacingAndGlyphs" fill="#d0d0d0" opacity="0.36">ПРОМЫШЛЕННЫЕ</text>
<text x="241.0" y="1003.6" font-size="21.8" textLength="130" lengthAdjust="spacingAndGlyphs" fill="#d0d0d0" opacity="0.36">РЕДУКТОРЫ</text>
<path d="M592.4,981.2 L592.6,945.1 L558.0,925.1 L523.4,945.1 L523.4,985.1 L558.0,1005.1 M588.3,947.6 L558.0,930.1 L527.7,947.6 L527.7,982.6 L551.9,999.6 M587.8,952.4 L561.9,932.9 L532.1,945.6 L528.2,977.8 L548.5,996.1 M586.6,956.9 L565.2,936.2 L536.6,944.4 L529.4,973.3 L545.9,992.3 M584.9,960.8 L567.7,939.7 L540.9,944.0 L531.1,969.4 L544.0,988.4 M582.6,964.2 L569.5,943.4 L545.0,944.2 L533.4,966.0 L542.9,984.5 " fill="none" stroke="#cfcfcf" stroke-width="1.0" opacity="0.4" stroke-linejoin="round"/>
<text x="576.0" y="966.1" font-size="11" textLength="19" lengthAdjust="spacingAndGlyphs" fill="#d0d0d0" opacity="0.36">ЖИ</text>
<text x="559.0" y="981.1" font-size="15.2" textLength="131" lengthAdjust="spacingAndGlyphs" fill="#d0d0d0" opacity="0.36">ПРОМЫШЛЕННЫЕ</text>
<text x="559.0" y="1003.6" font-size="21.8" textLength="130" lengthAdjust="spacingAndGlyphs" fill="#d0d0d0" opacity="0.36">РЕДУКТОРЫ</text>
<path d="M910.4,981.2 L910.6,945.1 L876.0,925.1 L841.4,945.1 L841.4,985.1 L876.0,1005.1 M906.3,947.6 L876.0,930.1 L845.7,947.6 L845.7,982.6 L869.9,999.6 M905.8,952.4 L879.9,932.9 L850.1,945.6 L846.2,977.8 L866.5,996.1 M904.6,956.9 L883.2,936.2 L854.6,944.4 L847.4,973.3 L863.9,992.3 M902.9,960.8 L885.7,939.7 L858.9,944.0 L849.1,969.4 L862.0,988.4 M900.6,964.2 L887.5,943.4 L863.0,944.2 L851.4,966.0 L860.9,984.5 " fill="none" stroke="#cfcfcf" stroke-width="1.0" opacity="0.4" stroke-linejoin="round"/>
<text x="894.0" y="966.1" font-size="11" textLength="19" lengthAdjust="spacingAndGlyphs" fill="#d0d0d0" opacity="0.36">ЖИ</text>
<text x="877.0" y="981.1" font-size="15.2" textLength="131" lengthAdjust="spacingAndGlyphs" fill="#d0d0d0" opacity="0.36">ПРОМЫШЛЕННЫЕ</text>
<text x="877.0" y="1003.6" font-size="21.8" textLength="130" lengthAdjust="spacingAndGlyphs" fill="#d0d0d0" opacity="0.36">РЕДУКТОРЫ</text>
<path d="M157.4,1085.1 L157.6,1049.0 L123.0,1029.0 L88.4,1049.0 L88.4,1089.0 L123.0,1109.0 M153.3,1051.5 L123.0,1034.0 L92.7,1051.5 L92.7,1086.5 L116.9,1103.5 M152.8,1056.3 L126.9,1036.8 L97.1,1049.5 L93.2,1081.7 L113.5,1100.0 M151.6,1060.8 L130.2,1040.1 L101.6,1048.3 L94.4,1077.2 L110.9,1096.2 M149.9,1064.7 L132.7,1043.6 L105.9,1047.9 L96.1,1073.3 L109.0,1092.3 M147.6,1068.1 L134.5,1047.3 L110.0,1048.1 L98.4,1069.9 L107.9,1088.4 " fill="none" stroke="#cfcfcf" stroke-width="1.0" opacity="0.4" stroke-linejoin="round"/>
<text x="141.0" y="1070.0" font-size="11" textLength="19" lengthAdjust="spacingAndGlyphs" fill="#d0d0d0" opacity="0.36">ЖИ</text>
<text x="124.0" y="1085.0" font-size="15.2" textLength="131" lengthAdjust="spacingAndGlyphs" fill="#d0d0d0" opacity="0.36">ПРОМЫШЛЕННЫЕ</text>
<text x="124.0" y="1107.5" font-size="21.8" textLength="130" lengthAdjust="spacingAndGlyphs" fill="#d0d0d0" opacity="0.36">РЕДУКТОРЫ</text>
<path d="M475.4,1085.1 L475.6,1049.0 L441.0,1029.0 L406.4,1049.0 L406.4,1089.0 L441.0,1109.0 M471.3,1051.5 L441.0,1034.0 L410.7,1051.5 L410.7,1086.5 L434.9,1103.5 M470.8,1056.3 L444.9,1036.8 L415.1,1049.5 L411.2,1081.7 L431.5,1100.0 M469.6,1060.8 L448.2,1040.1 L419.6,1048.3 L412.4,1077.2 L428.9,1096.2 M467.9,1064.7 L450.7,1043.6 L423.9,1047.9 L414.1,1073.3 L427.0,1092.3 M465.6,1068.1 L452.5,1047.3 L428.0,1048.1 L416.4,1069.9 L425.9,1088.4 " fill="none" stroke="#cfcfcf" stroke-width="1.0" opacity="0.4" stroke-linejoin="round"/>
<text x="459.0" y="1070.0" font-size="11" textLength="19" lengthAdjust="spacingAndGlyphs" fill="#d0d0d0" opacity="0.36">ЖИ</text>
<text x="442.0" y="1085.0" font-size="15.2" textLength="131" lengthAdjust="spacingAndGlyphs" fill="#d0d0d0" opacity="0.36">ПРОМЫШЛЕННЫЕ</text>
<text x="442.0" y="1107.5" font-size="21.8" textLength="130" lengthAdjust="spacingAndGlyphs" fill="#d0d0d0" opacity="0.36">РЕДУКТОРЫ</text>
<path d="M793.4,1085.1 L793.6,1049.0 L759.0,1029.0 L724.4,1049.0 L724.4,1089.0 L759.0,1109.0 M789.3,1051.5 L759.0,1034.0 L728.7,1051.5 L728.7,1086.5 L752.9,1103.5 M788.8,1056.3 L762.9,1036.8 L733.1,1049.5 L729.2,1081.7 L749.5,1100.0 M787.6,1060.8 L766.2,1040.1 L737.6,1048.3 L730.4,1077.2 L746.9,1096.2 M785.9,1064.7 L768.7,1043.6 L741.9,1047.9 L732.1,1073.3 L745.0,1092.3 M783.6,1068.1 L770.5,1047.3 L746.0,1048.1 L734.4,1069.9 L743.9,1088.4 " fill="none" stroke="#cfcfcf" stroke-width="1.0" opacity="0.4" stroke-linejoin="round"/>
<text x="777.0" y="1070.0" font-size="11" textLength="19" lengthAdjust="spacingAndGlyphs" fill="#d0d0d0" opacity="0.36">ЖИ</text>
<text x="760.0" y="1085.0" font-size="15.2" textLength="131" lengthAdjust="spacingAndGlyphs" fill="#d0d0d0" opacity="0.36">ПРОМЫШЛЕННЫЕ</text>
<text x="760.0" y="1107.5" font-size="21.8" textLength="130" lengthAdjust="spacingAndGlyphs" fill="#d0d0d0" opacity="0.36">РЕДУКТОРЫ</text>
<path d="M40.4,1189.0 L40.6,1152.9 L6.0,1132.9 L-28.6,1152.9 L-28.6,1192.9 L6.0,1212.9 M36.3,1155.4 L6.0,1137.9 L-24.3,1155.4 L-24.3,1190.4 L-0.1,1207.4 M35.8,1160.2 L9.9,1140.7 L-19.9,1153.4 L-23.8,1185.6 L-3.5,1203.9 M34.6,1164.7 L13.2,1144.0 L-15.4,1152.2 L-22.6,1181.1 L-6.1,1200.1 M32.9,1168.6 L15.7,1147.5 L-11.1,1151.8 L-20.9,1177.2 L-8.0,1196.2 M30.6,1172.0 L17.5,1151.2 L-7.0,1152.0 L-18.6,1173.8 L-9.1,1192.3 " fill="none" stroke="#cfcfcf" stroke-width="1.0" opacity="0.4" stroke-linejoin="round"/>
<text x="24.0" y="1173.9" font-size="11" textLength="19" lengthAdjust="spacingAndGlyphs" fill="#d0d0d0" opacity="0.36">ЖИ</text>
<text x="7.0" y="1188.9" font-size="15.2" textLength="131" lengthAdjust="spacingAndGlyphs" fill="#d0d0d0" opacity="0.36">ПРОМЫШЛЕННЫЕ</text>
<text x="7.0" y="1211.4" font-size="21.8" textLength="130" lengthAdjust="spacingAndGlyphs" fill="#d0d0d0" opacity="0.36">РЕДУКТОРЫ</text>
<path d="M358.4,1189.0 L358.6,1152.9 L324.0,1132.9 L289.4,1152.9 L289.4,1192.9 L324.0,1212.9 M354.3,1155.4 L324.0,1137.9 L293.7,1155.4 L293.7,1190.4 L317.9,1207.4 M353.8,1160.2 L327.9,1140.7 L298.1,1153.4 L294.2,1185.6 L314.5,1203.9 M352.6,1164.7 L331.2,1144.0 L302.6,1152.2 L295.4,1181.1 L311.9,1200.1 M350.9,1168.6 L333.7,1147.5 L306.9,1151.8 L297.1,1177.2 L310.0,1196.2 M348.6,1172.0 L335.5,1151.2 L311.0,1152.0 L299.4,1173.8 L308.9,1192.3 " fill="none" stroke="#cfcfcf" stroke-width="1.0" opacity="0.4" stroke-linejoin="round"/>
<text x="342.0" y="1173.9" font-size="11" textLength="19" lengthAdjust="spacingAndGlyphs" fill="#d0d0d0" opacity="0.36">ЖИ</text>
<text x="325.0" y="1188.9" font-size="15.2" textLength="131" lengthAdjust="spacingAndGlyphs" fill="#d0d0d0" opacity="0.36">ПРОМЫШЛЕННЫЕ</text>
<text x="325.0" y="1211.4" font-size="21.8" textLength="130" lengthAdjust="spacingAndGlyphs" fill="#d0d0d0" opacity="0.36">РЕДУКТОРЫ</text>
<path d="M676.4,1189.0 L676.6,1152.9 L642.0,1132.9 L607.4,1152.9 L607.4,1192.9 L642.0,1212.9 M672.3,1155.4 L642.0,1137.9 L611.7,1155.4 L611.7,1190.4 L635.9,1207.4 M671.8,1160.2 L645.9,1140.7 L616.1,1153.4 L612.2,1185.6 L632.5,1203.9 M670.6,1164.7 L649.2,1144.0 L620.6,1152.2 L613.4,1181.1 L629.9,1200.1 M668.9,1168.6 L651.7,1147.5 L624.9,1151.8 L615.1,1177.2 L628.0,1196.2 M666.6,1172.0 L653.5,1151.2 L629.0,1152.0 L617.4,1173.8 L626.9,1192.3 " fill="none" stroke="#cfcfcf" stroke-width="1.0" opacity="0.4" stroke-linejoin="round"/>
<text x="660.0" y="1173.9" font-size="11" textLength="19" lengthAdjust="spacingAndGlyphs" fill="#d0d0d0" opacity="0.36">ЖИ</text>
<text x="643.0" y="1188.9" font-size="15.2" textLength="131" lengthAdjust="spacingAndGlyphs" fill="#d0d0d0" opacity="0.36">ПРОМЫШЛЕННЫЕ</text>
<text x="643.0" y="1211.4" font-size="21.8" textLength="130" lengthAdjust="spacingAndGlyphs" fill="#d0d0d0" opacity="0.36">РЕДУКТОРЫ</text>
<path d="M994.4,1189.0 L994.6,1152.9 L960.0,1132.9 L925.4,1152.9 L925.4,1192.9 L960.0,1212.9 M990.3,1155.4 L960.0,1137.9 L929.7,1155.4 L929.7,1190.4 L953.9,1207.4 M989.8,1160.2 L963.9,1140.7 L934.1,1153.4 L930.2,1185.6 L950.5,1203.9 M988.6,1164.7 L967.2,1144.0 L938.6,1152.2 L931.4,1181.1 L947.9,1200.1 M986.9,1168.6 L969.7,1147.5 L942.9,1151.8 L933.1,1177.2 L946.0,1196.2 M984.6,1172.0 L971.5,1151.2 L947.0,1152.0 L935.4,1173.8 L944.9,1192.3 " fill="none" stroke="#cfcfcf" stroke-width="1.0" opacity="0.4" stroke-linejoin="round"/>
<text x="978.0" y="1173.9" font-size="11" textLength="19" lengthAdjust="spacingAndGlyphs" fill="#d0d0d0" opacity="0.36">ЖИ</text>
<text x="961.0" y="1188.9" font-size="15.2" textLength="131" lengthAdjust="spacingAndGlyphs" fill="#d0d0d0" opacity="0.36">ПРОМЫШЛЕННЫЕ</text>
<text x="961.0" y="1211.4" font-size="21.8" textLength="130" lengthAdjust="spacingAndGlyphs" fill="#d0d0d0" opacity="0.36">РЕДУКТОРЫ</text>
<path d="M-76.6,1292.9 L-76.4,1256.8 L-111.0,1236.8 L-145.6,1256.8 L-145.6,1296.8 L-111.0,1316.8 M-80.7,1259.3 L-111.0,1241.8 L-141.3,1259.3 L-141.3,1294.3 L-117.1,1311.3 M-81.2,1264.1 L-107.1,1244.6 L-136.9,1257.3 L-140.8,1289.5 L-120.5,1307.8 M-82.4,1268.6 L-103.8,1247.9 L-132.4,1256.1 L-139.6,1285.0 L-123.1,1304.0 M-84.1,1272.5 L-101.3,1251.4 L-128.1,1255.7 L-137.9,1281.1 L-125.0,1300.1 M-86.4,1275.9 L-99.5,1255.1 L-124.0,1255.9 L-135.6,1277.7 L-126.1,1296.2 " fill="none" stroke="#cfcfcf" stroke-width="1.0" opacity="0.4" stroke-linejoin="round"/>
<text x="-93.0" y="1277.8" font-size="11" textLength="19" lengthAdjust="spacingAndGlyphs" fill="#d0d0d0" opacity="0.36">ЖИ</text>
<text x="-110.0" y="1292.8" font-size="15.2" textLength="131" lengthAdjust="spacingAndGlyphs" fill="#d0d0d0" opacity="0.36">ПРОМЫШЛЕННЫЕ</text>
<text x="-110.0" y="1315.3" font-size="21.8" textLength="130" lengthAdjust="spacingAndGlyphs" fill="#d0d0d0" opacity="0.36">РЕДУКТОРЫ</text>
<path d="M241.4,1292.9 L241.6,1256.8 L207.0,1236.8 L172.4,1256.8 L172.4,1296.8 L207.0,1316.8 M237.3,1259.3 L207.0,1241.8 L176.7,1259.3 L176.7,1294.3 L200.9,1311.3 M236.8,1264.1 L210.9,1244.6 L181.1,1257.3 L177.2,1289.5 L197.5,1307.8 M235.6,1268.6 L214.2,1247.9 L185.6,1256.1 L178.4,1285.0 L194.9,1304.0 M233.9,1272.5 L216.7,1251.4 L189.9,1255.7 L180.1,1281.1 L193.0,1300.1 M231.6,1275.9 L218.5,1255.1 L194.0,1255.9 L182.4,1277.7 L191.9,1296.2 " fill="none" stroke="#cfcfcf" stroke-width="1.0" opacity="0.4" stroke-linejoin="round"/>
<text x="225.0" y="1277.8" font-size="11" textLength="19" lengthAdjust="spacingAndGlyphs" fill="#d0d0d0" opacity="0.36">ЖИ</text>
<text x="208.0" y="1292.8" font-size="15.2" textLength="131" lengthAdjust="spacingAndGlyphs" fill="#d0d0d0" opacity="0.36">ПРОМЫШЛЕННЫЕ</text>
<text x="208.0" y="1315.3" font-size="21.8" textLength="130" lengthAdjust="spacingAndGlyphs" fill="#d0d0d0" opacity="0.36">РЕДУКТОРЫ</text>
<path d="M559.4,1292.9 L559.6,1256.8 L525.0,1236.8 L490.4,1256.8 L490.4,1296.8 L525.0,1316.8 M555.3,1259.3 L525.0,1241.8 L494.7,1259.3 L494.7,1294.3 L518.9,1311.3 M554.8,1264.1 L528.9,1244.6 L499.1,1257.3 L495.2,1289.5 L515.5,1307.8 M553.6,1268.6 L532.2,1247.9 L503.6,1256.1 L496.4,1285.0 L512.9,1304.0 M551.9,1272.5 L534.7,1251.4 L507.9,1255.7 L498.1,1281.1 L511.0,1300.1 M549.6,1275.9 L536.5,1255.1 L512.0,1255.9 L500.4,1277.7 L509.9,1296.2 " fill="none" stroke="#cfcfcf" stroke-width="1.0" opacity="0.4" stroke-linejoin="round"/>
<text x="543.0" y="1277.8" font-size="11" textLength="19" lengthAdjust="spacingAndGlyphs" fill="#d0d0d0" opacity="0.36">ЖИ</text>
<text x="526.0" y="1292.8" font-size="15.2" textLength="131" lengthAdjust="spacingAndGlyphs" fill="#d0d0d0" opacity="0.36">ПРОМЫШЛЕННЫЕ</text>
<text x="526.0" y="1315.3" font-size="21.8" textLength="130" lengthAdjust="spacingAndGlyphs" fill="#d0d0d0" opacity="0.36">РЕДУКТОРЫ</text>
<path d="M877.4,1292.9 L877.6,1256.8 L843.0,1236.8 L808.4,1256.8 L808.4,1296.8 L843.0,1316.8 M873.3,1259.3 L843.0,1241.8 L812.7,1259.3 L812.7,1294.3 L836.9,1311.3 M872.8,1264.1 L846.9,1244.6 L817.1,1257.3 L813.2,1289.5 L833.5,1307.8 M871.6,1268.6 L850.2,1247.9 L821.6,1256.1 L814.4,1285.0 L830.9,1304.0 M869.9,1272.5 L852.7,1251.4 L825.9,1255.7 L816.1,1281.1 L829.0,1300.1 M867.6,1275.9 L854.5,1255.1 L830.0,1255.9 L818.4,1277.7 L827.9,1296.2 " fill="none" stroke="#cfcfcf" stroke-width="1.0" opacity="0.4" stroke-linejoin="round"/>
<text x="861.0" y="1277.8" font-size="11" textLength="19" lengthAdjust="spacingAndGlyphs" fill="#d0d0d0" opacity="0.36">ЖИ</text>
<text x="844.0" y="1292.8" font-size="15.2" textLength="131" lengthAdjust="spacingAndGlyphs" fill="#d0d0d0" opacity="0.36">ПРОМЫШЛЕННЫЕ</text>
<text x="844.0" y="1315.3" font-size="21.8" textLength="130" lengthAdjust="spacingAndGlyphs" fill="#d0d0d0" opacity="0.36">РЕДУКТОРЫ</text>
<path d="M124.4,1396.8 L124.6,1360.7 L90.0,1340.7 L55.4,1360.7 L55.4,1400.7 L90.0,1420.7 M120.3,1363.2 L90.0,1345.7 L59.7,1363.2 L59.7,1398.2 L83.9,1415.2 M119.8,1368.0 L93.9,1348.5 L64.1,1361.2 L60.2,1393.4 L80.5,1411.7 M118.6,1372.5 L97.2,1351.8 L68.6,1360.0 L61.4,1388.9 L77.9,1407.9 M116.9,1376.4 L99.7,1355.3 L72.9,1359.6 L63.1,1385.0 L76.0,1404.0 M114.6,1379.8 L101.5,1359.0 L77.0,1359.8 L65.4,1381.6 L74.9,1400.1 " fill="none" stroke="#cfcfcf" stroke-width="1.0" opacity="0.4" stroke-linejoin="round"/>
<text x="108.0" y="1381.7" font-size="11" textLength="19" lengthAdjust="spacingAndGlyphs" fill="#d0d0d0" opacity="0.36">ЖИ</text>
<text x="91.0" y="1396.7" font-size="15.2" textLength="131" lengthAdjust="spacingAndGlyphs" fill="#d0d0d0" opacity="0.36">ПРОМЫШЛЕННЫЕ</text>
<text x="91.0" y="1419.2" font-size="21.8" textLength="130" lengthAdjust="spacingAndGlyphs" fill="#d0d0d0" opacity="0.36">РЕДУКТОРЫ</text>
<path d="M442.4,1396.8 L442.6,1360.7 L408.0,1340.7 L373.4,1360.7 L373.4,1400.7 L408.0,1420.7 M438.3,1363.2 L408.0,1345.7 L377.7,1363.2 L377.7,1398.2 L401.9,1415.2 M437.8,1368.0 L411.9,1348.5 L382.1,1361.2 L378.2,1393.4 L398.5,1411.7 M436.6,1372.5 L415.2,1351.8 L386.6,1360.0 L379.4,1388.9 L395.9,1407.9 M434.9,1376.4 L417.7,1355.3 L390.9,1359.6 L381.1,1385.0 L394.0,1404.0 M432.6,1379.8 L419.5,1359.0 L395.0,1359.8 L383.4,1381.6 L392.9,1400.1 " fill="none" stroke="#cfcfcf" stroke-width="1.0" opacity="0.4" stroke-linejoin="round"/>
<text x="426.0" y="1381.7" font-size="11" textLength="19" lengthAdjust="spacingAndGlyphs" fill="#d0d0d0" opacity="0.36">ЖИ</text>
<text x="409.0" y="1396.7" font-size="15.2" textLength="131" lengthAdjust="spacingAndGlyphs" fill="#d0d0d0" opacity="0.36">ПРОМЫШЛЕННЫЕ</text>
<text x="409.0" y="1419.2" font-size="21.8" textLength="130" lengthAdjust="spacingAndGlyphs" fill="#d0d0d0" opacity="0.36">РЕДУКТОРЫ</text>
<path d="M760.4,1396.8 L760.6,1360.7 L726.0,1340.7 L691.4,1360.7 L691.4,1400.7 L726.0,1420.7 M756.3,1363.2 L726.0,1345.7 L695.7,1363.2 L695.7,1398.2 L719.9,1415.2 M755.8,1368.0 L729.9,1348.5 L700.1,1361.2 L696.2,1393.4 L716.5,1411.7 M754.6,1372.5 L733.2,1351.8 L704.6,1360.0 L697.4,1388.9 L713.9,1407.9 M752.9,1376.4 L735.7,1355.3 L708.9,1359.6 L699.1,1385.0 L712.0,1404.0 M750.6,1379.8 L737.5,1359.0 L713.0,1359.8 L701.4,1381.6 L710.9,1400.1 " fill="none" stroke="#cfcfcf" stroke-width="1.0" opacity="0.4" stroke-linejoin="round"/>
<text x="744.0" y="1381.7" font-size="11" textLength="19" lengthAdjust="spacingAndGlyphs" fill="#d0d0d0" opacity="0.36">ЖИ</text>
<text x="727.0" y="1396.7" font-size="15.2" textLength="131" lengthAdjust="spacingAndGlyphs" fill="#d0d0d0" opacity="0.36">ПРОМЫШЛЕННЫЕ</text>
<text x="727.0" y="1419.2" font-size="21.8" textLength="130" lengthAdjust="spacingAndGlyphs" fill="#d0d0d0" opacity="0.36">РЕДУКТОРЫ</text>
<path d="M7.4,1500.7 L7.6,1464.6 L-27.0,1444.6 L-61.6,1464.6 L-61.6,1504.6 L-27.0,1524.6 M3.3,1467.1 L-27.0,1449.6 L-57.3,1467.1 L-57.3,1502.1 L-33.1,1519.1 M2.8,1471.9 L-23.1,1452.4 L-52.9,1465.1 L-56.8,1497.3 L-36.5,1515.6 M1.6,1476.4 L-19.8,1455.7 L-48.4,1463.9 L-55.6,1492.8 L-39.1,1511.8 M-0.1,1480.3 L-17.3,1459.2 L-44.1,1463.5 L-53.9,1488.9 L-41.0,1507.9 M-2.4,1483.7 L-15.5,1462.9 L-40.0,1463.7 L-51.6,1485.5 L-42.1,1504.0 " fill="none" stroke="#cfcfcf" stroke-width="1.0" opacity="0.4" stroke-linejoin="round"/>
<text x="-9.0" y="1485.6" font-size="11" textLength="19" lengthAdjust="spacingAndGlyphs" fill="#d0d0d0" opacity="0.36">ЖИ</text>
<text x="-26.0" y="1500.6" font-size="15.2" textLength="131" lengthAdjust="spacingAndGlyphs" fill="#d0d0d0" opacity="0.36">ПРОМЫШЛЕННЫЕ</text>
<text x="-26.0" y="1523.1" font-size="21.8" textLength="130" lengthAdjust="spacingAndGlyphs" fill="#d0d0d0" opacity="0.36">РЕДУКТОРЫ</text>
<path d="M325.4,1500.7 L325.6,1464.6 L291.0,1444.6 L256.4,1464.6 L256.4,1504.6 L291.0,1524.6 M321.3,1467.1 L291.0,1449.6 L260.7,1467.1 L260.7,1502.1 L284.9,1519.1 M320.8,1471.9 L294.9,1452.4 L265.1,1465.1 L261.2,1497.3 L281.5,1515.6 M319.6,1476.4 L298.2,1455.7 L269.6,1463.9 L262.4,1492.8 L278.9,1511.8 M317.9,1480.3 L300.7,1459.2 L273.9,1463.5 L264.1,1488.9 L277.0,1507.9 M315.6,1483.7 L302.5,1462.9 L278.0,1463.7 L266.4,1485.5 L275.9,1504.0 " fill="none" stroke="#cfcfcf" stroke-width="1.0" opacity="0.4" stroke-linejoin="round"/>
<text x="309.0" y="1485.6" font-size="11" textLength="19" lengthAdjust="spacingAndGlyphs" fill="#d0d0d0" opacity="0.36">ЖИ</text>
<text x="292.0" y="1500.6" font-size="15.2" textLength="131" lengthAdjust="spacingAndGlyphs" fill="#d0d0d0" opacity="0.36">ПРОМЫШЛЕННЫЕ</text>
<text x="292.0" y="1523.1" font-size="21.8" textLength="130" lengthAdjust="spacingAndGlyphs" fill="#d0d0d0" opacity="0.36">РЕДУКТОРЫ</text>
<path d="M643.4,1500.7 L643.6,1464.6 L609.0,1444.6 L574.4,1464.6 L574.4,1504.6 L609.0,1524.6 M639.3,1467.1 L609.0,1449.6 L578.7,1467.1 L578.7,1502.1 L602.9,1519.1 M638.8,1471.9 L612.9,1452.4 L583.1,1465.1 L579.2,1497.3 L599.5,1515.6 M637.6,1476.4 L616.2,1455.7 L587.6,1463.9 L580.4,1492.8 L596.9,1511.8 M635.9,1480.3 L618.7,1459.2 L591.9,1463.5 L582.1,1488.9 L595.0,1507.9 M633.6,1483.7 L620.5,1462.9 L596.0,1463.7 L584.4,1485.5 L593.9,1504.0 " fill="none" stroke="#cfcfcf" stroke-width="1.0" opacity="0.4" stroke-linejoin="round"/>
<text x="627.0" y="1485.6" font-size="11" textLength="19" lengthAdjust="spacingAndGlyphs" fill="#d0d0d0" opacity="0.36">ЖИ</text>
<text x="610.0" y="1500.6" font-size="15.2" textLength="131" lengthAdjust="spacingAndGlyphs" fill="#d0d0d0" opacity="0.36">ПРОМЫШЛЕННЫЕ</text>
<text x="610.0" y="1523.1" font-size="21.8" textLength="130" lengthAdjust="spacingAndGlyphs" fill="#d0d0d0" opacity="0.36">РЕДУКТОРЫ</text>
<path d="M961.4,1500.7 L961.6,1464.6 L927.0,1444.6 L892.4,1464.6 L892.4,1504.6 L927.0,1524.6 M957.3,1467.1 L927.0,1449.6 L896.7,1467.1 L896.7,1502.1 L920.9,1519.1 M956.8,1471.9 L930.9,1452.4 L901.1,1465.1 L897.2,1497.3 L917.5,1515.6 M955.6,1476.4 L934.2,1455.7 L905.6,1463.9 L898.4,1492.8 L914.9,1511.8 M953.9,1480.3 L936.7,1459.2 L909.9,1463.5 L900.1,1488.9 L913.0,1507.9 M951.6,1483.7 L938.5,1462.9 L914.0,1463.7 L902.4,1485.5 L911.9,1504.0 " fill="none" stroke="#cfcfcf" stroke-width="1.0" opacity="0.4" stroke-linejoin="round"/>
<text x="945.0" y="1485.6" font-size="11" textLength="19" lengthAdjust="spacingAndGlyphs" fill="#d0d0d0" opacity="0.36">ЖИ</text>
<text x="928.0" y="1500.6" font-size="15.2" textLength="131" lengthAdjust="spacingAndGlyphs" fill="#d0d0d0" opacity="0.36">ПРОМЫШЛЕННЫЕ</text>
<text x="928.0" y="1523.1" font-size="21.8" textLength="130" lengthAdjust="spacingAndGlyphs" fill="#d0d0d0" opacity="0.36">РЕДУКТОРЫ</text>
</g>
</svg></body></html>
